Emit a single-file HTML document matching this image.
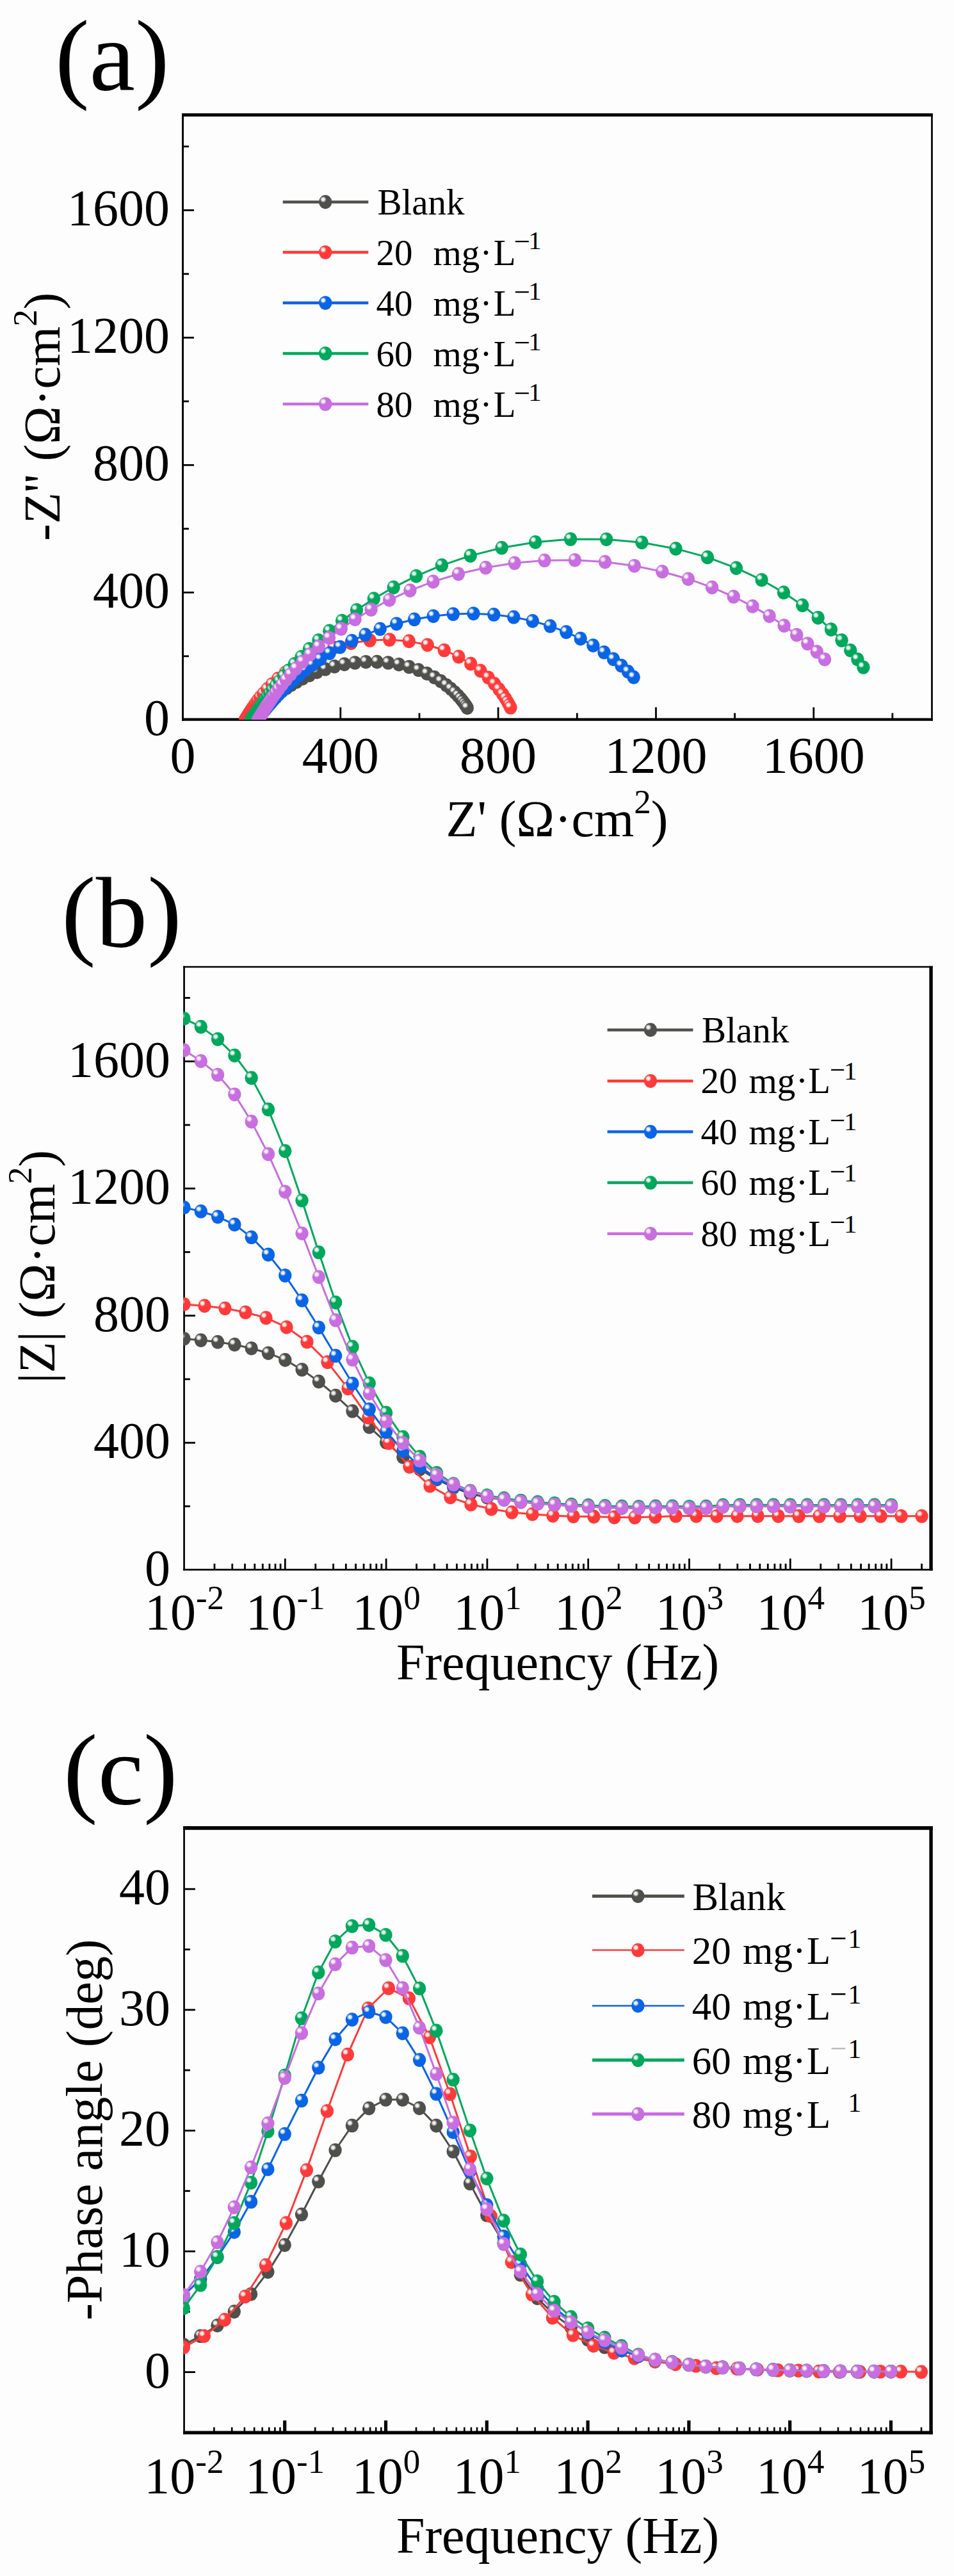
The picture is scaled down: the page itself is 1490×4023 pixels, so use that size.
<!DOCTYPE html>
<html><head><meta charset="utf-8"><style>
html,body{margin:0;padding:0;background:#fdfdfe;}
svg{display:block;}
text{font-family:"Liberation Serif", serif;fill:#000;}
</style></head><body>
<svg width="1490" height="4023" viewBox="0 0 1490 4023">
<defs><radialGradient id="hl"><stop offset="0" stop-color="#fff" stop-opacity="1"/><stop offset="0.45" stop-color="#fff" stop-opacity="0.85"/><stop offset="1" stop-color="#fff" stop-opacity="0"/></radialGradient></defs>
<rect width="1490" height="4023" fill="#fdfdfe"/>
<g stroke="#000" fill="none" stroke-linecap="butt">
<line x1="285.5" y1="177.0" x2="285.5" y2="1125.8" stroke-width="3"/>
<line x1="1455.5" y1="177.0" x2="1455.5" y2="1125.8" stroke-width="2.7"/>
<line x1="284.0" y1="179.5" x2="1456.85" y2="179.5" stroke-width="5"/>
<line x1="284.0" y1="1123.7" x2="1456.85" y2="1123.7" stroke-width="4.2"/>
</g>
<g stroke="#000">
<line x1="286" y1="925.3" x2="303" y2="925.3" stroke-width="2.8"/>
<line x1="286" y1="726.3" x2="303" y2="726.3" stroke-width="2.8"/>
<line x1="286" y1="527.3" x2="303" y2="527.3" stroke-width="2.8"/>
<line x1="286" y1="328.3" x2="303" y2="328.3" stroke-width="2.8"/>
<line x1="286" y1="1024.8" x2="295" y2="1024.8" stroke-width="2.8"/>
<line x1="286" y1="825.8" x2="295" y2="825.8" stroke-width="2.8"/>
<line x1="286" y1="626.8" x2="295" y2="626.8" stroke-width="2.8"/>
<line x1="286" y1="427.8" x2="295" y2="427.8" stroke-width="2.8"/>
<line x1="286" y1="228.8" x2="295" y2="228.8" stroke-width="2.8"/>
</g>
<g stroke="#000">
<line x1="531.8" y1="1122.6" x2="531.8" y2="1104.6" stroke-width="2.8"/>
<line x1="778.1" y1="1122.6" x2="778.1" y2="1104.6" stroke-width="2.8"/>
<line x1="1024.5" y1="1122.6" x2="1024.5" y2="1104.6" stroke-width="2.8"/>
<line x1="1270.8" y1="1122.6" x2="1270.8" y2="1104.6" stroke-width="2.8"/>
<line x1="408.7" y1="1122.6" x2="408.7" y2="1113.6" stroke-width="2.8"/>
<line x1="655.0" y1="1122.6" x2="655.0" y2="1113.6" stroke-width="2.8"/>
<line x1="901.3" y1="1122.6" x2="901.3" y2="1113.6" stroke-width="2.8"/>
<line x1="1147.6" y1="1122.6" x2="1147.6" y2="1113.6" stroke-width="2.8"/>
<line x1="1393.9" y1="1122.6" x2="1393.9" y2="1113.6" stroke-width="2.8"/>
</g>
<clipPath id="ca"><rect x="284" y="177" width="1170" height="947"/></clipPath><g clip-path="url(#ca)">
<polyline points="390.6,1124.2 390.6,1124.2 390.6,1124.2 390.6,1124.2 390.6,1124.2 390.6,1124.1 390.7,1124.1 390.7,1124.1 390.7,1124.1 390.7,1124.1 390.7,1124.0 390.8,1124.0 390.8,1124.0 390.9,1123.9 390.9,1123.9 390.9,1123.8 391.0,1123.8 391.1,1123.7 391.1,1123.6 391.2,1123.5 391.3,1123.4 391.4,1123.3 391.5,1123.2 391.6,1123.1 391.8,1122.9 391.9,1122.8 392.1,1122.6 392.3,1122.4 392.5,1122.2 392.7,1121.9 393.0,1121.6 393.3,1121.3 393.6,1121.0 394.0,1120.6 394.4,1120.1 394.9,1119.6 395.4,1119.1 396.0,1118.5 396.7,1117.8 397.4,1117.0 398.2,1116.1 399.2,1115.2 400.2,1114.1 401.4,1112.9 402.7,1111.5 404.2,1110.0 405.9,1108.4 407.8,1106.5 410.0,1104.5 412.4,1102.2 415.1,1099.7 418.2,1097.0 421.7,1094.0 425.6,1090.7 430.1,1087.1 435.1,1083.1 440.9,1078.9 447.4,1074.5 454.8,1069.7 463.2,1064.8 472.6,1059.7 483.2,1054.6 495.0,1049.7 508.1,1045.0 522.4,1040.8 537.9,1037.4 554.4,1035.0 571.5,1033.7 588.9,1033.6 606.3,1035.0 623.1,1037.7 639.0,1041.5 653.7,1046.3 666.8,1051.9 678.5,1057.8 688.5,1063.9 697.1,1070.0 704.3,1075.9 710.4,1081.4 715.4,1086.5 719.5,1091.2 722.9,1095.4 725.7,1099.1 728.0,1102.4 729.8,1105.4" fill="none" stroke="#4f4f4b" stroke-width="3.0" stroke-linejoin="round"/>
<ellipse cx="390.6" cy="1124.2" rx="10.2" ry="10.8" fill="#4f4f4b"/><circle cx="387.2" cy="1120.2" r="5" fill="url(#hl)"/><ellipse cx="390.6" cy="1124.2" rx="10.2" ry="10.8" fill="#4f4f4b"/><circle cx="387.2" cy="1120.2" r="5" fill="url(#hl)"/><ellipse cx="390.6" cy="1124.2" rx="10.2" ry="10.8" fill="#4f4f4b"/><circle cx="387.2" cy="1120.2" r="5" fill="url(#hl)"/><ellipse cx="390.6" cy="1124.2" rx="10.2" ry="10.8" fill="#4f4f4b"/><circle cx="387.2" cy="1120.2" r="5" fill="url(#hl)"/><ellipse cx="390.6" cy="1124.2" rx="10.2" ry="10.8" fill="#4f4f4b"/><circle cx="387.2" cy="1120.2" r="5" fill="url(#hl)"/><ellipse cx="390.6" cy="1124.1" rx="10.2" ry="10.8" fill="#4f4f4b"/><circle cx="387.2" cy="1120.1" r="5" fill="url(#hl)"/><ellipse cx="390.7" cy="1124.1" rx="10.2" ry="10.8" fill="#4f4f4b"/><circle cx="387.3" cy="1120.1" r="5" fill="url(#hl)"/><ellipse cx="390.7" cy="1124.1" rx="10.2" ry="10.8" fill="#4f4f4b"/><circle cx="387.3" cy="1120.1" r="5" fill="url(#hl)"/><ellipse cx="390.7" cy="1124.1" rx="10.2" ry="10.8" fill="#4f4f4b"/><circle cx="387.3" cy="1120.1" r="5" fill="url(#hl)"/><ellipse cx="390.7" cy="1124.1" rx="10.2" ry="10.8" fill="#4f4f4b"/><circle cx="387.3" cy="1120.1" r="5" fill="url(#hl)"/><ellipse cx="390.7" cy="1124.0" rx="10.2" ry="10.8" fill="#4f4f4b"/><circle cx="387.3" cy="1120.0" r="5" fill="url(#hl)"/><ellipse cx="390.8" cy="1124.0" rx="10.2" ry="10.8" fill="#4f4f4b"/><circle cx="387.4" cy="1120.0" r="5" fill="url(#hl)"/><ellipse cx="390.8" cy="1124.0" rx="10.2" ry="10.8" fill="#4f4f4b"/><circle cx="387.4" cy="1120.0" r="5" fill="url(#hl)"/><ellipse cx="390.9" cy="1123.9" rx="10.2" ry="10.8" fill="#4f4f4b"/><circle cx="387.5" cy="1119.9" r="5" fill="url(#hl)"/><ellipse cx="390.9" cy="1123.9" rx="10.2" ry="10.8" fill="#4f4f4b"/><circle cx="387.5" cy="1119.9" r="5" fill="url(#hl)"/><ellipse cx="390.9" cy="1123.8" rx="10.2" ry="10.8" fill="#4f4f4b"/><circle cx="387.5" cy="1119.8" r="5" fill="url(#hl)"/><ellipse cx="391.0" cy="1123.8" rx="10.2" ry="10.8" fill="#4f4f4b"/><circle cx="387.6" cy="1119.8" r="5" fill="url(#hl)"/><ellipse cx="391.1" cy="1123.7" rx="10.2" ry="10.8" fill="#4f4f4b"/><circle cx="387.7" cy="1119.7" r="5" fill="url(#hl)"/><ellipse cx="391.1" cy="1123.6" rx="10.2" ry="10.8" fill="#4f4f4b"/><circle cx="387.7" cy="1119.6" r="5" fill="url(#hl)"/><ellipse cx="391.2" cy="1123.5" rx="10.2" ry="10.8" fill="#4f4f4b"/><circle cx="387.8" cy="1119.5" r="5" fill="url(#hl)"/><ellipse cx="391.3" cy="1123.4" rx="10.2" ry="10.8" fill="#4f4f4b"/><circle cx="387.9" cy="1119.4" r="5" fill="url(#hl)"/><ellipse cx="391.4" cy="1123.3" rx="10.2" ry="10.8" fill="#4f4f4b"/><circle cx="388.0" cy="1119.3" r="5" fill="url(#hl)"/><ellipse cx="391.5" cy="1123.2" rx="10.2" ry="10.8" fill="#4f4f4b"/><circle cx="388.1" cy="1119.2" r="5" fill="url(#hl)"/><ellipse cx="391.6" cy="1123.1" rx="10.2" ry="10.8" fill="#4f4f4b"/><circle cx="388.2" cy="1119.1" r="5" fill="url(#hl)"/><ellipse cx="391.8" cy="1122.9" rx="10.2" ry="10.8" fill="#4f4f4b"/><circle cx="388.4" cy="1118.9" r="5" fill="url(#hl)"/><ellipse cx="391.9" cy="1122.8" rx="10.2" ry="10.8" fill="#4f4f4b"/><circle cx="388.5" cy="1118.8" r="5" fill="url(#hl)"/><ellipse cx="392.1" cy="1122.6" rx="10.2" ry="10.8" fill="#4f4f4b"/><circle cx="388.7" cy="1118.6" r="5" fill="url(#hl)"/><ellipse cx="392.3" cy="1122.4" rx="10.2" ry="10.8" fill="#4f4f4b"/><circle cx="388.9" cy="1118.4" r="5" fill="url(#hl)"/><ellipse cx="392.5" cy="1122.2" rx="10.2" ry="10.8" fill="#4f4f4b"/><circle cx="389.1" cy="1118.2" r="5" fill="url(#hl)"/><ellipse cx="392.7" cy="1121.9" rx="10.2" ry="10.8" fill="#4f4f4b"/><circle cx="389.3" cy="1117.9" r="5" fill="url(#hl)"/><ellipse cx="393.0" cy="1121.6" rx="10.2" ry="10.8" fill="#4f4f4b"/><circle cx="389.6" cy="1117.6" r="5" fill="url(#hl)"/><ellipse cx="393.3" cy="1121.3" rx="10.2" ry="10.8" fill="#4f4f4b"/><circle cx="389.9" cy="1117.3" r="5" fill="url(#hl)"/><ellipse cx="393.6" cy="1121.0" rx="10.2" ry="10.8" fill="#4f4f4b"/><circle cx="390.2" cy="1117.0" r="5" fill="url(#hl)"/><ellipse cx="394.0" cy="1120.6" rx="10.2" ry="10.8" fill="#4f4f4b"/><circle cx="390.6" cy="1116.6" r="5" fill="url(#hl)"/><ellipse cx="394.4" cy="1120.1" rx="10.2" ry="10.8" fill="#4f4f4b"/><circle cx="391.0" cy="1116.1" r="5" fill="url(#hl)"/><ellipse cx="394.9" cy="1119.6" rx="10.2" ry="10.8" fill="#4f4f4b"/><circle cx="391.5" cy="1115.6" r="5" fill="url(#hl)"/><ellipse cx="395.4" cy="1119.1" rx="10.2" ry="10.8" fill="#4f4f4b"/><circle cx="392.0" cy="1115.1" r="5" fill="url(#hl)"/><ellipse cx="396.0" cy="1118.5" rx="10.2" ry="10.8" fill="#4f4f4b"/><circle cx="392.6" cy="1114.5" r="5" fill="url(#hl)"/><ellipse cx="396.7" cy="1117.8" rx="10.2" ry="10.8" fill="#4f4f4b"/><circle cx="393.3" cy="1113.8" r="5" fill="url(#hl)"/><ellipse cx="397.4" cy="1117.0" rx="10.2" ry="10.8" fill="#4f4f4b"/><circle cx="394.0" cy="1113.0" r="5" fill="url(#hl)"/><ellipse cx="398.2" cy="1116.1" rx="10.2" ry="10.8" fill="#4f4f4b"/><circle cx="394.8" cy="1112.1" r="5" fill="url(#hl)"/><ellipse cx="399.2" cy="1115.2" rx="10.2" ry="10.8" fill="#4f4f4b"/><circle cx="395.8" cy="1111.2" r="5" fill="url(#hl)"/><ellipse cx="400.2" cy="1114.1" rx="10.2" ry="10.8" fill="#4f4f4b"/><circle cx="396.8" cy="1110.1" r="5" fill="url(#hl)"/><ellipse cx="401.4" cy="1112.9" rx="10.2" ry="10.8" fill="#4f4f4b"/><circle cx="398.0" cy="1108.9" r="5" fill="url(#hl)"/><ellipse cx="402.7" cy="1111.5" rx="10.2" ry="10.8" fill="#4f4f4b"/><circle cx="399.3" cy="1107.5" r="5" fill="url(#hl)"/><ellipse cx="404.2" cy="1110.0" rx="10.2" ry="10.8" fill="#4f4f4b"/><circle cx="400.8" cy="1106.0" r="5" fill="url(#hl)"/><ellipse cx="405.9" cy="1108.4" rx="10.2" ry="10.8" fill="#4f4f4b"/><circle cx="402.5" cy="1104.4" r="5" fill="url(#hl)"/><ellipse cx="407.8" cy="1106.5" rx="10.2" ry="10.8" fill="#4f4f4b"/><circle cx="404.4" cy="1102.5" r="5" fill="url(#hl)"/><ellipse cx="410.0" cy="1104.5" rx="10.2" ry="10.8" fill="#4f4f4b"/><circle cx="406.6" cy="1100.5" r="5" fill="url(#hl)"/><ellipse cx="412.4" cy="1102.2" rx="10.2" ry="10.8" fill="#4f4f4b"/><circle cx="409.0" cy="1098.2" r="5" fill="url(#hl)"/><ellipse cx="415.1" cy="1099.7" rx="10.2" ry="10.8" fill="#4f4f4b"/><circle cx="411.7" cy="1095.7" r="5" fill="url(#hl)"/><ellipse cx="418.2" cy="1097.0" rx="10.2" ry="10.8" fill="#4f4f4b"/><circle cx="414.8" cy="1093.0" r="5" fill="url(#hl)"/><ellipse cx="421.7" cy="1094.0" rx="10.2" ry="10.8" fill="#4f4f4b"/><circle cx="418.3" cy="1090.0" r="5" fill="url(#hl)"/><ellipse cx="425.6" cy="1090.7" rx="10.2" ry="10.8" fill="#4f4f4b"/><circle cx="422.2" cy="1086.7" r="5" fill="url(#hl)"/><ellipse cx="430.1" cy="1087.1" rx="10.2" ry="10.8" fill="#4f4f4b"/><circle cx="426.7" cy="1083.1" r="5" fill="url(#hl)"/><ellipse cx="435.1" cy="1083.1" rx="10.2" ry="10.8" fill="#4f4f4b"/><circle cx="431.7" cy="1079.1" r="5" fill="url(#hl)"/><ellipse cx="440.9" cy="1078.9" rx="10.2" ry="10.8" fill="#4f4f4b"/><circle cx="437.5" cy="1074.9" r="5" fill="url(#hl)"/><ellipse cx="447.4" cy="1074.5" rx="10.2" ry="10.8" fill="#4f4f4b"/><circle cx="444.0" cy="1070.5" r="5" fill="url(#hl)"/><ellipse cx="454.8" cy="1069.7" rx="10.2" ry="10.8" fill="#4f4f4b"/><circle cx="451.4" cy="1065.7" r="5" fill="url(#hl)"/><ellipse cx="463.2" cy="1064.8" rx="10.2" ry="10.8" fill="#4f4f4b"/><circle cx="459.8" cy="1060.8" r="5" fill="url(#hl)"/><ellipse cx="472.6" cy="1059.7" rx="10.2" ry="10.8" fill="#4f4f4b"/><circle cx="469.2" cy="1055.7" r="5" fill="url(#hl)"/><ellipse cx="483.2" cy="1054.6" rx="10.2" ry="10.8" fill="#4f4f4b"/><circle cx="479.8" cy="1050.6" r="5" fill="url(#hl)"/><ellipse cx="495.0" cy="1049.7" rx="10.2" ry="10.8" fill="#4f4f4b"/><circle cx="491.6" cy="1045.7" r="5" fill="url(#hl)"/><ellipse cx="508.1" cy="1045.0" rx="10.2" ry="10.8" fill="#4f4f4b"/><circle cx="504.7" cy="1041.0" r="5" fill="url(#hl)"/><ellipse cx="522.4" cy="1040.8" rx="10.2" ry="10.8" fill="#4f4f4b"/><circle cx="519.0" cy="1036.8" r="5" fill="url(#hl)"/><ellipse cx="537.9" cy="1037.4" rx="10.2" ry="10.8" fill="#4f4f4b"/><circle cx="534.5" cy="1033.4" r="5" fill="url(#hl)"/><ellipse cx="554.4" cy="1035.0" rx="10.2" ry="10.8" fill="#4f4f4b"/><circle cx="551.0" cy="1031.0" r="5" fill="url(#hl)"/><ellipse cx="571.5" cy="1033.7" rx="10.2" ry="10.8" fill="#4f4f4b"/><circle cx="568.1" cy="1029.7" r="5" fill="url(#hl)"/><ellipse cx="588.9" cy="1033.6" rx="10.2" ry="10.8" fill="#4f4f4b"/><circle cx="585.5" cy="1029.6" r="5" fill="url(#hl)"/><ellipse cx="606.3" cy="1035.0" rx="10.2" ry="10.8" fill="#4f4f4b"/><circle cx="602.9" cy="1031.0" r="5" fill="url(#hl)"/><ellipse cx="623.1" cy="1037.7" rx="10.2" ry="10.8" fill="#4f4f4b"/><circle cx="619.7" cy="1033.7" r="5" fill="url(#hl)"/><ellipse cx="639.0" cy="1041.5" rx="10.2" ry="10.8" fill="#4f4f4b"/><circle cx="635.6" cy="1037.5" r="5" fill="url(#hl)"/><ellipse cx="653.7" cy="1046.3" rx="10.2" ry="10.8" fill="#4f4f4b"/><circle cx="650.3" cy="1042.3" r="5" fill="url(#hl)"/><ellipse cx="666.8" cy="1051.9" rx="10.2" ry="10.8" fill="#4f4f4b"/><circle cx="663.4" cy="1047.9" r="5" fill="url(#hl)"/><ellipse cx="678.5" cy="1057.8" rx="10.2" ry="10.8" fill="#4f4f4b"/><circle cx="675.1" cy="1053.8" r="5" fill="url(#hl)"/><ellipse cx="688.5" cy="1063.9" rx="10.2" ry="10.8" fill="#4f4f4b"/><circle cx="685.1" cy="1059.9" r="5" fill="url(#hl)"/><ellipse cx="697.1" cy="1070.0" rx="10.2" ry="10.8" fill="#4f4f4b"/><circle cx="693.7" cy="1066.0" r="5" fill="url(#hl)"/><ellipse cx="704.3" cy="1075.9" rx="10.2" ry="10.8" fill="#4f4f4b"/><circle cx="700.9" cy="1071.9" r="5" fill="url(#hl)"/><ellipse cx="710.4" cy="1081.4" rx="10.2" ry="10.8" fill="#4f4f4b"/><circle cx="707.0" cy="1077.4" r="5" fill="url(#hl)"/><ellipse cx="715.4" cy="1086.5" rx="10.2" ry="10.8" fill="#4f4f4b"/><circle cx="712.0" cy="1082.5" r="5" fill="url(#hl)"/><ellipse cx="719.5" cy="1091.2" rx="10.2" ry="10.8" fill="#4f4f4b"/><circle cx="716.1" cy="1087.2" r="5" fill="url(#hl)"/><ellipse cx="722.9" cy="1095.4" rx="10.2" ry="10.8" fill="#4f4f4b"/><circle cx="719.5" cy="1091.4" r="5" fill="url(#hl)"/><ellipse cx="725.7" cy="1099.1" rx="10.2" ry="10.8" fill="#4f4f4b"/><circle cx="722.3" cy="1095.1" r="5" fill="url(#hl)"/><ellipse cx="728.0" cy="1102.4" rx="10.2" ry="10.8" fill="#4f4f4b"/><circle cx="724.6" cy="1098.4" r="5" fill="url(#hl)"/><ellipse cx="729.8" cy="1105.4" rx="10.2" ry="10.8" fill="#4f4f4b"/><circle cx="726.4" cy="1101.4" r="5" fill="url(#hl)"/>
<polyline points="383.3,1124.3 383.3,1124.3 383.3,1124.3 383.3,1124.3 383.3,1124.3 383.3,1124.3 383.3,1124.3 383.3,1124.3 383.3,1124.2 383.3,1124.2 383.3,1124.2 383.3,1124.2 383.3,1124.2 383.3,1124.2 383.3,1124.1 383.4,1124.1 383.4,1124.1 383.4,1124.0 383.4,1124.0 383.5,1123.9 383.5,1123.9 383.5,1123.8 383.6,1123.7 383.6,1123.6 383.7,1123.5 383.8,1123.3 383.9,1123.1 384.0,1122.9 384.2,1122.6 384.3,1122.3 384.6,1121.9 384.8,1121.5 385.1,1121.0 385.4,1120.3 385.9,1119.6 386.4,1118.7 386.9,1117.7 387.7,1116.5 388.5,1115.0 389.5,1113.3 390.8,1111.3 392.3,1108.9 394.1,1106.1 396.3,1102.8 399.0,1098.9 402.2,1094.4 406.2,1089.2 411.2,1083.2 417.3,1076.3 424.9,1068.5 434.2,1059.9 445.8,1050.5 459.9,1040.4 477.0,1030.2 497.5,1020.3 521.3,1011.4 548.3,1004.4 577.7,1000.0 608.3,999.0 638.8,1001.4 667.7,1007.2 693.8,1015.5 716.4,1025.6 735.2,1036.6 750.5,1047.6 762.7,1058.2 772.2,1067.9 779.5,1076.6 785.1,1084.2 789.5,1090.7 792.8,1096.3 795.4,1101.1 797.4,1105.0" fill="none" stroke="#ff3a3a" stroke-width="3.0" stroke-linejoin="round"/>
<ellipse cx="383.3" cy="1124.3" rx="10.2" ry="10.8" fill="#ff3a3a"/><circle cx="379.9" cy="1120.3" r="5" fill="url(#hl)"/><ellipse cx="383.3" cy="1124.3" rx="10.2" ry="10.8" fill="#ff3a3a"/><circle cx="379.9" cy="1120.3" r="5" fill="url(#hl)"/><ellipse cx="383.3" cy="1124.3" rx="10.2" ry="10.8" fill="#ff3a3a"/><circle cx="379.9" cy="1120.3" r="5" fill="url(#hl)"/><ellipse cx="383.3" cy="1124.3" rx="10.2" ry="10.8" fill="#ff3a3a"/><circle cx="379.9" cy="1120.3" r="5" fill="url(#hl)"/><ellipse cx="383.3" cy="1124.3" rx="10.2" ry="10.8" fill="#ff3a3a"/><circle cx="379.9" cy="1120.3" r="5" fill="url(#hl)"/><ellipse cx="383.3" cy="1124.3" rx="10.2" ry="10.8" fill="#ff3a3a"/><circle cx="379.9" cy="1120.3" r="5" fill="url(#hl)"/><ellipse cx="383.3" cy="1124.3" rx="10.2" ry="10.8" fill="#ff3a3a"/><circle cx="379.9" cy="1120.3" r="5" fill="url(#hl)"/><ellipse cx="383.3" cy="1124.3" rx="10.2" ry="10.8" fill="#ff3a3a"/><circle cx="379.9" cy="1120.3" r="5" fill="url(#hl)"/><ellipse cx="383.3" cy="1124.2" rx="10.2" ry="10.8" fill="#ff3a3a"/><circle cx="379.9" cy="1120.2" r="5" fill="url(#hl)"/><ellipse cx="383.3" cy="1124.2" rx="10.2" ry="10.8" fill="#ff3a3a"/><circle cx="379.9" cy="1120.2" r="5" fill="url(#hl)"/><ellipse cx="383.3" cy="1124.2" rx="10.2" ry="10.8" fill="#ff3a3a"/><circle cx="379.9" cy="1120.2" r="5" fill="url(#hl)"/><ellipse cx="383.3" cy="1124.2" rx="10.2" ry="10.8" fill="#ff3a3a"/><circle cx="379.9" cy="1120.2" r="5" fill="url(#hl)"/><ellipse cx="383.3" cy="1124.2" rx="10.2" ry="10.8" fill="#ff3a3a"/><circle cx="379.9" cy="1120.2" r="5" fill="url(#hl)"/><ellipse cx="383.3" cy="1124.2" rx="10.2" ry="10.8" fill="#ff3a3a"/><circle cx="379.9" cy="1120.2" r="5" fill="url(#hl)"/><ellipse cx="383.3" cy="1124.1" rx="10.2" ry="10.8" fill="#ff3a3a"/><circle cx="379.9" cy="1120.1" r="5" fill="url(#hl)"/><ellipse cx="383.4" cy="1124.1" rx="10.2" ry="10.8" fill="#ff3a3a"/><circle cx="380.0" cy="1120.1" r="5" fill="url(#hl)"/><ellipse cx="383.4" cy="1124.1" rx="10.2" ry="10.8" fill="#ff3a3a"/><circle cx="380.0" cy="1120.1" r="5" fill="url(#hl)"/><ellipse cx="383.4" cy="1124.0" rx="10.2" ry="10.8" fill="#ff3a3a"/><circle cx="380.0" cy="1120.0" r="5" fill="url(#hl)"/><ellipse cx="383.4" cy="1124.0" rx="10.2" ry="10.8" fill="#ff3a3a"/><circle cx="380.0" cy="1120.0" r="5" fill="url(#hl)"/><ellipse cx="383.5" cy="1123.9" rx="10.2" ry="10.8" fill="#ff3a3a"/><circle cx="380.1" cy="1119.9" r="5" fill="url(#hl)"/><ellipse cx="383.5" cy="1123.9" rx="10.2" ry="10.8" fill="#ff3a3a"/><circle cx="380.1" cy="1119.9" r="5" fill="url(#hl)"/><ellipse cx="383.5" cy="1123.8" rx="10.2" ry="10.8" fill="#ff3a3a"/><circle cx="380.1" cy="1119.8" r="5" fill="url(#hl)"/><ellipse cx="383.6" cy="1123.7" rx="10.2" ry="10.8" fill="#ff3a3a"/><circle cx="380.2" cy="1119.7" r="5" fill="url(#hl)"/><ellipse cx="383.6" cy="1123.6" rx="10.2" ry="10.8" fill="#ff3a3a"/><circle cx="380.2" cy="1119.6" r="5" fill="url(#hl)"/><ellipse cx="383.7" cy="1123.5" rx="10.2" ry="10.8" fill="#ff3a3a"/><circle cx="380.3" cy="1119.5" r="5" fill="url(#hl)"/><ellipse cx="383.8" cy="1123.3" rx="10.2" ry="10.8" fill="#ff3a3a"/><circle cx="380.4" cy="1119.3" r="5" fill="url(#hl)"/><ellipse cx="383.9" cy="1123.1" rx="10.2" ry="10.8" fill="#ff3a3a"/><circle cx="380.5" cy="1119.1" r="5" fill="url(#hl)"/><ellipse cx="384.0" cy="1122.9" rx="10.2" ry="10.8" fill="#ff3a3a"/><circle cx="380.6" cy="1118.9" r="5" fill="url(#hl)"/><ellipse cx="384.2" cy="1122.6" rx="10.2" ry="10.8" fill="#ff3a3a"/><circle cx="380.8" cy="1118.6" r="5" fill="url(#hl)"/><ellipse cx="384.3" cy="1122.3" rx="10.2" ry="10.8" fill="#ff3a3a"/><circle cx="380.9" cy="1118.3" r="5" fill="url(#hl)"/><ellipse cx="384.6" cy="1121.9" rx="10.2" ry="10.8" fill="#ff3a3a"/><circle cx="381.2" cy="1117.9" r="5" fill="url(#hl)"/><ellipse cx="384.8" cy="1121.5" rx="10.2" ry="10.8" fill="#ff3a3a"/><circle cx="381.4" cy="1117.5" r="5" fill="url(#hl)"/><ellipse cx="385.1" cy="1121.0" rx="10.2" ry="10.8" fill="#ff3a3a"/><circle cx="381.7" cy="1117.0" r="5" fill="url(#hl)"/><ellipse cx="385.4" cy="1120.3" rx="10.2" ry="10.8" fill="#ff3a3a"/><circle cx="382.0" cy="1116.3" r="5" fill="url(#hl)"/><ellipse cx="385.9" cy="1119.6" rx="10.2" ry="10.8" fill="#ff3a3a"/><circle cx="382.5" cy="1115.6" r="5" fill="url(#hl)"/><ellipse cx="386.4" cy="1118.7" rx="10.2" ry="10.8" fill="#ff3a3a"/><circle cx="383.0" cy="1114.7" r="5" fill="url(#hl)"/><ellipse cx="386.9" cy="1117.7" rx="10.2" ry="10.8" fill="#ff3a3a"/><circle cx="383.5" cy="1113.7" r="5" fill="url(#hl)"/><ellipse cx="387.7" cy="1116.5" rx="10.2" ry="10.8" fill="#ff3a3a"/><circle cx="384.3" cy="1112.5" r="5" fill="url(#hl)"/><ellipse cx="388.5" cy="1115.0" rx="10.2" ry="10.8" fill="#ff3a3a"/><circle cx="385.1" cy="1111.0" r="5" fill="url(#hl)"/><ellipse cx="389.5" cy="1113.3" rx="10.2" ry="10.8" fill="#ff3a3a"/><circle cx="386.1" cy="1109.3" r="5" fill="url(#hl)"/><ellipse cx="390.8" cy="1111.3" rx="10.2" ry="10.8" fill="#ff3a3a"/><circle cx="387.4" cy="1107.3" r="5" fill="url(#hl)"/><ellipse cx="392.3" cy="1108.9" rx="10.2" ry="10.8" fill="#ff3a3a"/><circle cx="388.9" cy="1104.9" r="5" fill="url(#hl)"/><ellipse cx="394.1" cy="1106.1" rx="10.2" ry="10.8" fill="#ff3a3a"/><circle cx="390.7" cy="1102.1" r="5" fill="url(#hl)"/><ellipse cx="396.3" cy="1102.8" rx="10.2" ry="10.8" fill="#ff3a3a"/><circle cx="392.9" cy="1098.8" r="5" fill="url(#hl)"/><ellipse cx="399.0" cy="1098.9" rx="10.2" ry="10.8" fill="#ff3a3a"/><circle cx="395.6" cy="1094.9" r="5" fill="url(#hl)"/><ellipse cx="402.2" cy="1094.4" rx="10.2" ry="10.8" fill="#ff3a3a"/><circle cx="398.8" cy="1090.4" r="5" fill="url(#hl)"/><ellipse cx="406.2" cy="1089.2" rx="10.2" ry="10.8" fill="#ff3a3a"/><circle cx="402.8" cy="1085.2" r="5" fill="url(#hl)"/><ellipse cx="411.2" cy="1083.2" rx="10.2" ry="10.8" fill="#ff3a3a"/><circle cx="407.8" cy="1079.2" r="5" fill="url(#hl)"/><ellipse cx="417.3" cy="1076.3" rx="10.2" ry="10.8" fill="#ff3a3a"/><circle cx="413.9" cy="1072.3" r="5" fill="url(#hl)"/><ellipse cx="424.9" cy="1068.5" rx="10.2" ry="10.8" fill="#ff3a3a"/><circle cx="421.5" cy="1064.5" r="5" fill="url(#hl)"/><ellipse cx="434.2" cy="1059.9" rx="10.2" ry="10.8" fill="#ff3a3a"/><circle cx="430.8" cy="1055.9" r="5" fill="url(#hl)"/><ellipse cx="445.8" cy="1050.5" rx="10.2" ry="10.8" fill="#ff3a3a"/><circle cx="442.4" cy="1046.5" r="5" fill="url(#hl)"/><ellipse cx="459.9" cy="1040.4" rx="10.2" ry="10.8" fill="#ff3a3a"/><circle cx="456.5" cy="1036.4" r="5" fill="url(#hl)"/><ellipse cx="477.0" cy="1030.2" rx="10.2" ry="10.8" fill="#ff3a3a"/><circle cx="473.6" cy="1026.2" r="5" fill="url(#hl)"/><ellipse cx="497.5" cy="1020.3" rx="10.2" ry="10.8" fill="#ff3a3a"/><circle cx="494.1" cy="1016.3" r="5" fill="url(#hl)"/><ellipse cx="521.3" cy="1011.4" rx="10.2" ry="10.8" fill="#ff3a3a"/><circle cx="517.9" cy="1007.4" r="5" fill="url(#hl)"/><ellipse cx="548.3" cy="1004.4" rx="10.2" ry="10.8" fill="#ff3a3a"/><circle cx="544.9" cy="1000.4" r="5" fill="url(#hl)"/><ellipse cx="577.7" cy="1000.0" rx="10.2" ry="10.8" fill="#ff3a3a"/><circle cx="574.3" cy="996.0" r="5" fill="url(#hl)"/><ellipse cx="608.3" cy="999.0" rx="10.2" ry="10.8" fill="#ff3a3a"/><circle cx="604.9" cy="995.0" r="5" fill="url(#hl)"/><ellipse cx="638.8" cy="1001.4" rx="10.2" ry="10.8" fill="#ff3a3a"/><circle cx="635.4" cy="997.4" r="5" fill="url(#hl)"/><ellipse cx="667.7" cy="1007.2" rx="10.2" ry="10.8" fill="#ff3a3a"/><circle cx="664.3" cy="1003.2" r="5" fill="url(#hl)"/><ellipse cx="693.8" cy="1015.5" rx="10.2" ry="10.8" fill="#ff3a3a"/><circle cx="690.4" cy="1011.5" r="5" fill="url(#hl)"/><ellipse cx="716.4" cy="1025.6" rx="10.2" ry="10.8" fill="#ff3a3a"/><circle cx="713.0" cy="1021.6" r="5" fill="url(#hl)"/><ellipse cx="735.2" cy="1036.6" rx="10.2" ry="10.8" fill="#ff3a3a"/><circle cx="731.8" cy="1032.6" r="5" fill="url(#hl)"/><ellipse cx="750.5" cy="1047.6" rx="10.2" ry="10.8" fill="#ff3a3a"/><circle cx="747.1" cy="1043.6" r="5" fill="url(#hl)"/><ellipse cx="762.7" cy="1058.2" rx="10.2" ry="10.8" fill="#ff3a3a"/><circle cx="759.3" cy="1054.2" r="5" fill="url(#hl)"/><ellipse cx="772.2" cy="1067.9" rx="10.2" ry="10.8" fill="#ff3a3a"/><circle cx="768.8" cy="1063.9" r="5" fill="url(#hl)"/><ellipse cx="779.5" cy="1076.6" rx="10.2" ry="10.8" fill="#ff3a3a"/><circle cx="776.1" cy="1072.6" r="5" fill="url(#hl)"/><ellipse cx="785.1" cy="1084.2" rx="10.2" ry="10.8" fill="#ff3a3a"/><circle cx="781.7" cy="1080.2" r="5" fill="url(#hl)"/><ellipse cx="789.5" cy="1090.7" rx="10.2" ry="10.8" fill="#ff3a3a"/><circle cx="786.1" cy="1086.7" r="5" fill="url(#hl)"/><ellipse cx="792.8" cy="1096.3" rx="10.2" ry="10.8" fill="#ff3a3a"/><circle cx="789.4" cy="1092.3" r="5" fill="url(#hl)"/><ellipse cx="795.4" cy="1101.1" rx="10.2" ry="10.8" fill="#ff3a3a"/><circle cx="792.0" cy="1097.1" r="5" fill="url(#hl)"/><ellipse cx="797.4" cy="1105.0" rx="10.2" ry="10.8" fill="#ff3a3a"/><circle cx="794.0" cy="1101.0" r="5" fill="url(#hl)"/>
<polyline points="401.2,1124.2 401.2,1124.2 401.2,1124.2 401.2,1124.2 401.2,1124.2 401.2,1124.2 401.3,1124.2 401.3,1124.2 401.3,1124.2 401.3,1124.1 401.3,1124.1 401.3,1124.1 401.3,1124.1 401.4,1124.0 401.4,1124.0 401.4,1124.0 401.5,1123.9 401.5,1123.9 401.5,1123.8 401.6,1123.7 401.7,1123.7 401.7,1123.6 401.8,1123.5 401.9,1123.4 402.0,1123.3 402.1,1123.1 402.2,1123.0 402.3,1122.8 402.5,1122.6 402.6,1122.4 402.8,1122.1 403.1,1121.9 403.3,1121.5 403.6,1121.2 403.9,1120.8 404.3,1120.3 404.7,1119.8 405.2,1119.2 405.7,1118.5 406.3,1117.8 407.0,1116.9 407.7,1116.0 408.6,1114.9 409.6,1113.6 410.7,1112.3 412.0,1110.7 413.4,1108.9 415.1,1107.0 417.0,1104.7 419.1,1102.2 421.6,1099.4 424.3,1096.3 427.5,1092.7 431.1,1088.8 435.3,1084.4 440.1,1079.5 445.5,1074.1 451.8,1068.1 459.0,1061.6 467.3,1054.4 476.8,1046.7 487.8,1038.3 500.3,1029.4 514.7,1020.1 531.0,1010.5 549.6,1000.8 570.5,991.3 593.7,982.3 619.3,974.2 647.1,967.3 676.8,962.2 707.8,959.0 739.5,958.2 771.3,959.8 802.3,963.8 831.8,969.9 859.3,977.8 884.3,987.1 906.7,997.4 926.4,1008.1 943.5,1018.8 958.1,1029.4 970.5,1039.5 980.9,1048.9 989.7,1057.6" fill="none" stroke="#0a64e6" stroke-width="3.0" stroke-linejoin="round"/>
<ellipse cx="401.2" cy="1124.2" rx="10.2" ry="10.8" fill="#0a64e6"/><circle cx="397.8" cy="1120.2" r="5" fill="url(#hl)"/><ellipse cx="401.2" cy="1124.2" rx="10.2" ry="10.8" fill="#0a64e6"/><circle cx="397.8" cy="1120.2" r="5" fill="url(#hl)"/><ellipse cx="401.2" cy="1124.2" rx="10.2" ry="10.8" fill="#0a64e6"/><circle cx="397.8" cy="1120.2" r="5" fill="url(#hl)"/><ellipse cx="401.2" cy="1124.2" rx="10.2" ry="10.8" fill="#0a64e6"/><circle cx="397.8" cy="1120.2" r="5" fill="url(#hl)"/><ellipse cx="401.2" cy="1124.2" rx="10.2" ry="10.8" fill="#0a64e6"/><circle cx="397.8" cy="1120.2" r="5" fill="url(#hl)"/><ellipse cx="401.2" cy="1124.2" rx="10.2" ry="10.8" fill="#0a64e6"/><circle cx="397.8" cy="1120.2" r="5" fill="url(#hl)"/><ellipse cx="401.3" cy="1124.2" rx="10.2" ry="10.8" fill="#0a64e6"/><circle cx="397.9" cy="1120.2" r="5" fill="url(#hl)"/><ellipse cx="401.3" cy="1124.2" rx="10.2" ry="10.8" fill="#0a64e6"/><circle cx="397.9" cy="1120.2" r="5" fill="url(#hl)"/><ellipse cx="401.3" cy="1124.2" rx="10.2" ry="10.8" fill="#0a64e6"/><circle cx="397.9" cy="1120.2" r="5" fill="url(#hl)"/><ellipse cx="401.3" cy="1124.1" rx="10.2" ry="10.8" fill="#0a64e6"/><circle cx="397.9" cy="1120.1" r="5" fill="url(#hl)"/><ellipse cx="401.3" cy="1124.1" rx="10.2" ry="10.8" fill="#0a64e6"/><circle cx="397.9" cy="1120.1" r="5" fill="url(#hl)"/><ellipse cx="401.3" cy="1124.1" rx="10.2" ry="10.8" fill="#0a64e6"/><circle cx="397.9" cy="1120.1" r="5" fill="url(#hl)"/><ellipse cx="401.3" cy="1124.1" rx="10.2" ry="10.8" fill="#0a64e6"/><circle cx="397.9" cy="1120.1" r="5" fill="url(#hl)"/><ellipse cx="401.4" cy="1124.0" rx="10.2" ry="10.8" fill="#0a64e6"/><circle cx="398.0" cy="1120.0" r="5" fill="url(#hl)"/><ellipse cx="401.4" cy="1124.0" rx="10.2" ry="10.8" fill="#0a64e6"/><circle cx="398.0" cy="1120.0" r="5" fill="url(#hl)"/><ellipse cx="401.4" cy="1124.0" rx="10.2" ry="10.8" fill="#0a64e6"/><circle cx="398.0" cy="1120.0" r="5" fill="url(#hl)"/><ellipse cx="401.5" cy="1123.9" rx="10.2" ry="10.8" fill="#0a64e6"/><circle cx="398.1" cy="1119.9" r="5" fill="url(#hl)"/><ellipse cx="401.5" cy="1123.9" rx="10.2" ry="10.8" fill="#0a64e6"/><circle cx="398.1" cy="1119.9" r="5" fill="url(#hl)"/><ellipse cx="401.5" cy="1123.8" rx="10.2" ry="10.8" fill="#0a64e6"/><circle cx="398.1" cy="1119.8" r="5" fill="url(#hl)"/><ellipse cx="401.6" cy="1123.7" rx="10.2" ry="10.8" fill="#0a64e6"/><circle cx="398.2" cy="1119.7" r="5" fill="url(#hl)"/><ellipse cx="401.7" cy="1123.7" rx="10.2" ry="10.8" fill="#0a64e6"/><circle cx="398.3" cy="1119.7" r="5" fill="url(#hl)"/><ellipse cx="401.7" cy="1123.6" rx="10.2" ry="10.8" fill="#0a64e6"/><circle cx="398.3" cy="1119.6" r="5" fill="url(#hl)"/><ellipse cx="401.8" cy="1123.5" rx="10.2" ry="10.8" fill="#0a64e6"/><circle cx="398.4" cy="1119.5" r="5" fill="url(#hl)"/><ellipse cx="401.9" cy="1123.4" rx="10.2" ry="10.8" fill="#0a64e6"/><circle cx="398.5" cy="1119.4" r="5" fill="url(#hl)"/><ellipse cx="402.0" cy="1123.3" rx="10.2" ry="10.8" fill="#0a64e6"/><circle cx="398.6" cy="1119.3" r="5" fill="url(#hl)"/><ellipse cx="402.1" cy="1123.1" rx="10.2" ry="10.8" fill="#0a64e6"/><circle cx="398.7" cy="1119.1" r="5" fill="url(#hl)"/><ellipse cx="402.2" cy="1123.0" rx="10.2" ry="10.8" fill="#0a64e6"/><circle cx="398.8" cy="1119.0" r="5" fill="url(#hl)"/><ellipse cx="402.3" cy="1122.8" rx="10.2" ry="10.8" fill="#0a64e6"/><circle cx="398.9" cy="1118.8" r="5" fill="url(#hl)"/><ellipse cx="402.5" cy="1122.6" rx="10.2" ry="10.8" fill="#0a64e6"/><circle cx="399.1" cy="1118.6" r="5" fill="url(#hl)"/><ellipse cx="402.6" cy="1122.4" rx="10.2" ry="10.8" fill="#0a64e6"/><circle cx="399.2" cy="1118.4" r="5" fill="url(#hl)"/><ellipse cx="402.8" cy="1122.1" rx="10.2" ry="10.8" fill="#0a64e6"/><circle cx="399.4" cy="1118.1" r="5" fill="url(#hl)"/><ellipse cx="403.1" cy="1121.9" rx="10.2" ry="10.8" fill="#0a64e6"/><circle cx="399.7" cy="1117.9" r="5" fill="url(#hl)"/><ellipse cx="403.3" cy="1121.5" rx="10.2" ry="10.8" fill="#0a64e6"/><circle cx="399.9" cy="1117.5" r="5" fill="url(#hl)"/><ellipse cx="403.6" cy="1121.2" rx="10.2" ry="10.8" fill="#0a64e6"/><circle cx="400.2" cy="1117.2" r="5" fill="url(#hl)"/><ellipse cx="403.9" cy="1120.8" rx="10.2" ry="10.8" fill="#0a64e6"/><circle cx="400.5" cy="1116.8" r="5" fill="url(#hl)"/><ellipse cx="404.3" cy="1120.3" rx="10.2" ry="10.8" fill="#0a64e6"/><circle cx="400.9" cy="1116.3" r="5" fill="url(#hl)"/><ellipse cx="404.7" cy="1119.8" rx="10.2" ry="10.8" fill="#0a64e6"/><circle cx="401.3" cy="1115.8" r="5" fill="url(#hl)"/><ellipse cx="405.2" cy="1119.2" rx="10.2" ry="10.8" fill="#0a64e6"/><circle cx="401.8" cy="1115.2" r="5" fill="url(#hl)"/><ellipse cx="405.7" cy="1118.5" rx="10.2" ry="10.8" fill="#0a64e6"/><circle cx="402.3" cy="1114.5" r="5" fill="url(#hl)"/><ellipse cx="406.3" cy="1117.8" rx="10.2" ry="10.8" fill="#0a64e6"/><circle cx="402.9" cy="1113.8" r="5" fill="url(#hl)"/><ellipse cx="407.0" cy="1116.9" rx="10.2" ry="10.8" fill="#0a64e6"/><circle cx="403.6" cy="1112.9" r="5" fill="url(#hl)"/><ellipse cx="407.7" cy="1116.0" rx="10.2" ry="10.8" fill="#0a64e6"/><circle cx="404.3" cy="1112.0" r="5" fill="url(#hl)"/><ellipse cx="408.6" cy="1114.9" rx="10.2" ry="10.8" fill="#0a64e6"/><circle cx="405.2" cy="1110.9" r="5" fill="url(#hl)"/><ellipse cx="409.6" cy="1113.6" rx="10.2" ry="10.8" fill="#0a64e6"/><circle cx="406.2" cy="1109.6" r="5" fill="url(#hl)"/><ellipse cx="410.7" cy="1112.3" rx="10.2" ry="10.8" fill="#0a64e6"/><circle cx="407.3" cy="1108.3" r="5" fill="url(#hl)"/><ellipse cx="412.0" cy="1110.7" rx="10.2" ry="10.8" fill="#0a64e6"/><circle cx="408.6" cy="1106.7" r="5" fill="url(#hl)"/><ellipse cx="413.4" cy="1108.9" rx="10.2" ry="10.8" fill="#0a64e6"/><circle cx="410.0" cy="1104.9" r="5" fill="url(#hl)"/><ellipse cx="415.1" cy="1107.0" rx="10.2" ry="10.8" fill="#0a64e6"/><circle cx="411.7" cy="1103.0" r="5" fill="url(#hl)"/><ellipse cx="417.0" cy="1104.7" rx="10.2" ry="10.8" fill="#0a64e6"/><circle cx="413.6" cy="1100.7" r="5" fill="url(#hl)"/><ellipse cx="419.1" cy="1102.2" rx="10.2" ry="10.8" fill="#0a64e6"/><circle cx="415.7" cy="1098.2" r="5" fill="url(#hl)"/><ellipse cx="421.6" cy="1099.4" rx="10.2" ry="10.8" fill="#0a64e6"/><circle cx="418.2" cy="1095.4" r="5" fill="url(#hl)"/><ellipse cx="424.3" cy="1096.3" rx="10.2" ry="10.8" fill="#0a64e6"/><circle cx="420.9" cy="1092.3" r="5" fill="url(#hl)"/><ellipse cx="427.5" cy="1092.7" rx="10.2" ry="10.8" fill="#0a64e6"/><circle cx="424.1" cy="1088.7" r="5" fill="url(#hl)"/><ellipse cx="431.1" cy="1088.8" rx="10.2" ry="10.8" fill="#0a64e6"/><circle cx="427.7" cy="1084.8" r="5" fill="url(#hl)"/><ellipse cx="435.3" cy="1084.4" rx="10.2" ry="10.8" fill="#0a64e6"/><circle cx="431.9" cy="1080.4" r="5" fill="url(#hl)"/><ellipse cx="440.1" cy="1079.5" rx="10.2" ry="10.8" fill="#0a64e6"/><circle cx="436.7" cy="1075.5" r="5" fill="url(#hl)"/><ellipse cx="445.5" cy="1074.1" rx="10.2" ry="10.8" fill="#0a64e6"/><circle cx="442.1" cy="1070.1" r="5" fill="url(#hl)"/><ellipse cx="451.8" cy="1068.1" rx="10.2" ry="10.8" fill="#0a64e6"/><circle cx="448.4" cy="1064.1" r="5" fill="url(#hl)"/><ellipse cx="459.0" cy="1061.6" rx="10.2" ry="10.8" fill="#0a64e6"/><circle cx="455.6" cy="1057.6" r="5" fill="url(#hl)"/><ellipse cx="467.3" cy="1054.4" rx="10.2" ry="10.8" fill="#0a64e6"/><circle cx="463.9" cy="1050.4" r="5" fill="url(#hl)"/><ellipse cx="476.8" cy="1046.7" rx="10.2" ry="10.8" fill="#0a64e6"/><circle cx="473.4" cy="1042.7" r="5" fill="url(#hl)"/><ellipse cx="487.8" cy="1038.3" rx="10.2" ry="10.8" fill="#0a64e6"/><circle cx="484.4" cy="1034.3" r="5" fill="url(#hl)"/><ellipse cx="500.3" cy="1029.4" rx="10.2" ry="10.8" fill="#0a64e6"/><circle cx="496.9" cy="1025.4" r="5" fill="url(#hl)"/><ellipse cx="514.7" cy="1020.1" rx="10.2" ry="10.8" fill="#0a64e6"/><circle cx="511.3" cy="1016.1" r="5" fill="url(#hl)"/><ellipse cx="531.0" cy="1010.5" rx="10.2" ry="10.8" fill="#0a64e6"/><circle cx="527.6" cy="1006.5" r="5" fill="url(#hl)"/><ellipse cx="549.6" cy="1000.8" rx="10.2" ry="10.8" fill="#0a64e6"/><circle cx="546.2" cy="996.8" r="5" fill="url(#hl)"/><ellipse cx="570.5" cy="991.3" rx="10.2" ry="10.8" fill="#0a64e6"/><circle cx="567.1" cy="987.3" r="5" fill="url(#hl)"/><ellipse cx="593.7" cy="982.3" rx="10.2" ry="10.8" fill="#0a64e6"/><circle cx="590.3" cy="978.3" r="5" fill="url(#hl)"/><ellipse cx="619.3" cy="974.2" rx="10.2" ry="10.8" fill="#0a64e6"/><circle cx="615.9" cy="970.2" r="5" fill="url(#hl)"/><ellipse cx="647.1" cy="967.3" rx="10.2" ry="10.8" fill="#0a64e6"/><circle cx="643.7" cy="963.3" r="5" fill="url(#hl)"/><ellipse cx="676.8" cy="962.2" rx="10.2" ry="10.8" fill="#0a64e6"/><circle cx="673.4" cy="958.2" r="5" fill="url(#hl)"/><ellipse cx="707.8" cy="959.0" rx="10.2" ry="10.8" fill="#0a64e6"/><circle cx="704.4" cy="955.0" r="5" fill="url(#hl)"/><ellipse cx="739.5" cy="958.2" rx="10.2" ry="10.8" fill="#0a64e6"/><circle cx="736.1" cy="954.2" r="5" fill="url(#hl)"/><ellipse cx="771.3" cy="959.8" rx="10.2" ry="10.8" fill="#0a64e6"/><circle cx="767.9" cy="955.8" r="5" fill="url(#hl)"/><ellipse cx="802.3" cy="963.8" rx="10.2" ry="10.8" fill="#0a64e6"/><circle cx="798.9" cy="959.8" r="5" fill="url(#hl)"/><ellipse cx="831.8" cy="969.9" rx="10.2" ry="10.8" fill="#0a64e6"/><circle cx="828.4" cy="965.9" r="5" fill="url(#hl)"/><ellipse cx="859.3" cy="977.8" rx="10.2" ry="10.8" fill="#0a64e6"/><circle cx="855.9" cy="973.8" r="5" fill="url(#hl)"/><ellipse cx="884.3" cy="987.1" rx="10.2" ry="10.8" fill="#0a64e6"/><circle cx="880.9" cy="983.1" r="5" fill="url(#hl)"/><ellipse cx="906.7" cy="997.4" rx="10.2" ry="10.8" fill="#0a64e6"/><circle cx="903.3" cy="993.4" r="5" fill="url(#hl)"/><ellipse cx="926.4" cy="1008.1" rx="10.2" ry="10.8" fill="#0a64e6"/><circle cx="923.0" cy="1004.1" r="5" fill="url(#hl)"/><ellipse cx="943.5" cy="1018.8" rx="10.2" ry="10.8" fill="#0a64e6"/><circle cx="940.1" cy="1014.8" r="5" fill="url(#hl)"/><ellipse cx="958.1" cy="1029.4" rx="10.2" ry="10.8" fill="#0a64e6"/><circle cx="954.7" cy="1025.4" r="5" fill="url(#hl)"/><ellipse cx="970.5" cy="1039.5" rx="10.2" ry="10.8" fill="#0a64e6"/><circle cx="967.1" cy="1035.5" r="5" fill="url(#hl)"/><ellipse cx="980.9" cy="1048.9" rx="10.2" ry="10.8" fill="#0a64e6"/><circle cx="977.5" cy="1044.9" r="5" fill="url(#hl)"/><ellipse cx="989.7" cy="1057.6" rx="10.2" ry="10.8" fill="#0a64e6"/><circle cx="986.3" cy="1053.6" r="5" fill="url(#hl)"/>
<polyline points="392.1,1124.2 392.1,1124.2 392.1,1124.2 392.1,1124.2 392.1,1124.2 392.1,1124.2 392.1,1124.2 392.1,1124.2 392.1,1124.1 392.2,1124.1 392.2,1124.1 392.2,1124.1 392.2,1124.0 392.2,1124.0 392.3,1123.9 392.3,1123.9 392.4,1123.8 392.4,1123.8 392.5,1123.7 392.5,1123.6 392.6,1123.5 392.7,1123.4 392.7,1123.2 392.8,1123.1 393.0,1122.9 393.1,1122.7 393.2,1122.5 393.4,1122.3 393.6,1122.0 393.8,1121.6 394.1,1121.3 394.3,1120.8 394.7,1120.4 395.0,1119.8 395.5,1119.2 396.0,1118.5 396.5,1117.6 397.1,1116.7 397.9,1115.6 398.7,1114.4 399.6,1113.0 400.7,1111.5 402.0,1109.7 403.4,1107.6 405.0,1105.3 406.9,1102.7 409.0,1099.7 411.5,1096.3 414.3,1092.4 417.5,1088.0 421.3,1083.1 425.6,1077.5 430.6,1071.1 436.4,1064.0 443.1,1056.0 450.9,1047.0 460.0,1037.0 470.6,1025.8 483.0,1013.5 497.5,1000.0 514.4,985.3 534.1,969.5 557.1,952.7 583.8,935.1 614.7,917.3 650.0,899.7 690.0,882.9 734.7,867.9 783.6,855.5 836.2,846.7 891.1,842.0 947.1,842.2 1002.4,847.2 1055.5,856.9 1105.0,870.4 1149.9,887.1 1189.6,905.7 1224.0,925.4 1253.2,945.3 1277.7,964.7 1298.0,983.1 1314.6,1000.1 1328.3,1015.7 1339.4,1029.7 1348.4,1042.2" fill="none" stroke="#00a85c" stroke-width="3.0" stroke-linejoin="round"/>
<ellipse cx="392.1" cy="1124.2" rx="10.2" ry="10.8" fill="#00a85c"/><circle cx="388.7" cy="1120.2" r="5" fill="url(#hl)"/><ellipse cx="392.1" cy="1124.2" rx="10.2" ry="10.8" fill="#00a85c"/><circle cx="388.7" cy="1120.2" r="5" fill="url(#hl)"/><ellipse cx="392.1" cy="1124.2" rx="10.2" ry="10.8" fill="#00a85c"/><circle cx="388.7" cy="1120.2" r="5" fill="url(#hl)"/><ellipse cx="392.1" cy="1124.2" rx="10.2" ry="10.8" fill="#00a85c"/><circle cx="388.7" cy="1120.2" r="5" fill="url(#hl)"/><ellipse cx="392.1" cy="1124.2" rx="10.2" ry="10.8" fill="#00a85c"/><circle cx="388.7" cy="1120.2" r="5" fill="url(#hl)"/><ellipse cx="392.1" cy="1124.2" rx="10.2" ry="10.8" fill="#00a85c"/><circle cx="388.7" cy="1120.2" r="5" fill="url(#hl)"/><ellipse cx="392.1" cy="1124.2" rx="10.2" ry="10.8" fill="#00a85c"/><circle cx="388.7" cy="1120.2" r="5" fill="url(#hl)"/><ellipse cx="392.1" cy="1124.2" rx="10.2" ry="10.8" fill="#00a85c"/><circle cx="388.7" cy="1120.2" r="5" fill="url(#hl)"/><ellipse cx="392.1" cy="1124.1" rx="10.2" ry="10.8" fill="#00a85c"/><circle cx="388.7" cy="1120.1" r="5" fill="url(#hl)"/><ellipse cx="392.2" cy="1124.1" rx="10.2" ry="10.8" fill="#00a85c"/><circle cx="388.8" cy="1120.1" r="5" fill="url(#hl)"/><ellipse cx="392.2" cy="1124.1" rx="10.2" ry="10.8" fill="#00a85c"/><circle cx="388.8" cy="1120.1" r="5" fill="url(#hl)"/><ellipse cx="392.2" cy="1124.1" rx="10.2" ry="10.8" fill="#00a85c"/><circle cx="388.8" cy="1120.1" r="5" fill="url(#hl)"/><ellipse cx="392.2" cy="1124.0" rx="10.2" ry="10.8" fill="#00a85c"/><circle cx="388.8" cy="1120.0" r="5" fill="url(#hl)"/><ellipse cx="392.2" cy="1124.0" rx="10.2" ry="10.8" fill="#00a85c"/><circle cx="388.8" cy="1120.0" r="5" fill="url(#hl)"/><ellipse cx="392.3" cy="1123.9" rx="10.2" ry="10.8" fill="#00a85c"/><circle cx="388.9" cy="1119.9" r="5" fill="url(#hl)"/><ellipse cx="392.3" cy="1123.9" rx="10.2" ry="10.8" fill="#00a85c"/><circle cx="388.9" cy="1119.9" r="5" fill="url(#hl)"/><ellipse cx="392.4" cy="1123.8" rx="10.2" ry="10.8" fill="#00a85c"/><circle cx="389.0" cy="1119.8" r="5" fill="url(#hl)"/><ellipse cx="392.4" cy="1123.8" rx="10.2" ry="10.8" fill="#00a85c"/><circle cx="389.0" cy="1119.8" r="5" fill="url(#hl)"/><ellipse cx="392.5" cy="1123.7" rx="10.2" ry="10.8" fill="#00a85c"/><circle cx="389.1" cy="1119.7" r="5" fill="url(#hl)"/><ellipse cx="392.5" cy="1123.6" rx="10.2" ry="10.8" fill="#00a85c"/><circle cx="389.1" cy="1119.6" r="5" fill="url(#hl)"/><ellipse cx="392.6" cy="1123.5" rx="10.2" ry="10.8" fill="#00a85c"/><circle cx="389.2" cy="1119.5" r="5" fill="url(#hl)"/><ellipse cx="392.7" cy="1123.4" rx="10.2" ry="10.8" fill="#00a85c"/><circle cx="389.3" cy="1119.4" r="5" fill="url(#hl)"/><ellipse cx="392.7" cy="1123.2" rx="10.2" ry="10.8" fill="#00a85c"/><circle cx="389.3" cy="1119.2" r="5" fill="url(#hl)"/><ellipse cx="392.8" cy="1123.1" rx="10.2" ry="10.8" fill="#00a85c"/><circle cx="389.4" cy="1119.1" r="5" fill="url(#hl)"/><ellipse cx="393.0" cy="1122.9" rx="10.2" ry="10.8" fill="#00a85c"/><circle cx="389.6" cy="1118.9" r="5" fill="url(#hl)"/><ellipse cx="393.1" cy="1122.7" rx="10.2" ry="10.8" fill="#00a85c"/><circle cx="389.7" cy="1118.7" r="5" fill="url(#hl)"/><ellipse cx="393.2" cy="1122.5" rx="10.2" ry="10.8" fill="#00a85c"/><circle cx="389.8" cy="1118.5" r="5" fill="url(#hl)"/><ellipse cx="393.4" cy="1122.3" rx="10.2" ry="10.8" fill="#00a85c"/><circle cx="390.0" cy="1118.3" r="5" fill="url(#hl)"/><ellipse cx="393.6" cy="1122.0" rx="10.2" ry="10.8" fill="#00a85c"/><circle cx="390.2" cy="1118.0" r="5" fill="url(#hl)"/><ellipse cx="393.8" cy="1121.6" rx="10.2" ry="10.8" fill="#00a85c"/><circle cx="390.4" cy="1117.6" r="5" fill="url(#hl)"/><ellipse cx="394.1" cy="1121.3" rx="10.2" ry="10.8" fill="#00a85c"/><circle cx="390.7" cy="1117.3" r="5" fill="url(#hl)"/><ellipse cx="394.3" cy="1120.8" rx="10.2" ry="10.8" fill="#00a85c"/><circle cx="390.9" cy="1116.8" r="5" fill="url(#hl)"/><ellipse cx="394.7" cy="1120.4" rx="10.2" ry="10.8" fill="#00a85c"/><circle cx="391.3" cy="1116.4" r="5" fill="url(#hl)"/><ellipse cx="395.0" cy="1119.8" rx="10.2" ry="10.8" fill="#00a85c"/><circle cx="391.6" cy="1115.8" r="5" fill="url(#hl)"/><ellipse cx="395.5" cy="1119.2" rx="10.2" ry="10.8" fill="#00a85c"/><circle cx="392.1" cy="1115.2" r="5" fill="url(#hl)"/><ellipse cx="396.0" cy="1118.5" rx="10.2" ry="10.8" fill="#00a85c"/><circle cx="392.6" cy="1114.5" r="5" fill="url(#hl)"/><ellipse cx="396.5" cy="1117.6" rx="10.2" ry="10.8" fill="#00a85c"/><circle cx="393.1" cy="1113.6" r="5" fill="url(#hl)"/><ellipse cx="397.1" cy="1116.7" rx="10.2" ry="10.8" fill="#00a85c"/><circle cx="393.7" cy="1112.7" r="5" fill="url(#hl)"/><ellipse cx="397.9" cy="1115.6" rx="10.2" ry="10.8" fill="#00a85c"/><circle cx="394.5" cy="1111.6" r="5" fill="url(#hl)"/><ellipse cx="398.7" cy="1114.4" rx="10.2" ry="10.8" fill="#00a85c"/><circle cx="395.3" cy="1110.4" r="5" fill="url(#hl)"/><ellipse cx="399.6" cy="1113.0" rx="10.2" ry="10.8" fill="#00a85c"/><circle cx="396.2" cy="1109.0" r="5" fill="url(#hl)"/><ellipse cx="400.7" cy="1111.5" rx="10.2" ry="10.8" fill="#00a85c"/><circle cx="397.3" cy="1107.5" r="5" fill="url(#hl)"/><ellipse cx="402.0" cy="1109.7" rx="10.2" ry="10.8" fill="#00a85c"/><circle cx="398.6" cy="1105.7" r="5" fill="url(#hl)"/><ellipse cx="403.4" cy="1107.6" rx="10.2" ry="10.8" fill="#00a85c"/><circle cx="400.0" cy="1103.6" r="5" fill="url(#hl)"/><ellipse cx="405.0" cy="1105.3" rx="10.2" ry="10.8" fill="#00a85c"/><circle cx="401.6" cy="1101.3" r="5" fill="url(#hl)"/><ellipse cx="406.9" cy="1102.7" rx="10.2" ry="10.8" fill="#00a85c"/><circle cx="403.5" cy="1098.7" r="5" fill="url(#hl)"/><ellipse cx="409.0" cy="1099.7" rx="10.2" ry="10.8" fill="#00a85c"/><circle cx="405.6" cy="1095.7" r="5" fill="url(#hl)"/><ellipse cx="411.5" cy="1096.3" rx="10.2" ry="10.8" fill="#00a85c"/><circle cx="408.1" cy="1092.3" r="5" fill="url(#hl)"/><ellipse cx="414.3" cy="1092.4" rx="10.2" ry="10.8" fill="#00a85c"/><circle cx="410.9" cy="1088.4" r="5" fill="url(#hl)"/><ellipse cx="417.5" cy="1088.0" rx="10.2" ry="10.8" fill="#00a85c"/><circle cx="414.1" cy="1084.0" r="5" fill="url(#hl)"/><ellipse cx="421.3" cy="1083.1" rx="10.2" ry="10.8" fill="#00a85c"/><circle cx="417.9" cy="1079.1" r="5" fill="url(#hl)"/><ellipse cx="425.6" cy="1077.5" rx="10.2" ry="10.8" fill="#00a85c"/><circle cx="422.2" cy="1073.5" r="5" fill="url(#hl)"/><ellipse cx="430.6" cy="1071.1" rx="10.2" ry="10.8" fill="#00a85c"/><circle cx="427.2" cy="1067.1" r="5" fill="url(#hl)"/><ellipse cx="436.4" cy="1064.0" rx="10.2" ry="10.8" fill="#00a85c"/><circle cx="433.0" cy="1060.0" r="5" fill="url(#hl)"/><ellipse cx="443.1" cy="1056.0" rx="10.2" ry="10.8" fill="#00a85c"/><circle cx="439.7" cy="1052.0" r="5" fill="url(#hl)"/><ellipse cx="450.9" cy="1047.0" rx="10.2" ry="10.8" fill="#00a85c"/><circle cx="447.5" cy="1043.0" r="5" fill="url(#hl)"/><ellipse cx="460.0" cy="1037.0" rx="10.2" ry="10.8" fill="#00a85c"/><circle cx="456.6" cy="1033.0" r="5" fill="url(#hl)"/><ellipse cx="470.6" cy="1025.8" rx="10.2" ry="10.8" fill="#00a85c"/><circle cx="467.2" cy="1021.8" r="5" fill="url(#hl)"/><ellipse cx="483.0" cy="1013.5" rx="10.2" ry="10.8" fill="#00a85c"/><circle cx="479.6" cy="1009.5" r="5" fill="url(#hl)"/><ellipse cx="497.5" cy="1000.0" rx="10.2" ry="10.8" fill="#00a85c"/><circle cx="494.1" cy="996.0" r="5" fill="url(#hl)"/><ellipse cx="514.4" cy="985.3" rx="10.2" ry="10.8" fill="#00a85c"/><circle cx="511.0" cy="981.3" r="5" fill="url(#hl)"/><ellipse cx="534.1" cy="969.5" rx="10.2" ry="10.8" fill="#00a85c"/><circle cx="530.7" cy="965.5" r="5" fill="url(#hl)"/><ellipse cx="557.1" cy="952.7" rx="10.2" ry="10.8" fill="#00a85c"/><circle cx="553.7" cy="948.7" r="5" fill="url(#hl)"/><ellipse cx="583.8" cy="935.1" rx="10.2" ry="10.8" fill="#00a85c"/><circle cx="580.4" cy="931.1" r="5" fill="url(#hl)"/><ellipse cx="614.7" cy="917.3" rx="10.2" ry="10.8" fill="#00a85c"/><circle cx="611.3" cy="913.3" r="5" fill="url(#hl)"/><ellipse cx="650.0" cy="899.7" rx="10.2" ry="10.8" fill="#00a85c"/><circle cx="646.6" cy="895.7" r="5" fill="url(#hl)"/><ellipse cx="690.0" cy="882.9" rx="10.2" ry="10.8" fill="#00a85c"/><circle cx="686.6" cy="878.9" r="5" fill="url(#hl)"/><ellipse cx="734.7" cy="867.9" rx="10.2" ry="10.8" fill="#00a85c"/><circle cx="731.3" cy="863.9" r="5" fill="url(#hl)"/><ellipse cx="783.6" cy="855.5" rx="10.2" ry="10.8" fill="#00a85c"/><circle cx="780.2" cy="851.5" r="5" fill="url(#hl)"/><ellipse cx="836.2" cy="846.7" rx="10.2" ry="10.8" fill="#00a85c"/><circle cx="832.8" cy="842.7" r="5" fill="url(#hl)"/><ellipse cx="891.1" cy="842.0" rx="10.2" ry="10.8" fill="#00a85c"/><circle cx="887.7" cy="838.0" r="5" fill="url(#hl)"/><ellipse cx="947.1" cy="842.2" rx="10.2" ry="10.8" fill="#00a85c"/><circle cx="943.7" cy="838.2" r="5" fill="url(#hl)"/><ellipse cx="1002.4" cy="847.2" rx="10.2" ry="10.8" fill="#00a85c"/><circle cx="999.0" cy="843.2" r="5" fill="url(#hl)"/><ellipse cx="1055.5" cy="856.9" rx="10.2" ry="10.8" fill="#00a85c"/><circle cx="1052.1" cy="852.9" r="5" fill="url(#hl)"/><ellipse cx="1105.0" cy="870.4" rx="10.2" ry="10.8" fill="#00a85c"/><circle cx="1101.6" cy="866.4" r="5" fill="url(#hl)"/><ellipse cx="1149.9" cy="887.1" rx="10.2" ry="10.8" fill="#00a85c"/><circle cx="1146.5" cy="883.1" r="5" fill="url(#hl)"/><ellipse cx="1189.6" cy="905.7" rx="10.2" ry="10.8" fill="#00a85c"/><circle cx="1186.2" cy="901.7" r="5" fill="url(#hl)"/><ellipse cx="1224.0" cy="925.4" rx="10.2" ry="10.8" fill="#00a85c"/><circle cx="1220.6" cy="921.4" r="5" fill="url(#hl)"/><ellipse cx="1253.2" cy="945.3" rx="10.2" ry="10.8" fill="#00a85c"/><circle cx="1249.8" cy="941.3" r="5" fill="url(#hl)"/><ellipse cx="1277.7" cy="964.7" rx="10.2" ry="10.8" fill="#00a85c"/><circle cx="1274.3" cy="960.7" r="5" fill="url(#hl)"/><ellipse cx="1298.0" cy="983.1" rx="10.2" ry="10.8" fill="#00a85c"/><circle cx="1294.6" cy="979.1" r="5" fill="url(#hl)"/><ellipse cx="1314.6" cy="1000.1" rx="10.2" ry="10.8" fill="#00a85c"/><circle cx="1311.2" cy="996.1" r="5" fill="url(#hl)"/><ellipse cx="1328.3" cy="1015.7" rx="10.2" ry="10.8" fill="#00a85c"/><circle cx="1324.9" cy="1011.7" r="5" fill="url(#hl)"/><ellipse cx="1339.4" cy="1029.7" rx="10.2" ry="10.8" fill="#00a85c"/><circle cx="1336.0" cy="1025.7" r="5" fill="url(#hl)"/><ellipse cx="1348.4" cy="1042.2" rx="10.2" ry="10.8" fill="#00a85c"/><circle cx="1345.0" cy="1038.2" r="5" fill="url(#hl)"/>
<polyline points="403.5,1124.3 403.5,1124.3 403.5,1124.3 403.5,1124.2 403.5,1124.2 403.5,1124.2 403.5,1124.2 403.5,1124.2 403.5,1124.2 403.5,1124.2 403.5,1124.2 403.6,1124.1 403.6,1124.1 403.6,1124.1 403.6,1124.0 403.6,1124.0 403.7,1124.0 403.7,1123.9 403.7,1123.9 403.8,1123.8 403.8,1123.7 403.8,1123.6 403.9,1123.5 404.0,1123.4 404.0,1123.3 404.1,1123.1 404.2,1123.0 404.3,1122.7 404.5,1122.5 404.6,1122.2 404.8,1121.9 405.0,1121.6 405.2,1121.2 405.5,1120.7 405.8,1120.2 406.2,1119.6 406.6,1118.9 407.0,1118.0 407.6,1117.1 408.2,1116.0 408.9,1114.8 409.8,1113.4 410.8,1111.8 411.9,1109.9 413.2,1107.8 414.7,1105.4 416.5,1102.6 418.6,1099.5 421.0,1095.9 423.8,1091.8 427.0,1087.1 430.8,1081.9 435.3,1075.9 440.6,1069.2 446.7,1061.6 453.9,1053.2 462.4,1043.8 472.4,1033.4 484.2,1022.0 497.9,1009.6 514.0,996.2 532.8,982.0 554.6,967.2 579.6,952.0 608.2,936.8 640.5,922.1 676.5,908.4 716.0,896.3 758.6,886.5 803.7,879.3 850.5,875.3 897.9,874.7 945.0,877.6 990.8,883.7 1034.3,892.7 1074.9,904.2 1112.1,917.4 1145.7,931.8 1175.5,946.9 1201.7,962.1 1224.6,977.1 1244.3,991.5 1261.3,1005.2 1275.8,1017.9 1288.1,1029.7" fill="none" stroke="#c86ee0" stroke-width="3.0" stroke-linejoin="round"/>
<ellipse cx="403.5" cy="1124.3" rx="10.2" ry="10.8" fill="#c86ee0"/><circle cx="400.1" cy="1120.3" r="5" fill="url(#hl)"/><ellipse cx="403.5" cy="1124.3" rx="10.2" ry="10.8" fill="#c86ee0"/><circle cx="400.1" cy="1120.3" r="5" fill="url(#hl)"/><ellipse cx="403.5" cy="1124.3" rx="10.2" ry="10.8" fill="#c86ee0"/><circle cx="400.1" cy="1120.3" r="5" fill="url(#hl)"/><ellipse cx="403.5" cy="1124.2" rx="10.2" ry="10.8" fill="#c86ee0"/><circle cx="400.1" cy="1120.2" r="5" fill="url(#hl)"/><ellipse cx="403.5" cy="1124.2" rx="10.2" ry="10.8" fill="#c86ee0"/><circle cx="400.1" cy="1120.2" r="5" fill="url(#hl)"/><ellipse cx="403.5" cy="1124.2" rx="10.2" ry="10.8" fill="#c86ee0"/><circle cx="400.1" cy="1120.2" r="5" fill="url(#hl)"/><ellipse cx="403.5" cy="1124.2" rx="10.2" ry="10.8" fill="#c86ee0"/><circle cx="400.1" cy="1120.2" r="5" fill="url(#hl)"/><ellipse cx="403.5" cy="1124.2" rx="10.2" ry="10.8" fill="#c86ee0"/><circle cx="400.1" cy="1120.2" r="5" fill="url(#hl)"/><ellipse cx="403.5" cy="1124.2" rx="10.2" ry="10.8" fill="#c86ee0"/><circle cx="400.1" cy="1120.2" r="5" fill="url(#hl)"/><ellipse cx="403.5" cy="1124.2" rx="10.2" ry="10.8" fill="#c86ee0"/><circle cx="400.1" cy="1120.2" r="5" fill="url(#hl)"/><ellipse cx="403.5" cy="1124.2" rx="10.2" ry="10.8" fill="#c86ee0"/><circle cx="400.1" cy="1120.2" r="5" fill="url(#hl)"/><ellipse cx="403.6" cy="1124.1" rx="10.2" ry="10.8" fill="#c86ee0"/><circle cx="400.2" cy="1120.1" r="5" fill="url(#hl)"/><ellipse cx="403.6" cy="1124.1" rx="10.2" ry="10.8" fill="#c86ee0"/><circle cx="400.2" cy="1120.1" r="5" fill="url(#hl)"/><ellipse cx="403.6" cy="1124.1" rx="10.2" ry="10.8" fill="#c86ee0"/><circle cx="400.2" cy="1120.1" r="5" fill="url(#hl)"/><ellipse cx="403.6" cy="1124.0" rx="10.2" ry="10.8" fill="#c86ee0"/><circle cx="400.2" cy="1120.0" r="5" fill="url(#hl)"/><ellipse cx="403.6" cy="1124.0" rx="10.2" ry="10.8" fill="#c86ee0"/><circle cx="400.2" cy="1120.0" r="5" fill="url(#hl)"/><ellipse cx="403.7" cy="1124.0" rx="10.2" ry="10.8" fill="#c86ee0"/><circle cx="400.3" cy="1120.0" r="5" fill="url(#hl)"/><ellipse cx="403.7" cy="1123.9" rx="10.2" ry="10.8" fill="#c86ee0"/><circle cx="400.3" cy="1119.9" r="5" fill="url(#hl)"/><ellipse cx="403.7" cy="1123.9" rx="10.2" ry="10.8" fill="#c86ee0"/><circle cx="400.3" cy="1119.9" r="5" fill="url(#hl)"/><ellipse cx="403.8" cy="1123.8" rx="10.2" ry="10.8" fill="#c86ee0"/><circle cx="400.4" cy="1119.8" r="5" fill="url(#hl)"/><ellipse cx="403.8" cy="1123.7" rx="10.2" ry="10.8" fill="#c86ee0"/><circle cx="400.4" cy="1119.7" r="5" fill="url(#hl)"/><ellipse cx="403.8" cy="1123.6" rx="10.2" ry="10.8" fill="#c86ee0"/><circle cx="400.4" cy="1119.6" r="5" fill="url(#hl)"/><ellipse cx="403.9" cy="1123.5" rx="10.2" ry="10.8" fill="#c86ee0"/><circle cx="400.5" cy="1119.5" r="5" fill="url(#hl)"/><ellipse cx="404.0" cy="1123.4" rx="10.2" ry="10.8" fill="#c86ee0"/><circle cx="400.6" cy="1119.4" r="5" fill="url(#hl)"/><ellipse cx="404.0" cy="1123.3" rx="10.2" ry="10.8" fill="#c86ee0"/><circle cx="400.6" cy="1119.3" r="5" fill="url(#hl)"/><ellipse cx="404.1" cy="1123.1" rx="10.2" ry="10.8" fill="#c86ee0"/><circle cx="400.7" cy="1119.1" r="5" fill="url(#hl)"/><ellipse cx="404.2" cy="1123.0" rx="10.2" ry="10.8" fill="#c86ee0"/><circle cx="400.8" cy="1119.0" r="5" fill="url(#hl)"/><ellipse cx="404.3" cy="1122.7" rx="10.2" ry="10.8" fill="#c86ee0"/><circle cx="400.9" cy="1118.7" r="5" fill="url(#hl)"/><ellipse cx="404.5" cy="1122.5" rx="10.2" ry="10.8" fill="#c86ee0"/><circle cx="401.1" cy="1118.5" r="5" fill="url(#hl)"/><ellipse cx="404.6" cy="1122.2" rx="10.2" ry="10.8" fill="#c86ee0"/><circle cx="401.2" cy="1118.2" r="5" fill="url(#hl)"/><ellipse cx="404.8" cy="1121.9" rx="10.2" ry="10.8" fill="#c86ee0"/><circle cx="401.4" cy="1117.9" r="5" fill="url(#hl)"/><ellipse cx="405.0" cy="1121.6" rx="10.2" ry="10.8" fill="#c86ee0"/><circle cx="401.6" cy="1117.6" r="5" fill="url(#hl)"/><ellipse cx="405.2" cy="1121.2" rx="10.2" ry="10.8" fill="#c86ee0"/><circle cx="401.8" cy="1117.2" r="5" fill="url(#hl)"/><ellipse cx="405.5" cy="1120.7" rx="10.2" ry="10.8" fill="#c86ee0"/><circle cx="402.1" cy="1116.7" r="5" fill="url(#hl)"/><ellipse cx="405.8" cy="1120.2" rx="10.2" ry="10.8" fill="#c86ee0"/><circle cx="402.4" cy="1116.2" r="5" fill="url(#hl)"/><ellipse cx="406.2" cy="1119.6" rx="10.2" ry="10.8" fill="#c86ee0"/><circle cx="402.8" cy="1115.6" r="5" fill="url(#hl)"/><ellipse cx="406.6" cy="1118.9" rx="10.2" ry="10.8" fill="#c86ee0"/><circle cx="403.2" cy="1114.9" r="5" fill="url(#hl)"/><ellipse cx="407.0" cy="1118.0" rx="10.2" ry="10.8" fill="#c86ee0"/><circle cx="403.6" cy="1114.0" r="5" fill="url(#hl)"/><ellipse cx="407.6" cy="1117.1" rx="10.2" ry="10.8" fill="#c86ee0"/><circle cx="404.2" cy="1113.1" r="5" fill="url(#hl)"/><ellipse cx="408.2" cy="1116.0" rx="10.2" ry="10.8" fill="#c86ee0"/><circle cx="404.8" cy="1112.0" r="5" fill="url(#hl)"/><ellipse cx="408.9" cy="1114.8" rx="10.2" ry="10.8" fill="#c86ee0"/><circle cx="405.5" cy="1110.8" r="5" fill="url(#hl)"/><ellipse cx="409.8" cy="1113.4" rx="10.2" ry="10.8" fill="#c86ee0"/><circle cx="406.4" cy="1109.4" r="5" fill="url(#hl)"/><ellipse cx="410.8" cy="1111.8" rx="10.2" ry="10.8" fill="#c86ee0"/><circle cx="407.4" cy="1107.8" r="5" fill="url(#hl)"/><ellipse cx="411.9" cy="1109.9" rx="10.2" ry="10.8" fill="#c86ee0"/><circle cx="408.5" cy="1105.9" r="5" fill="url(#hl)"/><ellipse cx="413.2" cy="1107.8" rx="10.2" ry="10.8" fill="#c86ee0"/><circle cx="409.8" cy="1103.8" r="5" fill="url(#hl)"/><ellipse cx="414.7" cy="1105.4" rx="10.2" ry="10.8" fill="#c86ee0"/><circle cx="411.3" cy="1101.4" r="5" fill="url(#hl)"/><ellipse cx="416.5" cy="1102.6" rx="10.2" ry="10.8" fill="#c86ee0"/><circle cx="413.1" cy="1098.6" r="5" fill="url(#hl)"/><ellipse cx="418.6" cy="1099.5" rx="10.2" ry="10.8" fill="#c86ee0"/><circle cx="415.2" cy="1095.5" r="5" fill="url(#hl)"/><ellipse cx="421.0" cy="1095.9" rx="10.2" ry="10.8" fill="#c86ee0"/><circle cx="417.6" cy="1091.9" r="5" fill="url(#hl)"/><ellipse cx="423.8" cy="1091.8" rx="10.2" ry="10.8" fill="#c86ee0"/><circle cx="420.4" cy="1087.8" r="5" fill="url(#hl)"/><ellipse cx="427.0" cy="1087.1" rx="10.2" ry="10.8" fill="#c86ee0"/><circle cx="423.6" cy="1083.1" r="5" fill="url(#hl)"/><ellipse cx="430.8" cy="1081.9" rx="10.2" ry="10.8" fill="#c86ee0"/><circle cx="427.4" cy="1077.9" r="5" fill="url(#hl)"/><ellipse cx="435.3" cy="1075.9" rx="10.2" ry="10.8" fill="#c86ee0"/><circle cx="431.9" cy="1071.9" r="5" fill="url(#hl)"/><ellipse cx="440.6" cy="1069.2" rx="10.2" ry="10.8" fill="#c86ee0"/><circle cx="437.2" cy="1065.2" r="5" fill="url(#hl)"/><ellipse cx="446.7" cy="1061.6" rx="10.2" ry="10.8" fill="#c86ee0"/><circle cx="443.3" cy="1057.6" r="5" fill="url(#hl)"/><ellipse cx="453.9" cy="1053.2" rx="10.2" ry="10.8" fill="#c86ee0"/><circle cx="450.5" cy="1049.2" r="5" fill="url(#hl)"/><ellipse cx="462.4" cy="1043.8" rx="10.2" ry="10.8" fill="#c86ee0"/><circle cx="459.0" cy="1039.8" r="5" fill="url(#hl)"/><ellipse cx="472.4" cy="1033.4" rx="10.2" ry="10.8" fill="#c86ee0"/><circle cx="469.0" cy="1029.4" r="5" fill="url(#hl)"/><ellipse cx="484.2" cy="1022.0" rx="10.2" ry="10.8" fill="#c86ee0"/><circle cx="480.8" cy="1018.0" r="5" fill="url(#hl)"/><ellipse cx="497.9" cy="1009.6" rx="10.2" ry="10.8" fill="#c86ee0"/><circle cx="494.5" cy="1005.6" r="5" fill="url(#hl)"/><ellipse cx="514.0" cy="996.2" rx="10.2" ry="10.8" fill="#c86ee0"/><circle cx="510.6" cy="992.2" r="5" fill="url(#hl)"/><ellipse cx="532.8" cy="982.0" rx="10.2" ry="10.8" fill="#c86ee0"/><circle cx="529.4" cy="978.0" r="5" fill="url(#hl)"/><ellipse cx="554.6" cy="967.2" rx="10.2" ry="10.8" fill="#c86ee0"/><circle cx="551.2" cy="963.2" r="5" fill="url(#hl)"/><ellipse cx="579.6" cy="952.0" rx="10.2" ry="10.8" fill="#c86ee0"/><circle cx="576.2" cy="948.0" r="5" fill="url(#hl)"/><ellipse cx="608.2" cy="936.8" rx="10.2" ry="10.8" fill="#c86ee0"/><circle cx="604.8" cy="932.8" r="5" fill="url(#hl)"/><ellipse cx="640.5" cy="922.1" rx="10.2" ry="10.8" fill="#c86ee0"/><circle cx="637.1" cy="918.1" r="5" fill="url(#hl)"/><ellipse cx="676.5" cy="908.4" rx="10.2" ry="10.8" fill="#c86ee0"/><circle cx="673.1" cy="904.4" r="5" fill="url(#hl)"/><ellipse cx="716.0" cy="896.3" rx="10.2" ry="10.8" fill="#c86ee0"/><circle cx="712.6" cy="892.3" r="5" fill="url(#hl)"/><ellipse cx="758.6" cy="886.5" rx="10.2" ry="10.8" fill="#c86ee0"/><circle cx="755.2" cy="882.5" r="5" fill="url(#hl)"/><ellipse cx="803.7" cy="879.3" rx="10.2" ry="10.8" fill="#c86ee0"/><circle cx="800.3" cy="875.3" r="5" fill="url(#hl)"/><ellipse cx="850.5" cy="875.3" rx="10.2" ry="10.8" fill="#c86ee0"/><circle cx="847.1" cy="871.3" r="5" fill="url(#hl)"/><ellipse cx="897.9" cy="874.7" rx="10.2" ry="10.8" fill="#c86ee0"/><circle cx="894.5" cy="870.7" r="5" fill="url(#hl)"/><ellipse cx="945.0" cy="877.6" rx="10.2" ry="10.8" fill="#c86ee0"/><circle cx="941.6" cy="873.6" r="5" fill="url(#hl)"/><ellipse cx="990.8" cy="883.7" rx="10.2" ry="10.8" fill="#c86ee0"/><circle cx="987.4" cy="879.7" r="5" fill="url(#hl)"/><ellipse cx="1034.3" cy="892.7" rx="10.2" ry="10.8" fill="#c86ee0"/><circle cx="1030.9" cy="888.7" r="5" fill="url(#hl)"/><ellipse cx="1074.9" cy="904.2" rx="10.2" ry="10.8" fill="#c86ee0"/><circle cx="1071.5" cy="900.2" r="5" fill="url(#hl)"/><ellipse cx="1112.1" cy="917.4" rx="10.2" ry="10.8" fill="#c86ee0"/><circle cx="1108.7" cy="913.4" r="5" fill="url(#hl)"/><ellipse cx="1145.7" cy="931.8" rx="10.2" ry="10.8" fill="#c86ee0"/><circle cx="1142.3" cy="927.8" r="5" fill="url(#hl)"/><ellipse cx="1175.5" cy="946.9" rx="10.2" ry="10.8" fill="#c86ee0"/><circle cx="1172.1" cy="942.9" r="5" fill="url(#hl)"/><ellipse cx="1201.7" cy="962.1" rx="10.2" ry="10.8" fill="#c86ee0"/><circle cx="1198.3" cy="958.1" r="5" fill="url(#hl)"/><ellipse cx="1224.6" cy="977.1" rx="10.2" ry="10.8" fill="#c86ee0"/><circle cx="1221.2" cy="973.1" r="5" fill="url(#hl)"/><ellipse cx="1244.3" cy="991.5" rx="10.2" ry="10.8" fill="#c86ee0"/><circle cx="1240.9" cy="987.5" r="5" fill="url(#hl)"/><ellipse cx="1261.3" cy="1005.2" rx="10.2" ry="10.8" fill="#c86ee0"/><circle cx="1257.9" cy="1001.2" r="5" fill="url(#hl)"/><ellipse cx="1275.8" cy="1017.9" rx="10.2" ry="10.8" fill="#c86ee0"/><circle cx="1272.4" cy="1013.9" r="5" fill="url(#hl)"/><ellipse cx="1288.1" cy="1029.7" rx="10.2" ry="10.8" fill="#c86ee0"/><circle cx="1284.7" cy="1025.7" r="5" fill="url(#hl)"/>
</g>
<text x="265.0" y="1148.3" font-size="80" text-anchor="end" >0</text>
<text x="285.5" y="1206.5" font-size="80" text-anchor="middle" >0</text>
<text x="265.0" y="949.3" font-size="80" text-anchor="end" >400</text>
<text x="531.8" y="1206.5" font-size="80" text-anchor="middle" >400</text>
<text x="265.0" y="750.3" font-size="80" text-anchor="end" >800</text>
<text x="778.1" y="1206.5" font-size="80" text-anchor="middle" >800</text>
<text x="265.0" y="551.3" font-size="80" text-anchor="end" >1200</text>
<text x="1024.5" y="1206.5" font-size="80" text-anchor="middle" >1200</text>
<text x="265.0" y="352.3" font-size="80" text-anchor="end" >1600</text>
<text x="1270.8" y="1206.5" font-size="80" text-anchor="middle" >1600</text>
<text transform="translate(86,139.5) scale(1.025,1)" font-size="157">(a)</text>
<text x="870" y="1305.5" font-size="80" text-anchor="middle">Z' (Ω·cm<tspan dy="-36" font-size="53">2</tspan><tspan dy="36">)</tspan></text>
<text transform="translate(92.7,650.7) rotate(-90)" font-size="80" text-anchor="middle">-Z'' (Ω·cm<tspan dy="-36" font-size="53">2</tspan><tspan dy="36">)</tspan></text>
<line x1="441.7" y1="315.4" x2="575.3" y2="315.4" stroke="#4f4f4b" stroke-width="4.5"/>
<ellipse cx="508.2" cy="315.4" rx="10.2" ry="10.8" fill="#4f4f4b"/><circle cx="504.8" cy="311.4" r="5" fill="url(#hl)"/>
<text x="589.4" y="335.0" font-size="57">Blank</text>
<line x1="441.7" y1="394.0" x2="575.3" y2="394.0" stroke="#ff3a3a" stroke-width="4.5"/>
<ellipse cx="508.2" cy="394.0" rx="10.2" ry="10.8" fill="#ff3a3a"/><circle cx="504.8" cy="390.0" r="5" fill="url(#hl)"/>
<text y="413.6" font-size="57"><tspan x="587.4">20</tspan><tspan x="676.4">mg</tspan><tspan x="749.4">·</tspan><tspan x="770.8">L</tspan></text>
<text x="802.8" y="391.8" font-size="45" fill-opacity="1">−</text>
<text x="825.3" y="389.4" font-size="41">1</text>
<line x1="441.7" y1="473.0" x2="575.3" y2="473.0" stroke="#0a64e6" stroke-width="4.5"/>
<ellipse cx="508.2" cy="473.0" rx="10.2" ry="10.8" fill="#0a64e6"/><circle cx="504.8" cy="469.0" r="5" fill="url(#hl)"/>
<text y="492.6" font-size="57"><tspan x="587.4">40</tspan><tspan x="676.4">mg</tspan><tspan x="749.4">·</tspan><tspan x="770.8">L</tspan></text>
<text x="802.8" y="470.8" font-size="45" fill-opacity="1">−</text>
<text x="825.3" y="468.4" font-size="41">1</text>
<line x1="441.7" y1="552.0" x2="575.3" y2="552.0" stroke="#00a85c" stroke-width="4.5"/>
<ellipse cx="508.2" cy="552.0" rx="10.2" ry="10.8" fill="#00a85c"/><circle cx="504.8" cy="548.0" r="5" fill="url(#hl)"/>
<text y="571.6" font-size="57"><tspan x="587.4">60</tspan><tspan x="676.4">mg</tspan><tspan x="749.4">·</tspan><tspan x="770.8">L</tspan></text>
<text x="802.8" y="549.8" font-size="45" fill-opacity="1">−</text>
<text x="825.3" y="547.4" font-size="41">1</text>
<line x1="441.7" y1="631.0" x2="575.3" y2="631.0" stroke="#c86ee0" stroke-width="4.5"/>
<ellipse cx="508.2" cy="631.0" rx="10.2" ry="10.8" fill="#c86ee0"/><circle cx="504.8" cy="627.0" r="5" fill="url(#hl)"/>
<text y="650.6" font-size="57"><tspan x="587.4">80</tspan><tspan x="676.4">mg</tspan><tspan x="749.4">·</tspan><tspan x="770.8">L</tspan></text>
<text x="802.8" y="628.8" font-size="45" fill-opacity="1">−</text>
<text x="825.3" y="626.4" font-size="41">1</text>
<g stroke="#000" fill="none" stroke-linecap="butt">
<line x1="287.55" y1="1508.85" x2="287.55" y2="2452.8" stroke-width="2.7"/>
<line x1="1454.1" y1="1508.85" x2="1454.1" y2="2452.8" stroke-width="5.4"/>
<line x1="286.2" y1="1510" x2="1456.8" y2="1510" stroke-width="2.3"/>
<line x1="286.2" y1="2451.4" x2="1456.8" y2="2451.4" stroke-width="2.8"/>
</g>
<g stroke="#000">
<line x1="445.3" y1="2451" x2="445.3" y2="2434" stroke-width="2.8"/>
<line x1="603.1" y1="2451" x2="603.1" y2="2434" stroke-width="2.8"/>
<line x1="760.9" y1="2451" x2="760.9" y2="2434" stroke-width="2.8"/>
<line x1="918.7" y1="2451" x2="918.7" y2="2434" stroke-width="2.8"/>
<line x1="1076.5" y1="2451" x2="1076.5" y2="2434" stroke-width="2.8"/>
<line x1="1234.3" y1="2451" x2="1234.3" y2="2434" stroke-width="2.8"/>
<line x1="1392.1" y1="2451" x2="1392.1" y2="2434" stroke-width="2.8"/>
<line x1="335.0" y1="2451" x2="335.0" y2="2442" stroke-width="2.8"/>
<line x1="362.8" y1="2451" x2="362.8" y2="2442" stroke-width="2.8"/>
<line x1="382.5" y1="2451" x2="382.5" y2="2442" stroke-width="2.8"/>
<line x1="397.8" y1="2451" x2="397.8" y2="2442" stroke-width="2.8"/>
<line x1="410.3" y1="2451" x2="410.3" y2="2442" stroke-width="2.8"/>
<line x1="420.9" y1="2451" x2="420.9" y2="2442" stroke-width="2.8"/>
<line x1="430.0" y1="2451" x2="430.0" y2="2442" stroke-width="2.8"/>
<line x1="438.1" y1="2451" x2="438.1" y2="2442" stroke-width="2.8"/>
<line x1="492.8" y1="2451" x2="492.8" y2="2442" stroke-width="2.8"/>
<line x1="520.6" y1="2451" x2="520.6" y2="2442" stroke-width="2.8"/>
<line x1="540.3" y1="2451" x2="540.3" y2="2442" stroke-width="2.8"/>
<line x1="555.6" y1="2451" x2="555.6" y2="2442" stroke-width="2.8"/>
<line x1="568.1" y1="2451" x2="568.1" y2="2442" stroke-width="2.8"/>
<line x1="578.7" y1="2451" x2="578.7" y2="2442" stroke-width="2.8"/>
<line x1="587.8" y1="2451" x2="587.8" y2="2442" stroke-width="2.8"/>
<line x1="595.9" y1="2451" x2="595.9" y2="2442" stroke-width="2.8"/>
<line x1="650.6" y1="2451" x2="650.6" y2="2442" stroke-width="2.8"/>
<line x1="678.4" y1="2451" x2="678.4" y2="2442" stroke-width="2.8"/>
<line x1="698.1" y1="2451" x2="698.1" y2="2442" stroke-width="2.8"/>
<line x1="713.4" y1="2451" x2="713.4" y2="2442" stroke-width="2.8"/>
<line x1="725.9" y1="2451" x2="725.9" y2="2442" stroke-width="2.8"/>
<line x1="736.5" y1="2451" x2="736.5" y2="2442" stroke-width="2.8"/>
<line x1="745.6" y1="2451" x2="745.6" y2="2442" stroke-width="2.8"/>
<line x1="753.7" y1="2451" x2="753.7" y2="2442" stroke-width="2.8"/>
<line x1="808.4" y1="2451" x2="808.4" y2="2442" stroke-width="2.8"/>
<line x1="836.2" y1="2451" x2="836.2" y2="2442" stroke-width="2.8"/>
<line x1="855.9" y1="2451" x2="855.9" y2="2442" stroke-width="2.8"/>
<line x1="871.2" y1="2451" x2="871.2" y2="2442" stroke-width="2.8"/>
<line x1="883.7" y1="2451" x2="883.7" y2="2442" stroke-width="2.8"/>
<line x1="894.3" y1="2451" x2="894.3" y2="2442" stroke-width="2.8"/>
<line x1="903.4" y1="2451" x2="903.4" y2="2442" stroke-width="2.8"/>
<line x1="911.5" y1="2451" x2="911.5" y2="2442" stroke-width="2.8"/>
<line x1="966.2" y1="2451" x2="966.2" y2="2442" stroke-width="2.8"/>
<line x1="994.0" y1="2451" x2="994.0" y2="2442" stroke-width="2.8"/>
<line x1="1013.7" y1="2451" x2="1013.7" y2="2442" stroke-width="2.8"/>
<line x1="1029.0" y1="2451" x2="1029.0" y2="2442" stroke-width="2.8"/>
<line x1="1041.5" y1="2451" x2="1041.5" y2="2442" stroke-width="2.8"/>
<line x1="1052.1" y1="2451" x2="1052.1" y2="2442" stroke-width="2.8"/>
<line x1="1061.2" y1="2451" x2="1061.2" y2="2442" stroke-width="2.8"/>
<line x1="1069.3" y1="2451" x2="1069.3" y2="2442" stroke-width="2.8"/>
<line x1="1124.0" y1="2451" x2="1124.0" y2="2442" stroke-width="2.8"/>
<line x1="1151.8" y1="2451" x2="1151.8" y2="2442" stroke-width="2.8"/>
<line x1="1171.5" y1="2451" x2="1171.5" y2="2442" stroke-width="2.8"/>
<line x1="1186.8" y1="2451" x2="1186.8" y2="2442" stroke-width="2.8"/>
<line x1="1199.3" y1="2451" x2="1199.3" y2="2442" stroke-width="2.8"/>
<line x1="1209.9" y1="2451" x2="1209.9" y2="2442" stroke-width="2.8"/>
<line x1="1219.0" y1="2451" x2="1219.0" y2="2442" stroke-width="2.8"/>
<line x1="1227.1" y1="2451" x2="1227.1" y2="2442" stroke-width="2.8"/>
<line x1="1281.8" y1="2451" x2="1281.8" y2="2442" stroke-width="2.8"/>
<line x1="1309.6" y1="2451" x2="1309.6" y2="2442" stroke-width="2.8"/>
<line x1="1329.3" y1="2451" x2="1329.3" y2="2442" stroke-width="2.8"/>
<line x1="1344.6" y1="2451" x2="1344.6" y2="2442" stroke-width="2.8"/>
<line x1="1357.1" y1="2451" x2="1357.1" y2="2442" stroke-width="2.8"/>
<line x1="1367.7" y1="2451" x2="1367.7" y2="2442" stroke-width="2.8"/>
<line x1="1376.8" y1="2451" x2="1376.8" y2="2442" stroke-width="2.8"/>
<line x1="1384.9" y1="2451" x2="1384.9" y2="2442" stroke-width="2.8"/>
<line x1="1439.6" y1="2451" x2="1439.6" y2="2442" stroke-width="2.8"/>
</g>
<g stroke="#000">
<line x1="287.9" y1="2253.2" x2="304.9" y2="2253.2" stroke-width="2.8"/>
<line x1="287.9" y1="2054.7" x2="304.9" y2="2054.7" stroke-width="2.8"/>
<line x1="287.9" y1="1856.1" x2="304.9" y2="1856.1" stroke-width="2.8"/>
<line x1="287.9" y1="1657.6" x2="304.9" y2="1657.6" stroke-width="2.8"/>
<line x1="287.9" y1="2352.4" x2="296.9" y2="2352.4" stroke-width="2.8"/>
<line x1="287.9" y1="2153.9" x2="296.9" y2="2153.9" stroke-width="2.8"/>
<line x1="287.9" y1="1955.4" x2="296.9" y2="1955.4" stroke-width="2.8"/>
<line x1="287.9" y1="1756.9" x2="296.9" y2="1756.9" stroke-width="2.8"/>
<line x1="287.9" y1="1558.4" x2="296.9" y2="1558.4" stroke-width="2.8"/>
</g>
<clipPath id="cb"><rect x="286.4" y="1509" width="1165.0" height="942.4000000000001"/></clipPath><g clip-path="url(#cb)">
<polyline points="1392.1,2352.7 1365.8,2352.7 1339.5,2352.7 1313.2,2352.7 1286.9,2352.6 1260.6,2352.6 1234.3,2352.6 1208.0,2352.6 1181.7,2352.5 1155.4,2352.4 1129.1,2352.8 1102.8,2354.8 1076.5,2355.2 1050.2,2354.5 1023.9,2354.7 997.6,2355.3 971.3,2354.9 945.0,2354.2 918.7,2353.1 892.4,2351.8 866.1,2350.1 839.8,2348.1 813.5,2345.7 787.2,2342.1 760.9,2338.5 734.6,2333.1 708.3,2323.0 682.0,2310.3 655.7,2294.5 629.4,2275.5 603.1,2252.6 576.8,2228.6 550.5,2203.8 524.2,2179.6 497.9,2157.6 471.6,2139.0 445.3,2123.9 419.0,2113.2 392.7,2105.7 366.4,2099.9 340.1,2095.8 313.8,2093.1 287.5,2090.7" fill="none" stroke="#4f4f4b" stroke-width="3.0" stroke-linejoin="round"/>
<ellipse cx="1392.1" cy="2352.7" rx="10.2" ry="10.8" fill="#4f4f4b"/><circle cx="1388.7" cy="2348.7" r="5" fill="url(#hl)"/><ellipse cx="1365.8" cy="2352.7" rx="10.2" ry="10.8" fill="#4f4f4b"/><circle cx="1362.4" cy="2348.7" r="5" fill="url(#hl)"/><ellipse cx="1339.5" cy="2352.7" rx="10.2" ry="10.8" fill="#4f4f4b"/><circle cx="1336.1" cy="2348.7" r="5" fill="url(#hl)"/><ellipse cx="1313.2" cy="2352.7" rx="10.2" ry="10.8" fill="#4f4f4b"/><circle cx="1309.8" cy="2348.7" r="5" fill="url(#hl)"/><ellipse cx="1286.9" cy="2352.6" rx="10.2" ry="10.8" fill="#4f4f4b"/><circle cx="1283.5" cy="2348.6" r="5" fill="url(#hl)"/><ellipse cx="1260.6" cy="2352.6" rx="10.2" ry="10.8" fill="#4f4f4b"/><circle cx="1257.2" cy="2348.6" r="5" fill="url(#hl)"/><ellipse cx="1234.3" cy="2352.6" rx="10.2" ry="10.8" fill="#4f4f4b"/><circle cx="1230.9" cy="2348.6" r="5" fill="url(#hl)"/><ellipse cx="1208.0" cy="2352.6" rx="10.2" ry="10.8" fill="#4f4f4b"/><circle cx="1204.6" cy="2348.6" r="5" fill="url(#hl)"/><ellipse cx="1181.7" cy="2352.5" rx="10.2" ry="10.8" fill="#4f4f4b"/><circle cx="1178.3" cy="2348.5" r="5" fill="url(#hl)"/><ellipse cx="1155.4" cy="2352.4" rx="10.2" ry="10.8" fill="#4f4f4b"/><circle cx="1152.0" cy="2348.4" r="5" fill="url(#hl)"/><ellipse cx="1129.1" cy="2352.8" rx="10.2" ry="10.8" fill="#4f4f4b"/><circle cx="1125.7" cy="2348.8" r="5" fill="url(#hl)"/><ellipse cx="1102.8" cy="2354.8" rx="10.2" ry="10.8" fill="#4f4f4b"/><circle cx="1099.4" cy="2350.8" r="5" fill="url(#hl)"/><ellipse cx="1076.5" cy="2355.2" rx="10.2" ry="10.8" fill="#4f4f4b"/><circle cx="1073.1" cy="2351.2" r="5" fill="url(#hl)"/><ellipse cx="1050.2" cy="2354.5" rx="10.2" ry="10.8" fill="#4f4f4b"/><circle cx="1046.8" cy="2350.5" r="5" fill="url(#hl)"/><ellipse cx="1023.9" cy="2354.7" rx="10.2" ry="10.8" fill="#4f4f4b"/><circle cx="1020.5" cy="2350.7" r="5" fill="url(#hl)"/><ellipse cx="997.6" cy="2355.3" rx="10.2" ry="10.8" fill="#4f4f4b"/><circle cx="994.2" cy="2351.3" r="5" fill="url(#hl)"/><ellipse cx="971.3" cy="2354.9" rx="10.2" ry="10.8" fill="#4f4f4b"/><circle cx="967.9" cy="2350.9" r="5" fill="url(#hl)"/><ellipse cx="945.0" cy="2354.2" rx="10.2" ry="10.8" fill="#4f4f4b"/><circle cx="941.6" cy="2350.2" r="5" fill="url(#hl)"/><ellipse cx="918.7" cy="2353.1" rx="10.2" ry="10.8" fill="#4f4f4b"/><circle cx="915.3" cy="2349.1" r="5" fill="url(#hl)"/><ellipse cx="892.4" cy="2351.8" rx="10.2" ry="10.8" fill="#4f4f4b"/><circle cx="889.0" cy="2347.8" r="5" fill="url(#hl)"/><ellipse cx="866.1" cy="2350.1" rx="10.2" ry="10.8" fill="#4f4f4b"/><circle cx="862.7" cy="2346.1" r="5" fill="url(#hl)"/><ellipse cx="839.8" cy="2348.1" rx="10.2" ry="10.8" fill="#4f4f4b"/><circle cx="836.4" cy="2344.1" r="5" fill="url(#hl)"/><ellipse cx="813.5" cy="2345.7" rx="10.2" ry="10.8" fill="#4f4f4b"/><circle cx="810.1" cy="2341.7" r="5" fill="url(#hl)"/><ellipse cx="787.2" cy="2342.1" rx="10.2" ry="10.8" fill="#4f4f4b"/><circle cx="783.8" cy="2338.1" r="5" fill="url(#hl)"/><ellipse cx="760.9" cy="2338.5" rx="10.2" ry="10.8" fill="#4f4f4b"/><circle cx="757.5" cy="2334.5" r="5" fill="url(#hl)"/><ellipse cx="734.6" cy="2333.1" rx="10.2" ry="10.8" fill="#4f4f4b"/><circle cx="731.2" cy="2329.1" r="5" fill="url(#hl)"/><ellipse cx="708.3" cy="2323.0" rx="10.2" ry="10.8" fill="#4f4f4b"/><circle cx="704.9" cy="2319.0" r="5" fill="url(#hl)"/><ellipse cx="682.0" cy="2310.3" rx="10.2" ry="10.8" fill="#4f4f4b"/><circle cx="678.6" cy="2306.3" r="5" fill="url(#hl)"/><ellipse cx="655.7" cy="2294.5" rx="10.2" ry="10.8" fill="#4f4f4b"/><circle cx="652.3" cy="2290.5" r="5" fill="url(#hl)"/><ellipse cx="629.4" cy="2275.5" rx="10.2" ry="10.8" fill="#4f4f4b"/><circle cx="626.0" cy="2271.5" r="5" fill="url(#hl)"/><ellipse cx="603.1" cy="2252.6" rx="10.2" ry="10.8" fill="#4f4f4b"/><circle cx="599.7" cy="2248.6" r="5" fill="url(#hl)"/><ellipse cx="576.8" cy="2228.6" rx="10.2" ry="10.8" fill="#4f4f4b"/><circle cx="573.4" cy="2224.6" r="5" fill="url(#hl)"/><ellipse cx="550.5" cy="2203.8" rx="10.2" ry="10.8" fill="#4f4f4b"/><circle cx="547.1" cy="2199.8" r="5" fill="url(#hl)"/><ellipse cx="524.2" cy="2179.6" rx="10.2" ry="10.8" fill="#4f4f4b"/><circle cx="520.8" cy="2175.6" r="5" fill="url(#hl)"/><ellipse cx="497.9" cy="2157.6" rx="10.2" ry="10.8" fill="#4f4f4b"/><circle cx="494.5" cy="2153.6" r="5" fill="url(#hl)"/><ellipse cx="471.6" cy="2139.0" rx="10.2" ry="10.8" fill="#4f4f4b"/><circle cx="468.2" cy="2135.0" r="5" fill="url(#hl)"/><ellipse cx="445.3" cy="2123.9" rx="10.2" ry="10.8" fill="#4f4f4b"/><circle cx="441.9" cy="2119.9" r="5" fill="url(#hl)"/><ellipse cx="419.0" cy="2113.2" rx="10.2" ry="10.8" fill="#4f4f4b"/><circle cx="415.6" cy="2109.2" r="5" fill="url(#hl)"/><ellipse cx="392.7" cy="2105.7" rx="10.2" ry="10.8" fill="#4f4f4b"/><circle cx="389.3" cy="2101.7" r="5" fill="url(#hl)"/><ellipse cx="366.4" cy="2099.9" rx="10.2" ry="10.8" fill="#4f4f4b"/><circle cx="363.0" cy="2095.9" r="5" fill="url(#hl)"/><ellipse cx="340.1" cy="2095.8" rx="10.2" ry="10.8" fill="#4f4f4b"/><circle cx="336.7" cy="2091.8" r="5" fill="url(#hl)"/><ellipse cx="313.8" cy="2093.1" rx="10.2" ry="10.8" fill="#4f4f4b"/><circle cx="310.4" cy="2089.1" r="5" fill="url(#hl)"/><ellipse cx="287.5" cy="2090.7" rx="10.2" ry="10.8" fill="#4f4f4b"/><circle cx="284.1" cy="2086.7" r="5" fill="url(#hl)"/>
<polyline points="1439.6,2367.8 1407.6,2367.8 1375.6,2367.8 1343.6,2367.8 1311.6,2367.8 1279.6,2367.8 1247.6,2367.8 1215.6,2367.7 1183.6,2367.7 1151.5,2367.7 1119.5,2367.7 1087.5,2367.6 1055.5,2367.5 1023.5,2368.9 991.5,2369.8 959.5,2369.6 927.5,2368.6 895.5,2368.2 863.5,2367.1 831.5,2364.7 799.5,2361.9 767.5,2356.6 735.5,2349.5 703.5,2338.4 671.5,2320.6 639.5,2290.6 607.5,2253.6 575.5,2213.8 543.5,2168.4 511.5,2127.3 479.5,2095.5 447.5,2072.7 415.5,2058.1 383.5,2049.5 351.5,2043.3 319.5,2039.4 287.5,2036.9" fill="none" stroke="#ff3a3a" stroke-width="3.0" stroke-linejoin="round"/>
<ellipse cx="1439.6" cy="2367.8" rx="10.2" ry="10.8" fill="#ff3a3a"/><circle cx="1436.2" cy="2363.8" r="5" fill="url(#hl)"/><ellipse cx="1407.6" cy="2367.8" rx="10.2" ry="10.8" fill="#ff3a3a"/><circle cx="1404.2" cy="2363.8" r="5" fill="url(#hl)"/><ellipse cx="1375.6" cy="2367.8" rx="10.2" ry="10.8" fill="#ff3a3a"/><circle cx="1372.2" cy="2363.8" r="5" fill="url(#hl)"/><ellipse cx="1343.6" cy="2367.8" rx="10.2" ry="10.8" fill="#ff3a3a"/><circle cx="1340.2" cy="2363.8" r="5" fill="url(#hl)"/><ellipse cx="1311.6" cy="2367.8" rx="10.2" ry="10.8" fill="#ff3a3a"/><circle cx="1308.2" cy="2363.8" r="5" fill="url(#hl)"/><ellipse cx="1279.6" cy="2367.8" rx="10.2" ry="10.8" fill="#ff3a3a"/><circle cx="1276.2" cy="2363.8" r="5" fill="url(#hl)"/><ellipse cx="1247.6" cy="2367.8" rx="10.2" ry="10.8" fill="#ff3a3a"/><circle cx="1244.2" cy="2363.8" r="5" fill="url(#hl)"/><ellipse cx="1215.6" cy="2367.7" rx="10.2" ry="10.8" fill="#ff3a3a"/><circle cx="1212.2" cy="2363.7" r="5" fill="url(#hl)"/><ellipse cx="1183.6" cy="2367.7" rx="10.2" ry="10.8" fill="#ff3a3a"/><circle cx="1180.2" cy="2363.7" r="5" fill="url(#hl)"/><ellipse cx="1151.5" cy="2367.7" rx="10.2" ry="10.8" fill="#ff3a3a"/><circle cx="1148.1" cy="2363.7" r="5" fill="url(#hl)"/><ellipse cx="1119.5" cy="2367.7" rx="10.2" ry="10.8" fill="#ff3a3a"/><circle cx="1116.1" cy="2363.7" r="5" fill="url(#hl)"/><ellipse cx="1087.5" cy="2367.6" rx="10.2" ry="10.8" fill="#ff3a3a"/><circle cx="1084.1" cy="2363.6" r="5" fill="url(#hl)"/><ellipse cx="1055.5" cy="2367.5" rx="10.2" ry="10.8" fill="#ff3a3a"/><circle cx="1052.1" cy="2363.5" r="5" fill="url(#hl)"/><ellipse cx="1023.5" cy="2368.9" rx="10.2" ry="10.8" fill="#ff3a3a"/><circle cx="1020.1" cy="2364.9" r="5" fill="url(#hl)"/><ellipse cx="991.5" cy="2369.8" rx="10.2" ry="10.8" fill="#ff3a3a"/><circle cx="988.1" cy="2365.8" r="5" fill="url(#hl)"/><ellipse cx="959.5" cy="2369.6" rx="10.2" ry="10.8" fill="#ff3a3a"/><circle cx="956.1" cy="2365.6" r="5" fill="url(#hl)"/><ellipse cx="927.5" cy="2368.6" rx="10.2" ry="10.8" fill="#ff3a3a"/><circle cx="924.1" cy="2364.6" r="5" fill="url(#hl)"/><ellipse cx="895.5" cy="2368.2" rx="10.2" ry="10.8" fill="#ff3a3a"/><circle cx="892.1" cy="2364.2" r="5" fill="url(#hl)"/><ellipse cx="863.5" cy="2367.1" rx="10.2" ry="10.8" fill="#ff3a3a"/><circle cx="860.1" cy="2363.1" r="5" fill="url(#hl)"/><ellipse cx="831.5" cy="2364.7" rx="10.2" ry="10.8" fill="#ff3a3a"/><circle cx="828.1" cy="2360.7" r="5" fill="url(#hl)"/><ellipse cx="799.5" cy="2361.9" rx="10.2" ry="10.8" fill="#ff3a3a"/><circle cx="796.1" cy="2357.9" r="5" fill="url(#hl)"/><ellipse cx="767.5" cy="2356.6" rx="10.2" ry="10.8" fill="#ff3a3a"/><circle cx="764.1" cy="2352.6" r="5" fill="url(#hl)"/><ellipse cx="735.5" cy="2349.5" rx="10.2" ry="10.8" fill="#ff3a3a"/><circle cx="732.1" cy="2345.5" r="5" fill="url(#hl)"/><ellipse cx="703.5" cy="2338.4" rx="10.2" ry="10.8" fill="#ff3a3a"/><circle cx="700.1" cy="2334.4" r="5" fill="url(#hl)"/><ellipse cx="671.5" cy="2320.6" rx="10.2" ry="10.8" fill="#ff3a3a"/><circle cx="668.1" cy="2316.6" r="5" fill="url(#hl)"/><ellipse cx="639.5" cy="2290.6" rx="10.2" ry="10.8" fill="#ff3a3a"/><circle cx="636.1" cy="2286.6" r="5" fill="url(#hl)"/><ellipse cx="607.5" cy="2253.6" rx="10.2" ry="10.8" fill="#ff3a3a"/><circle cx="604.1" cy="2249.6" r="5" fill="url(#hl)"/><ellipse cx="575.5" cy="2213.8" rx="10.2" ry="10.8" fill="#ff3a3a"/><circle cx="572.1" cy="2209.8" r="5" fill="url(#hl)"/><ellipse cx="543.5" cy="2168.4" rx="10.2" ry="10.8" fill="#ff3a3a"/><circle cx="540.1" cy="2164.4" r="5" fill="url(#hl)"/><ellipse cx="511.5" cy="2127.3" rx="10.2" ry="10.8" fill="#ff3a3a"/><circle cx="508.1" cy="2123.3" r="5" fill="url(#hl)"/><ellipse cx="479.5" cy="2095.5" rx="10.2" ry="10.8" fill="#ff3a3a"/><circle cx="476.1" cy="2091.5" r="5" fill="url(#hl)"/><ellipse cx="447.5" cy="2072.7" rx="10.2" ry="10.8" fill="#ff3a3a"/><circle cx="444.1" cy="2068.7" r="5" fill="url(#hl)"/><ellipse cx="415.5" cy="2058.1" rx="10.2" ry="10.8" fill="#ff3a3a"/><circle cx="412.1" cy="2054.1" r="5" fill="url(#hl)"/><ellipse cx="383.5" cy="2049.5" rx="10.2" ry="10.8" fill="#ff3a3a"/><circle cx="380.1" cy="2045.5" r="5" fill="url(#hl)"/><ellipse cx="351.5" cy="2043.3" rx="10.2" ry="10.8" fill="#ff3a3a"/><circle cx="348.1" cy="2039.3" r="5" fill="url(#hl)"/><ellipse cx="319.5" cy="2039.4" rx="10.2" ry="10.8" fill="#ff3a3a"/><circle cx="316.1" cy="2035.4" r="5" fill="url(#hl)"/><ellipse cx="287.5" cy="2036.9" rx="10.2" ry="10.8" fill="#ff3a3a"/><circle cx="284.1" cy="2032.9" r="5" fill="url(#hl)"/>
<polyline points="1392.1,2351.2 1365.8,2351.2 1339.5,2351.2 1313.2,2351.2 1286.9,2351.2 1260.6,2351.1 1234.3,2351.1 1208.0,2351.1 1181.7,2351.0 1155.4,2351.0 1129.1,2351.3 1102.8,2353.3 1076.5,2353.7 1050.2,2353.0 1023.9,2353.2 997.6,2353.8 971.3,2353.4 945.0,2352.7 918.7,2351.6 892.4,2350.3 866.1,2348.6 839.8,2346.6 813.5,2344.2 787.2,2340.6 760.9,2336.1 734.6,2329.6 708.3,2321.0 682.0,2308.6 655.7,2290.7 629.4,2265.6 603.1,2236.1 576.8,2201.0 550.5,2160.7 524.2,2117.3 497.9,2073.2 471.6,2030.8 445.3,1992.0 419.0,1959.4 392.7,1932.3 366.4,1912.4 340.1,1900.3 313.8,1891.9 287.5,1885.7" fill="none" stroke="#0a64e6" stroke-width="3.0" stroke-linejoin="round"/>
<ellipse cx="1392.1" cy="2351.2" rx="10.2" ry="10.8" fill="#0a64e6"/><circle cx="1388.7" cy="2347.2" r="5" fill="url(#hl)"/><ellipse cx="1365.8" cy="2351.2" rx="10.2" ry="10.8" fill="#0a64e6"/><circle cx="1362.4" cy="2347.2" r="5" fill="url(#hl)"/><ellipse cx="1339.5" cy="2351.2" rx="10.2" ry="10.8" fill="#0a64e6"/><circle cx="1336.1" cy="2347.2" r="5" fill="url(#hl)"/><ellipse cx="1313.2" cy="2351.2" rx="10.2" ry="10.8" fill="#0a64e6"/><circle cx="1309.8" cy="2347.2" r="5" fill="url(#hl)"/><ellipse cx="1286.9" cy="2351.2" rx="10.2" ry="10.8" fill="#0a64e6"/><circle cx="1283.5" cy="2347.2" r="5" fill="url(#hl)"/><ellipse cx="1260.6" cy="2351.1" rx="10.2" ry="10.8" fill="#0a64e6"/><circle cx="1257.2" cy="2347.1" r="5" fill="url(#hl)"/><ellipse cx="1234.3" cy="2351.1" rx="10.2" ry="10.8" fill="#0a64e6"/><circle cx="1230.9" cy="2347.1" r="5" fill="url(#hl)"/><ellipse cx="1208.0" cy="2351.1" rx="10.2" ry="10.8" fill="#0a64e6"/><circle cx="1204.6" cy="2347.1" r="5" fill="url(#hl)"/><ellipse cx="1181.7" cy="2351.0" rx="10.2" ry="10.8" fill="#0a64e6"/><circle cx="1178.3" cy="2347.0" r="5" fill="url(#hl)"/><ellipse cx="1155.4" cy="2351.0" rx="10.2" ry="10.8" fill="#0a64e6"/><circle cx="1152.0" cy="2347.0" r="5" fill="url(#hl)"/><ellipse cx="1129.1" cy="2351.3" rx="10.2" ry="10.8" fill="#0a64e6"/><circle cx="1125.7" cy="2347.3" r="5" fill="url(#hl)"/><ellipse cx="1102.8" cy="2353.3" rx="10.2" ry="10.8" fill="#0a64e6"/><circle cx="1099.4" cy="2349.3" r="5" fill="url(#hl)"/><ellipse cx="1076.5" cy="2353.7" rx="10.2" ry="10.8" fill="#0a64e6"/><circle cx="1073.1" cy="2349.7" r="5" fill="url(#hl)"/><ellipse cx="1050.2" cy="2353.0" rx="10.2" ry="10.8" fill="#0a64e6"/><circle cx="1046.8" cy="2349.0" r="5" fill="url(#hl)"/><ellipse cx="1023.9" cy="2353.2" rx="10.2" ry="10.8" fill="#0a64e6"/><circle cx="1020.5" cy="2349.2" r="5" fill="url(#hl)"/><ellipse cx="997.6" cy="2353.8" rx="10.2" ry="10.8" fill="#0a64e6"/><circle cx="994.2" cy="2349.8" r="5" fill="url(#hl)"/><ellipse cx="971.3" cy="2353.4" rx="10.2" ry="10.8" fill="#0a64e6"/><circle cx="967.9" cy="2349.4" r="5" fill="url(#hl)"/><ellipse cx="945.0" cy="2352.7" rx="10.2" ry="10.8" fill="#0a64e6"/><circle cx="941.6" cy="2348.7" r="5" fill="url(#hl)"/><ellipse cx="918.7" cy="2351.6" rx="10.2" ry="10.8" fill="#0a64e6"/><circle cx="915.3" cy="2347.6" r="5" fill="url(#hl)"/><ellipse cx="892.4" cy="2350.3" rx="10.2" ry="10.8" fill="#0a64e6"/><circle cx="889.0" cy="2346.3" r="5" fill="url(#hl)"/><ellipse cx="866.1" cy="2348.6" rx="10.2" ry="10.8" fill="#0a64e6"/><circle cx="862.7" cy="2344.6" r="5" fill="url(#hl)"/><ellipse cx="839.8" cy="2346.6" rx="10.2" ry="10.8" fill="#0a64e6"/><circle cx="836.4" cy="2342.6" r="5" fill="url(#hl)"/><ellipse cx="813.5" cy="2344.2" rx="10.2" ry="10.8" fill="#0a64e6"/><circle cx="810.1" cy="2340.2" r="5" fill="url(#hl)"/><ellipse cx="787.2" cy="2340.6" rx="10.2" ry="10.8" fill="#0a64e6"/><circle cx="783.8" cy="2336.6" r="5" fill="url(#hl)"/><ellipse cx="760.9" cy="2336.1" rx="10.2" ry="10.8" fill="#0a64e6"/><circle cx="757.5" cy="2332.1" r="5" fill="url(#hl)"/><ellipse cx="734.6" cy="2329.6" rx="10.2" ry="10.8" fill="#0a64e6"/><circle cx="731.2" cy="2325.6" r="5" fill="url(#hl)"/><ellipse cx="708.3" cy="2321.0" rx="10.2" ry="10.8" fill="#0a64e6"/><circle cx="704.9" cy="2317.0" r="5" fill="url(#hl)"/><ellipse cx="682.0" cy="2308.6" rx="10.2" ry="10.8" fill="#0a64e6"/><circle cx="678.6" cy="2304.6" r="5" fill="url(#hl)"/><ellipse cx="655.7" cy="2290.7" rx="10.2" ry="10.8" fill="#0a64e6"/><circle cx="652.3" cy="2286.7" r="5" fill="url(#hl)"/><ellipse cx="629.4" cy="2265.6" rx="10.2" ry="10.8" fill="#0a64e6"/><circle cx="626.0" cy="2261.6" r="5" fill="url(#hl)"/><ellipse cx="603.1" cy="2236.1" rx="10.2" ry="10.8" fill="#0a64e6"/><circle cx="599.7" cy="2232.1" r="5" fill="url(#hl)"/><ellipse cx="576.8" cy="2201.0" rx="10.2" ry="10.8" fill="#0a64e6"/><circle cx="573.4" cy="2197.0" r="5" fill="url(#hl)"/><ellipse cx="550.5" cy="2160.7" rx="10.2" ry="10.8" fill="#0a64e6"/><circle cx="547.1" cy="2156.7" r="5" fill="url(#hl)"/><ellipse cx="524.2" cy="2117.3" rx="10.2" ry="10.8" fill="#0a64e6"/><circle cx="520.8" cy="2113.3" r="5" fill="url(#hl)"/><ellipse cx="497.9" cy="2073.2" rx="10.2" ry="10.8" fill="#0a64e6"/><circle cx="494.5" cy="2069.2" r="5" fill="url(#hl)"/><ellipse cx="471.6" cy="2030.8" rx="10.2" ry="10.8" fill="#0a64e6"/><circle cx="468.2" cy="2026.8" r="5" fill="url(#hl)"/><ellipse cx="445.3" cy="1992.0" rx="10.2" ry="10.8" fill="#0a64e6"/><circle cx="441.9" cy="1988.0" r="5" fill="url(#hl)"/><ellipse cx="419.0" cy="1959.4" rx="10.2" ry="10.8" fill="#0a64e6"/><circle cx="415.6" cy="1955.4" r="5" fill="url(#hl)"/><ellipse cx="392.7" cy="1932.3" rx="10.2" ry="10.8" fill="#0a64e6"/><circle cx="389.3" cy="1928.3" r="5" fill="url(#hl)"/><ellipse cx="366.4" cy="1912.4" rx="10.2" ry="10.8" fill="#0a64e6"/><circle cx="363.0" cy="1908.4" r="5" fill="url(#hl)"/><ellipse cx="340.1" cy="1900.3" rx="10.2" ry="10.8" fill="#0a64e6"/><circle cx="336.7" cy="1896.3" r="5" fill="url(#hl)"/><ellipse cx="313.8" cy="1891.9" rx="10.2" ry="10.8" fill="#0a64e6"/><circle cx="310.4" cy="1887.9" r="5" fill="url(#hl)"/><ellipse cx="287.5" cy="1885.7" rx="10.2" ry="10.8" fill="#0a64e6"/><circle cx="284.1" cy="1881.7" r="5" fill="url(#hl)"/>
<polyline points="1392.1,2350.5 1365.8,2350.4 1339.5,2350.4 1313.2,2350.4 1286.9,2350.4 1260.6,2350.4 1234.3,2350.4 1208.0,2350.3 1181.7,2350.3 1155.4,2350.2 1129.1,2350.6 1102.8,2352.6 1076.5,2353.0 1050.2,2352.3 1023.9,2352.4 997.6,2353.1 971.3,2352.6 945.0,2351.9 918.7,2350.9 892.4,2349.6 866.1,2347.9 839.8,2345.9 813.5,2343.5 787.2,2339.9 760.9,2335.4 734.6,2328.4 708.3,2317.4 682.0,2300.2 655.7,2275.1 629.4,2244.3 603.1,2206.4 576.8,2160.3 550.5,2103.4 524.2,2034.1 497.9,1955.8 471.6,1874.8 445.3,1797.6 419.0,1732.6 392.7,1683.4 366.4,1648.4 340.1,1622.9 313.8,1603.6 287.5,1590.7" fill="none" stroke="#00a85c" stroke-width="3.0" stroke-linejoin="round"/>
<ellipse cx="1392.1" cy="2350.5" rx="10.2" ry="10.8" fill="#00a85c"/><circle cx="1388.7" cy="2346.5" r="5" fill="url(#hl)"/><ellipse cx="1365.8" cy="2350.4" rx="10.2" ry="10.8" fill="#00a85c"/><circle cx="1362.4" cy="2346.4" r="5" fill="url(#hl)"/><ellipse cx="1339.5" cy="2350.4" rx="10.2" ry="10.8" fill="#00a85c"/><circle cx="1336.1" cy="2346.4" r="5" fill="url(#hl)"/><ellipse cx="1313.2" cy="2350.4" rx="10.2" ry="10.8" fill="#00a85c"/><circle cx="1309.8" cy="2346.4" r="5" fill="url(#hl)"/><ellipse cx="1286.9" cy="2350.4" rx="10.2" ry="10.8" fill="#00a85c"/><circle cx="1283.5" cy="2346.4" r="5" fill="url(#hl)"/><ellipse cx="1260.6" cy="2350.4" rx="10.2" ry="10.8" fill="#00a85c"/><circle cx="1257.2" cy="2346.4" r="5" fill="url(#hl)"/><ellipse cx="1234.3" cy="2350.4" rx="10.2" ry="10.8" fill="#00a85c"/><circle cx="1230.9" cy="2346.4" r="5" fill="url(#hl)"/><ellipse cx="1208.0" cy="2350.3" rx="10.2" ry="10.8" fill="#00a85c"/><circle cx="1204.6" cy="2346.3" r="5" fill="url(#hl)"/><ellipse cx="1181.7" cy="2350.3" rx="10.2" ry="10.8" fill="#00a85c"/><circle cx="1178.3" cy="2346.3" r="5" fill="url(#hl)"/><ellipse cx="1155.4" cy="2350.2" rx="10.2" ry="10.8" fill="#00a85c"/><circle cx="1152.0" cy="2346.2" r="5" fill="url(#hl)"/><ellipse cx="1129.1" cy="2350.6" rx="10.2" ry="10.8" fill="#00a85c"/><circle cx="1125.7" cy="2346.6" r="5" fill="url(#hl)"/><ellipse cx="1102.8" cy="2352.6" rx="10.2" ry="10.8" fill="#00a85c"/><circle cx="1099.4" cy="2348.6" r="5" fill="url(#hl)"/><ellipse cx="1076.5" cy="2353.0" rx="10.2" ry="10.8" fill="#00a85c"/><circle cx="1073.1" cy="2349.0" r="5" fill="url(#hl)"/><ellipse cx="1050.2" cy="2352.3" rx="10.2" ry="10.8" fill="#00a85c"/><circle cx="1046.8" cy="2348.3" r="5" fill="url(#hl)"/><ellipse cx="1023.9" cy="2352.4" rx="10.2" ry="10.8" fill="#00a85c"/><circle cx="1020.5" cy="2348.4" r="5" fill="url(#hl)"/><ellipse cx="997.6" cy="2353.1" rx="10.2" ry="10.8" fill="#00a85c"/><circle cx="994.2" cy="2349.1" r="5" fill="url(#hl)"/><ellipse cx="971.3" cy="2352.6" rx="10.2" ry="10.8" fill="#00a85c"/><circle cx="967.9" cy="2348.6" r="5" fill="url(#hl)"/><ellipse cx="945.0" cy="2351.9" rx="10.2" ry="10.8" fill="#00a85c"/><circle cx="941.6" cy="2347.9" r="5" fill="url(#hl)"/><ellipse cx="918.7" cy="2350.9" rx="10.2" ry="10.8" fill="#00a85c"/><circle cx="915.3" cy="2346.9" r="5" fill="url(#hl)"/><ellipse cx="892.4" cy="2349.6" rx="10.2" ry="10.8" fill="#00a85c"/><circle cx="889.0" cy="2345.6" r="5" fill="url(#hl)"/><ellipse cx="866.1" cy="2347.9" rx="10.2" ry="10.8" fill="#00a85c"/><circle cx="862.7" cy="2343.9" r="5" fill="url(#hl)"/><ellipse cx="839.8" cy="2345.9" rx="10.2" ry="10.8" fill="#00a85c"/><circle cx="836.4" cy="2341.9" r="5" fill="url(#hl)"/><ellipse cx="813.5" cy="2343.5" rx="10.2" ry="10.8" fill="#00a85c"/><circle cx="810.1" cy="2339.5" r="5" fill="url(#hl)"/><ellipse cx="787.2" cy="2339.9" rx="10.2" ry="10.8" fill="#00a85c"/><circle cx="783.8" cy="2335.9" r="5" fill="url(#hl)"/><ellipse cx="760.9" cy="2335.4" rx="10.2" ry="10.8" fill="#00a85c"/><circle cx="757.5" cy="2331.4" r="5" fill="url(#hl)"/><ellipse cx="734.6" cy="2328.4" rx="10.2" ry="10.8" fill="#00a85c"/><circle cx="731.2" cy="2324.4" r="5" fill="url(#hl)"/><ellipse cx="708.3" cy="2317.4" rx="10.2" ry="10.8" fill="#00a85c"/><circle cx="704.9" cy="2313.4" r="5" fill="url(#hl)"/><ellipse cx="682.0" cy="2300.2" rx="10.2" ry="10.8" fill="#00a85c"/><circle cx="678.6" cy="2296.2" r="5" fill="url(#hl)"/><ellipse cx="655.7" cy="2275.1" rx="10.2" ry="10.8" fill="#00a85c"/><circle cx="652.3" cy="2271.1" r="5" fill="url(#hl)"/><ellipse cx="629.4" cy="2244.3" rx="10.2" ry="10.8" fill="#00a85c"/><circle cx="626.0" cy="2240.3" r="5" fill="url(#hl)"/><ellipse cx="603.1" cy="2206.4" rx="10.2" ry="10.8" fill="#00a85c"/><circle cx="599.7" cy="2202.4" r="5" fill="url(#hl)"/><ellipse cx="576.8" cy="2160.3" rx="10.2" ry="10.8" fill="#00a85c"/><circle cx="573.4" cy="2156.3" r="5" fill="url(#hl)"/><ellipse cx="550.5" cy="2103.4" rx="10.2" ry="10.8" fill="#00a85c"/><circle cx="547.1" cy="2099.4" r="5" fill="url(#hl)"/><ellipse cx="524.2" cy="2034.1" rx="10.2" ry="10.8" fill="#00a85c"/><circle cx="520.8" cy="2030.1" r="5" fill="url(#hl)"/><ellipse cx="497.9" cy="1955.8" rx="10.2" ry="10.8" fill="#00a85c"/><circle cx="494.5" cy="1951.8" r="5" fill="url(#hl)"/><ellipse cx="471.6" cy="1874.8" rx="10.2" ry="10.8" fill="#00a85c"/><circle cx="468.2" cy="1870.8" r="5" fill="url(#hl)"/><ellipse cx="445.3" cy="1797.6" rx="10.2" ry="10.8" fill="#00a85c"/><circle cx="441.9" cy="1793.6" r="5" fill="url(#hl)"/><ellipse cx="419.0" cy="1732.6" rx="10.2" ry="10.8" fill="#00a85c"/><circle cx="415.6" cy="1728.6" r="5" fill="url(#hl)"/><ellipse cx="392.7" cy="1683.4" rx="10.2" ry="10.8" fill="#00a85c"/><circle cx="389.3" cy="1679.4" r="5" fill="url(#hl)"/><ellipse cx="366.4" cy="1648.4" rx="10.2" ry="10.8" fill="#00a85c"/><circle cx="363.0" cy="1644.4" r="5" fill="url(#hl)"/><ellipse cx="340.1" cy="1622.9" rx="10.2" ry="10.8" fill="#00a85c"/><circle cx="336.7" cy="1618.9" r="5" fill="url(#hl)"/><ellipse cx="313.8" cy="1603.6" rx="10.2" ry="10.8" fill="#00a85c"/><circle cx="310.4" cy="1599.6" r="5" fill="url(#hl)"/><ellipse cx="287.5" cy="1590.7" rx="10.2" ry="10.8" fill="#00a85c"/><circle cx="284.1" cy="1586.7" r="5" fill="url(#hl)"/>
<polyline points="1392.1,2352.4 1365.8,2352.4 1339.5,2352.4 1313.2,2352.4 1286.9,2352.4 1260.6,2352.4 1234.3,2352.3 1208.0,2352.3 1181.7,2352.3 1155.4,2352.2 1129.1,2352.5 1102.8,2354.6 1076.5,2355.0 1050.2,2354.3 1023.9,2354.4 997.6,2355.0 971.3,2354.6 945.0,2353.9 918.7,2352.9 892.4,2351.6 866.1,2349.9 839.8,2347.9 813.5,2345.4 787.2,2341.9 760.9,2336.8 734.6,2329.1 708.3,2318.3 682.0,2303.7 655.7,2280.9 629.4,2253.7 603.1,2219.5 576.8,2176.2 550.5,2123.3 524.2,2061.8 497.9,1994.3 471.6,1926.2 445.3,1861.2 419.0,1802.4 392.7,1751.6 366.4,1709.2 340.1,1678.5 313.8,1657.1 287.5,1640.1" fill="none" stroke="#c86ee0" stroke-width="3.0" stroke-linejoin="round"/>
<ellipse cx="1392.1" cy="2352.4" rx="10.2" ry="10.8" fill="#c86ee0"/><circle cx="1388.7" cy="2348.4" r="5" fill="url(#hl)"/><ellipse cx="1365.8" cy="2352.4" rx="10.2" ry="10.8" fill="#c86ee0"/><circle cx="1362.4" cy="2348.4" r="5" fill="url(#hl)"/><ellipse cx="1339.5" cy="2352.4" rx="10.2" ry="10.8" fill="#c86ee0"/><circle cx="1336.1" cy="2348.4" r="5" fill="url(#hl)"/><ellipse cx="1313.2" cy="2352.4" rx="10.2" ry="10.8" fill="#c86ee0"/><circle cx="1309.8" cy="2348.4" r="5" fill="url(#hl)"/><ellipse cx="1286.9" cy="2352.4" rx="10.2" ry="10.8" fill="#c86ee0"/><circle cx="1283.5" cy="2348.4" r="5" fill="url(#hl)"/><ellipse cx="1260.6" cy="2352.4" rx="10.2" ry="10.8" fill="#c86ee0"/><circle cx="1257.2" cy="2348.4" r="5" fill="url(#hl)"/><ellipse cx="1234.3" cy="2352.3" rx="10.2" ry="10.8" fill="#c86ee0"/><circle cx="1230.9" cy="2348.3" r="5" fill="url(#hl)"/><ellipse cx="1208.0" cy="2352.3" rx="10.2" ry="10.8" fill="#c86ee0"/><circle cx="1204.6" cy="2348.3" r="5" fill="url(#hl)"/><ellipse cx="1181.7" cy="2352.3" rx="10.2" ry="10.8" fill="#c86ee0"/><circle cx="1178.3" cy="2348.3" r="5" fill="url(#hl)"/><ellipse cx="1155.4" cy="2352.2" rx="10.2" ry="10.8" fill="#c86ee0"/><circle cx="1152.0" cy="2348.2" r="5" fill="url(#hl)"/><ellipse cx="1129.1" cy="2352.5" rx="10.2" ry="10.8" fill="#c86ee0"/><circle cx="1125.7" cy="2348.5" r="5" fill="url(#hl)"/><ellipse cx="1102.8" cy="2354.6" rx="10.2" ry="10.8" fill="#c86ee0"/><circle cx="1099.4" cy="2350.6" r="5" fill="url(#hl)"/><ellipse cx="1076.5" cy="2355.0" rx="10.2" ry="10.8" fill="#c86ee0"/><circle cx="1073.1" cy="2351.0" r="5" fill="url(#hl)"/><ellipse cx="1050.2" cy="2354.3" rx="10.2" ry="10.8" fill="#c86ee0"/><circle cx="1046.8" cy="2350.3" r="5" fill="url(#hl)"/><ellipse cx="1023.9" cy="2354.4" rx="10.2" ry="10.8" fill="#c86ee0"/><circle cx="1020.5" cy="2350.4" r="5" fill="url(#hl)"/><ellipse cx="997.6" cy="2355.0" rx="10.2" ry="10.8" fill="#c86ee0"/><circle cx="994.2" cy="2351.0" r="5" fill="url(#hl)"/><ellipse cx="971.3" cy="2354.6" rx="10.2" ry="10.8" fill="#c86ee0"/><circle cx="967.9" cy="2350.6" r="5" fill="url(#hl)"/><ellipse cx="945.0" cy="2353.9" rx="10.2" ry="10.8" fill="#c86ee0"/><circle cx="941.6" cy="2349.9" r="5" fill="url(#hl)"/><ellipse cx="918.7" cy="2352.9" rx="10.2" ry="10.8" fill="#c86ee0"/><circle cx="915.3" cy="2348.9" r="5" fill="url(#hl)"/><ellipse cx="892.4" cy="2351.6" rx="10.2" ry="10.8" fill="#c86ee0"/><circle cx="889.0" cy="2347.6" r="5" fill="url(#hl)"/><ellipse cx="866.1" cy="2349.9" rx="10.2" ry="10.8" fill="#c86ee0"/><circle cx="862.7" cy="2345.9" r="5" fill="url(#hl)"/><ellipse cx="839.8" cy="2347.9" rx="10.2" ry="10.8" fill="#c86ee0"/><circle cx="836.4" cy="2343.9" r="5" fill="url(#hl)"/><ellipse cx="813.5" cy="2345.4" rx="10.2" ry="10.8" fill="#c86ee0"/><circle cx="810.1" cy="2341.4" r="5" fill="url(#hl)"/><ellipse cx="787.2" cy="2341.9" rx="10.2" ry="10.8" fill="#c86ee0"/><circle cx="783.8" cy="2337.9" r="5" fill="url(#hl)"/><ellipse cx="760.9" cy="2336.8" rx="10.2" ry="10.8" fill="#c86ee0"/><circle cx="757.5" cy="2332.8" r="5" fill="url(#hl)"/><ellipse cx="734.6" cy="2329.1" rx="10.2" ry="10.8" fill="#c86ee0"/><circle cx="731.2" cy="2325.1" r="5" fill="url(#hl)"/><ellipse cx="708.3" cy="2318.3" rx="10.2" ry="10.8" fill="#c86ee0"/><circle cx="704.9" cy="2314.3" r="5" fill="url(#hl)"/><ellipse cx="682.0" cy="2303.7" rx="10.2" ry="10.8" fill="#c86ee0"/><circle cx="678.6" cy="2299.7" r="5" fill="url(#hl)"/><ellipse cx="655.7" cy="2280.9" rx="10.2" ry="10.8" fill="#c86ee0"/><circle cx="652.3" cy="2276.9" r="5" fill="url(#hl)"/><ellipse cx="629.4" cy="2253.7" rx="10.2" ry="10.8" fill="#c86ee0"/><circle cx="626.0" cy="2249.7" r="5" fill="url(#hl)"/><ellipse cx="603.1" cy="2219.5" rx="10.2" ry="10.8" fill="#c86ee0"/><circle cx="599.7" cy="2215.5" r="5" fill="url(#hl)"/><ellipse cx="576.8" cy="2176.2" rx="10.2" ry="10.8" fill="#c86ee0"/><circle cx="573.4" cy="2172.2" r="5" fill="url(#hl)"/><ellipse cx="550.5" cy="2123.3" rx="10.2" ry="10.8" fill="#c86ee0"/><circle cx="547.1" cy="2119.3" r="5" fill="url(#hl)"/><ellipse cx="524.2" cy="2061.8" rx="10.2" ry="10.8" fill="#c86ee0"/><circle cx="520.8" cy="2057.8" r="5" fill="url(#hl)"/><ellipse cx="497.9" cy="1994.3" rx="10.2" ry="10.8" fill="#c86ee0"/><circle cx="494.5" cy="1990.3" r="5" fill="url(#hl)"/><ellipse cx="471.6" cy="1926.2" rx="10.2" ry="10.8" fill="#c86ee0"/><circle cx="468.2" cy="1922.2" r="5" fill="url(#hl)"/><ellipse cx="445.3" cy="1861.2" rx="10.2" ry="10.8" fill="#c86ee0"/><circle cx="441.9" cy="1857.2" r="5" fill="url(#hl)"/><ellipse cx="419.0" cy="1802.4" rx="10.2" ry="10.8" fill="#c86ee0"/><circle cx="415.6" cy="1798.4" r="5" fill="url(#hl)"/><ellipse cx="392.7" cy="1751.6" rx="10.2" ry="10.8" fill="#c86ee0"/><circle cx="389.3" cy="1747.6" r="5" fill="url(#hl)"/><ellipse cx="366.4" cy="1709.2" rx="10.2" ry="10.8" fill="#c86ee0"/><circle cx="363.0" cy="1705.2" r="5" fill="url(#hl)"/><ellipse cx="340.1" cy="1678.5" rx="10.2" ry="10.8" fill="#c86ee0"/><circle cx="336.7" cy="1674.5" r="5" fill="url(#hl)"/><ellipse cx="313.8" cy="1657.1" rx="10.2" ry="10.8" fill="#c86ee0"/><circle cx="310.4" cy="1653.1" r="5" fill="url(#hl)"/><ellipse cx="287.5" cy="1640.1" rx="10.2" ry="10.8" fill="#c86ee0"/><circle cx="284.1" cy="1636.1" r="5" fill="url(#hl)"/>
</g>
<text x="266.0" y="2475.7" font-size="80" text-anchor="end" >0</text>
<text x="266.0" y="2277.2" font-size="80" text-anchor="end" >400</text>
<text x="266.0" y="2078.7" font-size="80" text-anchor="end" >800</text>
<text x="266.0" y="1880.1" font-size="80" text-anchor="end" >1200</text>
<text x="266.0" y="1681.6" font-size="80" text-anchor="end" >1600</text>
<text x="288.0" y="2545" font-size="80" text-anchor="middle">10<tspan dy="-32" font-size="53">-2</tspan></text>
<text x="445.8" y="2545" font-size="80" text-anchor="middle">10<tspan dy="-32" font-size="53">-1</tspan></text>
<text x="603.6" y="2545" font-size="80" text-anchor="middle">10<tspan dy="-32" font-size="53">0</tspan></text>
<text x="761.4" y="2545" font-size="80" text-anchor="middle">10<tspan dy="-32" font-size="53">1</tspan></text>
<text x="919.2" y="2545" font-size="80" text-anchor="middle">10<tspan dy="-32" font-size="53">2</tspan></text>
<text x="1077.0" y="2545" font-size="80" text-anchor="middle">10<tspan dy="-32" font-size="53">3</tspan></text>
<text x="1234.8" y="2545" font-size="80" text-anchor="middle">10<tspan dy="-32" font-size="53">4</tspan></text>
<text x="1392.6" y="2545" font-size="80" text-anchor="middle">10<tspan dy="-32" font-size="53">5</tspan></text>
<text x="871" y="2622.5" font-size="80" text-anchor="middle">Frequency (Hz)</text>
<text transform="translate(96.1,1477.6) scale(1.025,1)" font-size="157">(b)</text>
<text transform="translate(85,1978) rotate(-90)" font-size="80" text-anchor="middle">|Z| (Ω·cm<tspan dy="-36" font-size="53">2</tspan><tspan dy="36">)</tspan></text>
<line x1="948.6" y1="1608.4" x2="1082.4" y2="1608.4" stroke="#4f4f4b" stroke-width="4.5"/>
<ellipse cx="1016.0" cy="1608.4" rx="10.2" ry="10.8" fill="#4f4f4b"/><circle cx="1012.6" cy="1604.4" r="5" fill="url(#hl)"/>
<text x="1096" y="1627.6" font-size="57">Blank</text>
<line x1="948.6" y1="1688.2" x2="1082.4" y2="1688.2" stroke="#ff3a3a" stroke-width="4.5"/>
<ellipse cx="1016.0" cy="1688.2" rx="10.2" ry="10.8" fill="#ff3a3a"/><circle cx="1012.6" cy="1684.2" r="5" fill="url(#hl)"/>
<text y="1707.4" font-size="57"><tspan x="1094.6">20</tspan><tspan x="1169.5">mg</tspan><tspan x="1242.9">·</tspan><tspan x="1262.3">L</tspan></text>
<text x="1295.9" y="1684.9" font-size="43" fill-opacity="1">−</text>
<text x="1318.1" y="1686.0" font-size="41">1</text>
<line x1="948.6" y1="1767.6" x2="1082.4" y2="1767.6" stroke="#0a64e6" stroke-width="4.5"/>
<ellipse cx="1016.0" cy="1767.6" rx="10.2" ry="10.8" fill="#0a64e6"/><circle cx="1012.6" cy="1763.6" r="5" fill="url(#hl)"/>
<text y="1786.8" font-size="57"><tspan x="1094.6">40</tspan><tspan x="1169.5">mg</tspan><tspan x="1242.9">·</tspan><tspan x="1262.3">L</tspan></text>
<text x="1295.9" y="1764.3" font-size="43" fill-opacity="1">−</text>
<text x="1318.1" y="1765.4" font-size="41">1</text>
<line x1="948.6" y1="1847.0" x2="1082.4" y2="1847.0" stroke="#00a85c" stroke-width="4.5"/>
<ellipse cx="1016.0" cy="1847.0" rx="10.2" ry="10.8" fill="#00a85c"/><circle cx="1012.6" cy="1843.0" r="5" fill="url(#hl)"/>
<text y="1866.2" font-size="57"><tspan x="1094.6">60</tspan><tspan x="1169.5">mg</tspan><tspan x="1242.9">·</tspan><tspan x="1262.3">L</tspan></text>
<text x="1295.9" y="1843.7" font-size="43" fill-opacity="1">−</text>
<text x="1318.1" y="1844.8" font-size="41">1</text>
<line x1="948.6" y1="1926.7" x2="1082.4" y2="1926.7" stroke="#c86ee0" stroke-width="4.5"/>
<ellipse cx="1016.0" cy="1926.7" rx="10.2" ry="10.8" fill="#c86ee0"/><circle cx="1012.6" cy="1922.7" r="5" fill="url(#hl)"/>
<text y="1945.9" font-size="57"><tspan x="1094.6">80</tspan><tspan x="1169.5">mg</tspan><tspan x="1242.9">·</tspan><tspan x="1262.3">L</tspan></text>
<text x="1295.9" y="1923.4" font-size="43" fill-opacity="1">−</text>
<text x="1318.1" y="1924.5" font-size="41">1</text>
<g stroke="#000" fill="none" stroke-linecap="butt">
<line x1="287.55" y1="2852.05" x2="287.55" y2="3801.75" stroke-width="2.7"/>
<line x1="1454.1" y1="2852.05" x2="1454.1" y2="3801.75" stroke-width="5.4"/>
<line x1="286.2" y1="2854.9" x2="1456.8" y2="2854.9" stroke-width="5.7"/>
<line x1="286.2" y1="3799.1" x2="1456.8" y2="3799.1" stroke-width="5.3"/>
</g>
<g stroke="#000">
<line x1="444.7" y1="3797.5" x2="444.7" y2="3780.1" stroke-width="5.2"/>
<line x1="602.5" y1="3797.5" x2="602.5" y2="3780.1" stroke-width="5.2"/>
<line x1="760.3" y1="3797.5" x2="760.3" y2="3780.1" stroke-width="5.2"/>
<line x1="918.1" y1="3797.5" x2="918.1" y2="3780.1" stroke-width="5.2"/>
<line x1="1075.9" y1="3797.5" x2="1075.9" y2="3780.1" stroke-width="5.2"/>
<line x1="1233.7" y1="3797.5" x2="1233.7" y2="3780.1" stroke-width="5.2"/>
<line x1="1391.5" y1="3797.5" x2="1391.5" y2="3780.1" stroke-width="5.2"/>
<line x1="334.4" y1="3797.5" x2="334.4" y2="3790.7" stroke-width="2.6"/>
<line x1="362.2" y1="3797.5" x2="362.2" y2="3790.7" stroke-width="2.6"/>
<line x1="381.9" y1="3797.5" x2="381.9" y2="3790.7" stroke-width="2.6"/>
<line x1="397.2" y1="3797.5" x2="397.2" y2="3790.7" stroke-width="2.6"/>
<line x1="409.7" y1="3797.5" x2="409.7" y2="3790.7" stroke-width="2.6"/>
<line x1="420.3" y1="3797.5" x2="420.3" y2="3790.7" stroke-width="2.6"/>
<line x1="429.4" y1="3797.5" x2="429.4" y2="3790.7" stroke-width="2.6"/>
<line x1="437.5" y1="3797.5" x2="437.5" y2="3790.7" stroke-width="2.6"/>
<line x1="492.2" y1="3797.5" x2="492.2" y2="3790.7" stroke-width="2.6"/>
<line x1="520.0" y1="3797.5" x2="520.0" y2="3790.7" stroke-width="2.6"/>
<line x1="539.7" y1="3797.5" x2="539.7" y2="3790.7" stroke-width="2.6"/>
<line x1="555.0" y1="3797.5" x2="555.0" y2="3790.7" stroke-width="2.6"/>
<line x1="567.5" y1="3797.5" x2="567.5" y2="3790.7" stroke-width="2.6"/>
<line x1="578.1" y1="3797.5" x2="578.1" y2="3790.7" stroke-width="2.6"/>
<line x1="587.2" y1="3797.5" x2="587.2" y2="3790.7" stroke-width="2.6"/>
<line x1="595.3" y1="3797.5" x2="595.3" y2="3790.7" stroke-width="2.6"/>
<line x1="650.0" y1="3797.5" x2="650.0" y2="3790.7" stroke-width="2.6"/>
<line x1="677.8" y1="3797.5" x2="677.8" y2="3790.7" stroke-width="2.6"/>
<line x1="697.5" y1="3797.5" x2="697.5" y2="3790.7" stroke-width="2.6"/>
<line x1="712.8" y1="3797.5" x2="712.8" y2="3790.7" stroke-width="2.6"/>
<line x1="725.3" y1="3797.5" x2="725.3" y2="3790.7" stroke-width="2.6"/>
<line x1="735.9" y1="3797.5" x2="735.9" y2="3790.7" stroke-width="2.6"/>
<line x1="745.0" y1="3797.5" x2="745.0" y2="3790.7" stroke-width="2.6"/>
<line x1="753.1" y1="3797.5" x2="753.1" y2="3790.7" stroke-width="2.6"/>
<line x1="807.8" y1="3797.5" x2="807.8" y2="3790.7" stroke-width="2.6"/>
<line x1="835.6" y1="3797.5" x2="835.6" y2="3790.7" stroke-width="2.6"/>
<line x1="855.3" y1="3797.5" x2="855.3" y2="3790.7" stroke-width="2.6"/>
<line x1="870.6" y1="3797.5" x2="870.6" y2="3790.7" stroke-width="2.6"/>
<line x1="883.1" y1="3797.5" x2="883.1" y2="3790.7" stroke-width="2.6"/>
<line x1="893.7" y1="3797.5" x2="893.7" y2="3790.7" stroke-width="2.6"/>
<line x1="902.8" y1="3797.5" x2="902.8" y2="3790.7" stroke-width="2.6"/>
<line x1="910.9" y1="3797.5" x2="910.9" y2="3790.7" stroke-width="2.6"/>
<line x1="965.6" y1="3797.5" x2="965.6" y2="3790.7" stroke-width="2.6"/>
<line x1="993.4" y1="3797.5" x2="993.4" y2="3790.7" stroke-width="2.6"/>
<line x1="1013.1" y1="3797.5" x2="1013.1" y2="3790.7" stroke-width="2.6"/>
<line x1="1028.4" y1="3797.5" x2="1028.4" y2="3790.7" stroke-width="2.6"/>
<line x1="1040.9" y1="3797.5" x2="1040.9" y2="3790.7" stroke-width="2.6"/>
<line x1="1051.5" y1="3797.5" x2="1051.5" y2="3790.7" stroke-width="2.6"/>
<line x1="1060.6" y1="3797.5" x2="1060.6" y2="3790.7" stroke-width="2.6"/>
<line x1="1068.7" y1="3797.5" x2="1068.7" y2="3790.7" stroke-width="2.6"/>
<line x1="1123.4" y1="3797.5" x2="1123.4" y2="3790.7" stroke-width="2.6"/>
<line x1="1151.2" y1="3797.5" x2="1151.2" y2="3790.7" stroke-width="2.6"/>
<line x1="1170.9" y1="3797.5" x2="1170.9" y2="3790.7" stroke-width="2.6"/>
<line x1="1186.2" y1="3797.5" x2="1186.2" y2="3790.7" stroke-width="2.6"/>
<line x1="1198.7" y1="3797.5" x2="1198.7" y2="3790.7" stroke-width="2.6"/>
<line x1="1209.3" y1="3797.5" x2="1209.3" y2="3790.7" stroke-width="2.6"/>
<line x1="1218.4" y1="3797.5" x2="1218.4" y2="3790.7" stroke-width="2.6"/>
<line x1="1226.5" y1="3797.5" x2="1226.5" y2="3790.7" stroke-width="2.6"/>
<line x1="1281.2" y1="3797.5" x2="1281.2" y2="3790.7" stroke-width="2.6"/>
<line x1="1309.0" y1="3797.5" x2="1309.0" y2="3790.7" stroke-width="2.6"/>
<line x1="1328.7" y1="3797.5" x2="1328.7" y2="3790.7" stroke-width="2.6"/>
<line x1="1344.0" y1="3797.5" x2="1344.0" y2="3790.7" stroke-width="2.6"/>
<line x1="1356.5" y1="3797.5" x2="1356.5" y2="3790.7" stroke-width="2.6"/>
<line x1="1367.1" y1="3797.5" x2="1367.1" y2="3790.7" stroke-width="2.6"/>
<line x1="1376.2" y1="3797.5" x2="1376.2" y2="3790.7" stroke-width="2.6"/>
<line x1="1384.3" y1="3797.5" x2="1384.3" y2="3790.7" stroke-width="2.6"/>
<line x1="1439.0" y1="3797.5" x2="1439.0" y2="3790.7" stroke-width="2.6"/>
</g>
<g stroke="#000">
<line x1="287.9" y1="3704.6" x2="304.9" y2="3704.6" stroke-width="2.8"/>
<line x1="287.9" y1="3516.0" x2="304.9" y2="3516.0" stroke-width="2.8"/>
<line x1="287.9" y1="3327.4" x2="304.9" y2="3327.4" stroke-width="2.8"/>
<line x1="287.9" y1="3138.8" x2="304.9" y2="3138.8" stroke-width="2.8"/>
<line x1="287.9" y1="2950.2" x2="304.9" y2="2950.2" stroke-width="2.8"/>
<line x1="287.9" y1="3610.3" x2="296.9" y2="3610.3" stroke-width="2.8"/>
<line x1="287.9" y1="3421.7" x2="296.9" y2="3421.7" stroke-width="2.8"/>
<line x1="287.9" y1="3233.1" x2="296.9" y2="3233.1" stroke-width="2.8"/>
<line x1="287.9" y1="3044.5" x2="296.9" y2="3044.5" stroke-width="2.8"/>
</g>
<clipPath id="cc"><rect x="286.4" y="2852" width="1165.0" height="947"/></clipPath><g clip-path="url(#cc)">
<polyline points="1391.5,3703.7 1365.2,3703.6 1338.9,3703.5 1312.6,3703.3 1286.3,3702.9 1260.0,3702.4 1233.7,3701.8 1207.4,3700.9 1181.1,3700.2 1154.8,3698.9 1128.5,3697.0 1102.2,3695.7 1075.9,3693.0 1049.6,3688.9 1023.3,3685.3 997.0,3679.5 970.7,3670.7 944.4,3665.5 918.1,3653.8 891.8,3634.5 865.5,3614.6 839.2,3589.2 812.9,3552.5 786.6,3502.7 760.3,3459.5 734.0,3410.0 707.7,3360.0 681.4,3319.6 655.1,3292.4 628.8,3279.0 602.5,3279.0 576.2,3292.6 549.9,3319.5 523.6,3358.0 497.3,3406.8 471.0,3458.3 444.7,3506.1 418.4,3548.1 392.1,3582.7 365.8,3610.1 339.5,3631.7 313.2,3648.3 286.9,3661.8" fill="none" stroke="#4f4f4b" stroke-width="3.0" stroke-linejoin="round"/>
<ellipse cx="1391.5" cy="3703.7" rx="10.2" ry="10.8" fill="#4f4f4b"/><circle cx="1388.1" cy="3699.7" r="5" fill="url(#hl)"/><ellipse cx="1365.2" cy="3703.6" rx="10.2" ry="10.8" fill="#4f4f4b"/><circle cx="1361.8" cy="3699.6" r="5" fill="url(#hl)"/><ellipse cx="1338.9" cy="3703.5" rx="10.2" ry="10.8" fill="#4f4f4b"/><circle cx="1335.5" cy="3699.5" r="5" fill="url(#hl)"/><ellipse cx="1312.6" cy="3703.3" rx="10.2" ry="10.8" fill="#4f4f4b"/><circle cx="1309.2" cy="3699.3" r="5" fill="url(#hl)"/><ellipse cx="1286.3" cy="3702.9" rx="10.2" ry="10.8" fill="#4f4f4b"/><circle cx="1282.9" cy="3698.9" r="5" fill="url(#hl)"/><ellipse cx="1260.0" cy="3702.4" rx="10.2" ry="10.8" fill="#4f4f4b"/><circle cx="1256.6" cy="3698.4" r="5" fill="url(#hl)"/><ellipse cx="1233.7" cy="3701.8" rx="10.2" ry="10.8" fill="#4f4f4b"/><circle cx="1230.3" cy="3697.8" r="5" fill="url(#hl)"/><ellipse cx="1207.4" cy="3700.9" rx="10.2" ry="10.8" fill="#4f4f4b"/><circle cx="1204.0" cy="3696.9" r="5" fill="url(#hl)"/><ellipse cx="1181.1" cy="3700.2" rx="10.2" ry="10.8" fill="#4f4f4b"/><circle cx="1177.7" cy="3696.2" r="5" fill="url(#hl)"/><ellipse cx="1154.8" cy="3698.9" rx="10.2" ry="10.8" fill="#4f4f4b"/><circle cx="1151.4" cy="3694.9" r="5" fill="url(#hl)"/><ellipse cx="1128.5" cy="3697.0" rx="10.2" ry="10.8" fill="#4f4f4b"/><circle cx="1125.1" cy="3693.0" r="5" fill="url(#hl)"/><ellipse cx="1102.2" cy="3695.7" rx="10.2" ry="10.8" fill="#4f4f4b"/><circle cx="1098.8" cy="3691.7" r="5" fill="url(#hl)"/><ellipse cx="1075.9" cy="3693.0" rx="10.2" ry="10.8" fill="#4f4f4b"/><circle cx="1072.5" cy="3689.0" r="5" fill="url(#hl)"/><ellipse cx="1049.6" cy="3688.9" rx="10.2" ry="10.8" fill="#4f4f4b"/><circle cx="1046.2" cy="3684.9" r="5" fill="url(#hl)"/><ellipse cx="1023.3" cy="3685.3" rx="10.2" ry="10.8" fill="#4f4f4b"/><circle cx="1019.9" cy="3681.3" r="5" fill="url(#hl)"/><ellipse cx="997.0" cy="3679.5" rx="10.2" ry="10.8" fill="#4f4f4b"/><circle cx="993.6" cy="3675.5" r="5" fill="url(#hl)"/><ellipse cx="970.7" cy="3670.7" rx="10.2" ry="10.8" fill="#4f4f4b"/><circle cx="967.3" cy="3666.7" r="5" fill="url(#hl)"/><ellipse cx="944.4" cy="3665.5" rx="10.2" ry="10.8" fill="#4f4f4b"/><circle cx="941.0" cy="3661.5" r="5" fill="url(#hl)"/><ellipse cx="918.1" cy="3653.8" rx="10.2" ry="10.8" fill="#4f4f4b"/><circle cx="914.7" cy="3649.8" r="5" fill="url(#hl)"/><ellipse cx="891.8" cy="3634.5" rx="10.2" ry="10.8" fill="#4f4f4b"/><circle cx="888.4" cy="3630.5" r="5" fill="url(#hl)"/><ellipse cx="865.5" cy="3614.6" rx="10.2" ry="10.8" fill="#4f4f4b"/><circle cx="862.1" cy="3610.6" r="5" fill="url(#hl)"/><ellipse cx="839.2" cy="3589.2" rx="10.2" ry="10.8" fill="#4f4f4b"/><circle cx="835.8" cy="3585.2" r="5" fill="url(#hl)"/><ellipse cx="812.9" cy="3552.5" rx="10.2" ry="10.8" fill="#4f4f4b"/><circle cx="809.5" cy="3548.5" r="5" fill="url(#hl)"/><ellipse cx="786.6" cy="3502.7" rx="10.2" ry="10.8" fill="#4f4f4b"/><circle cx="783.2" cy="3498.7" r="5" fill="url(#hl)"/><ellipse cx="760.3" cy="3459.5" rx="10.2" ry="10.8" fill="#4f4f4b"/><circle cx="756.9" cy="3455.5" r="5" fill="url(#hl)"/><ellipse cx="734.0" cy="3410.0" rx="10.2" ry="10.8" fill="#4f4f4b"/><circle cx="730.6" cy="3406.0" r="5" fill="url(#hl)"/><ellipse cx="707.7" cy="3360.0" rx="10.2" ry="10.8" fill="#4f4f4b"/><circle cx="704.3" cy="3356.0" r="5" fill="url(#hl)"/><ellipse cx="681.4" cy="3319.6" rx="10.2" ry="10.8" fill="#4f4f4b"/><circle cx="678.0" cy="3315.6" r="5" fill="url(#hl)"/><ellipse cx="655.1" cy="3292.4" rx="10.2" ry="10.8" fill="#4f4f4b"/><circle cx="651.7" cy="3288.4" r="5" fill="url(#hl)"/><ellipse cx="628.8" cy="3279.0" rx="10.2" ry="10.8" fill="#4f4f4b"/><circle cx="625.4" cy="3275.0" r="5" fill="url(#hl)"/><ellipse cx="602.5" cy="3279.0" rx="10.2" ry="10.8" fill="#4f4f4b"/><circle cx="599.1" cy="3275.0" r="5" fill="url(#hl)"/><ellipse cx="576.2" cy="3292.6" rx="10.2" ry="10.8" fill="#4f4f4b"/><circle cx="572.8" cy="3288.6" r="5" fill="url(#hl)"/><ellipse cx="549.9" cy="3319.5" rx="10.2" ry="10.8" fill="#4f4f4b"/><circle cx="546.5" cy="3315.5" r="5" fill="url(#hl)"/><ellipse cx="523.6" cy="3358.0" rx="10.2" ry="10.8" fill="#4f4f4b"/><circle cx="520.2" cy="3354.0" r="5" fill="url(#hl)"/><ellipse cx="497.3" cy="3406.8" rx="10.2" ry="10.8" fill="#4f4f4b"/><circle cx="493.9" cy="3402.8" r="5" fill="url(#hl)"/><ellipse cx="471.0" cy="3458.3" rx="10.2" ry="10.8" fill="#4f4f4b"/><circle cx="467.6" cy="3454.3" r="5" fill="url(#hl)"/><ellipse cx="444.7" cy="3506.1" rx="10.2" ry="10.8" fill="#4f4f4b"/><circle cx="441.3" cy="3502.1" r="5" fill="url(#hl)"/><ellipse cx="418.4" cy="3548.1" rx="10.2" ry="10.8" fill="#4f4f4b"/><circle cx="415.0" cy="3544.1" r="5" fill="url(#hl)"/><ellipse cx="392.1" cy="3582.7" rx="10.2" ry="10.8" fill="#4f4f4b"/><circle cx="388.7" cy="3578.7" r="5" fill="url(#hl)"/><ellipse cx="365.8" cy="3610.1" rx="10.2" ry="10.8" fill="#4f4f4b"/><circle cx="362.4" cy="3606.1" r="5" fill="url(#hl)"/><ellipse cx="339.5" cy="3631.7" rx="10.2" ry="10.8" fill="#4f4f4b"/><circle cx="336.1" cy="3627.7" r="5" fill="url(#hl)"/><ellipse cx="313.2" cy="3648.3" rx="10.2" ry="10.8" fill="#4f4f4b"/><circle cx="309.8" cy="3644.3" r="5" fill="url(#hl)"/><ellipse cx="286.9" cy="3661.8" rx="10.2" ry="10.8" fill="#4f4f4b"/><circle cx="283.5" cy="3657.8" r="5" fill="url(#hl)"/>
<polyline points="1439.0,3704.3 1407.0,3703.8 1375.0,3703.8 1343.0,3704.2 1311.0,3704.2 1279.0,3703.5 1247.0,3702.2 1215.0,3701.8 1183.0,3700.7 1150.9,3699.2 1118.9,3698.4 1086.9,3694.8 1054.9,3692.2 1022.9,3688.1 990.9,3682.8 958.9,3674.4 926.9,3663.4 894.9,3646.8 862.9,3619.6 830.9,3583.3 798.9,3532.6 766.9,3461.1 734.9,3367.9 702.9,3270.3 670.9,3181.7 638.9,3120.9 606.9,3105.0 574.9,3136.5 542.9,3208.6 510.9,3296.8 478.9,3389.1 446.9,3471.9 414.9,3537.6 382.9,3586.5 350.9,3622.9 318.9,3648.2 286.9,3665.9" fill="none" stroke="#ff3a3a" stroke-width="3.0" stroke-linejoin="round"/>
<ellipse cx="1439.0" cy="3704.3" rx="10.2" ry="10.8" fill="#ff3a3a"/><circle cx="1435.6" cy="3700.3" r="5" fill="url(#hl)"/><ellipse cx="1407.0" cy="3703.8" rx="10.2" ry="10.8" fill="#ff3a3a"/><circle cx="1403.6" cy="3699.8" r="5" fill="url(#hl)"/><ellipse cx="1375.0" cy="3703.8" rx="10.2" ry="10.8" fill="#ff3a3a"/><circle cx="1371.6" cy="3699.8" r="5" fill="url(#hl)"/><ellipse cx="1343.0" cy="3704.2" rx="10.2" ry="10.8" fill="#ff3a3a"/><circle cx="1339.6" cy="3700.2" r="5" fill="url(#hl)"/><ellipse cx="1311.0" cy="3704.2" rx="10.2" ry="10.8" fill="#ff3a3a"/><circle cx="1307.6" cy="3700.2" r="5" fill="url(#hl)"/><ellipse cx="1279.0" cy="3703.5" rx="10.2" ry="10.8" fill="#ff3a3a"/><circle cx="1275.6" cy="3699.5" r="5" fill="url(#hl)"/><ellipse cx="1247.0" cy="3702.2" rx="10.2" ry="10.8" fill="#ff3a3a"/><circle cx="1243.6" cy="3698.2" r="5" fill="url(#hl)"/><ellipse cx="1215.0" cy="3701.8" rx="10.2" ry="10.8" fill="#ff3a3a"/><circle cx="1211.6" cy="3697.8" r="5" fill="url(#hl)"/><ellipse cx="1183.0" cy="3700.7" rx="10.2" ry="10.8" fill="#ff3a3a"/><circle cx="1179.6" cy="3696.7" r="5" fill="url(#hl)"/><ellipse cx="1150.9" cy="3699.2" rx="10.2" ry="10.8" fill="#ff3a3a"/><circle cx="1147.5" cy="3695.2" r="5" fill="url(#hl)"/><ellipse cx="1118.9" cy="3698.4" rx="10.2" ry="10.8" fill="#ff3a3a"/><circle cx="1115.5" cy="3694.4" r="5" fill="url(#hl)"/><ellipse cx="1086.9" cy="3694.8" rx="10.2" ry="10.8" fill="#ff3a3a"/><circle cx="1083.5" cy="3690.8" r="5" fill="url(#hl)"/><ellipse cx="1054.9" cy="3692.2" rx="10.2" ry="10.8" fill="#ff3a3a"/><circle cx="1051.5" cy="3688.2" r="5" fill="url(#hl)"/><ellipse cx="1022.9" cy="3688.1" rx="10.2" ry="10.8" fill="#ff3a3a"/><circle cx="1019.5" cy="3684.1" r="5" fill="url(#hl)"/><ellipse cx="990.9" cy="3682.8" rx="10.2" ry="10.8" fill="#ff3a3a"/><circle cx="987.5" cy="3678.8" r="5" fill="url(#hl)"/><ellipse cx="958.9" cy="3674.4" rx="10.2" ry="10.8" fill="#ff3a3a"/><circle cx="955.5" cy="3670.4" r="5" fill="url(#hl)"/><ellipse cx="926.9" cy="3663.4" rx="10.2" ry="10.8" fill="#ff3a3a"/><circle cx="923.5" cy="3659.4" r="5" fill="url(#hl)"/><ellipse cx="894.9" cy="3646.8" rx="10.2" ry="10.8" fill="#ff3a3a"/><circle cx="891.5" cy="3642.8" r="5" fill="url(#hl)"/><ellipse cx="862.9" cy="3619.6" rx="10.2" ry="10.8" fill="#ff3a3a"/><circle cx="859.5" cy="3615.6" r="5" fill="url(#hl)"/><ellipse cx="830.9" cy="3583.3" rx="10.2" ry="10.8" fill="#ff3a3a"/><circle cx="827.5" cy="3579.3" r="5" fill="url(#hl)"/><ellipse cx="798.9" cy="3532.6" rx="10.2" ry="10.8" fill="#ff3a3a"/><circle cx="795.5" cy="3528.6" r="5" fill="url(#hl)"/><ellipse cx="766.9" cy="3461.1" rx="10.2" ry="10.8" fill="#ff3a3a"/><circle cx="763.5" cy="3457.1" r="5" fill="url(#hl)"/><ellipse cx="734.9" cy="3367.9" rx="10.2" ry="10.8" fill="#ff3a3a"/><circle cx="731.5" cy="3363.9" r="5" fill="url(#hl)"/><ellipse cx="702.9" cy="3270.3" rx="10.2" ry="10.8" fill="#ff3a3a"/><circle cx="699.5" cy="3266.3" r="5" fill="url(#hl)"/><ellipse cx="670.9" cy="3181.7" rx="10.2" ry="10.8" fill="#ff3a3a"/><circle cx="667.5" cy="3177.7" r="5" fill="url(#hl)"/><ellipse cx="638.9" cy="3120.9" rx="10.2" ry="10.8" fill="#ff3a3a"/><circle cx="635.5" cy="3116.9" r="5" fill="url(#hl)"/><ellipse cx="606.9" cy="3105.0" rx="10.2" ry="10.8" fill="#ff3a3a"/><circle cx="603.5" cy="3101.0" r="5" fill="url(#hl)"/><ellipse cx="574.9" cy="3136.5" rx="10.2" ry="10.8" fill="#ff3a3a"/><circle cx="571.5" cy="3132.5" r="5" fill="url(#hl)"/><ellipse cx="542.9" cy="3208.6" rx="10.2" ry="10.8" fill="#ff3a3a"/><circle cx="539.5" cy="3204.6" r="5" fill="url(#hl)"/><ellipse cx="510.9" cy="3296.8" rx="10.2" ry="10.8" fill="#ff3a3a"/><circle cx="507.5" cy="3292.8" r="5" fill="url(#hl)"/><ellipse cx="478.9" cy="3389.1" rx="10.2" ry="10.8" fill="#ff3a3a"/><circle cx="475.5" cy="3385.1" r="5" fill="url(#hl)"/><ellipse cx="446.9" cy="3471.9" rx="10.2" ry="10.8" fill="#ff3a3a"/><circle cx="443.5" cy="3467.9" r="5" fill="url(#hl)"/><ellipse cx="414.9" cy="3537.6" rx="10.2" ry="10.8" fill="#ff3a3a"/><circle cx="411.5" cy="3533.6" r="5" fill="url(#hl)"/><ellipse cx="382.9" cy="3586.5" rx="10.2" ry="10.8" fill="#ff3a3a"/><circle cx="379.5" cy="3582.5" r="5" fill="url(#hl)"/><ellipse cx="350.9" cy="3622.9" rx="10.2" ry="10.8" fill="#ff3a3a"/><circle cx="347.5" cy="3618.9" r="5" fill="url(#hl)"/><ellipse cx="318.9" cy="3648.2" rx="10.2" ry="10.8" fill="#ff3a3a"/><circle cx="315.5" cy="3644.2" r="5" fill="url(#hl)"/><ellipse cx="286.9" cy="3665.9" rx="10.2" ry="10.8" fill="#ff3a3a"/><circle cx="283.5" cy="3661.9" r="5" fill="url(#hl)"/>
<polyline points="1391.5,3703.7 1365.2,3703.6 1338.9,3703.7 1312.6,3703.5 1286.3,3703.1 1260.0,3702.5 1233.7,3701.8 1207.4,3701.1 1181.1,3700.3 1154.8,3698.9 1128.5,3697.3 1102.2,3695.8 1075.9,3693.1 1049.6,3689.2 1023.3,3685.6 997.0,3679.6 970.7,3670.7 944.4,3657.9 918.1,3643.5 891.8,3625.6 865.5,3602.9 839.2,3574.0 812.9,3536.0 786.6,3492.7 760.3,3443.7 734.0,3390.5 707.7,3329.7 681.4,3270.0 655.1,3217.1 628.8,3175.4 602.5,3150.0 576.2,3142.0 549.9,3154.1 523.6,3184.6 497.3,3229.0 471.0,3280.5 444.7,3332.8 418.4,3387.7 392.1,3438.5 365.8,3485.7 339.5,3525.1 313.2,3559.4 286.9,3584.9" fill="none" stroke="#0a64e6" stroke-width="3.0" stroke-linejoin="round"/>
<ellipse cx="1391.5" cy="3703.7" rx="10.2" ry="10.8" fill="#0a64e6"/><circle cx="1388.1" cy="3699.7" r="5" fill="url(#hl)"/><ellipse cx="1365.2" cy="3703.6" rx="10.2" ry="10.8" fill="#0a64e6"/><circle cx="1361.8" cy="3699.6" r="5" fill="url(#hl)"/><ellipse cx="1338.9" cy="3703.7" rx="10.2" ry="10.8" fill="#0a64e6"/><circle cx="1335.5" cy="3699.7" r="5" fill="url(#hl)"/><ellipse cx="1312.6" cy="3703.5" rx="10.2" ry="10.8" fill="#0a64e6"/><circle cx="1309.2" cy="3699.5" r="5" fill="url(#hl)"/><ellipse cx="1286.3" cy="3703.1" rx="10.2" ry="10.8" fill="#0a64e6"/><circle cx="1282.9" cy="3699.1" r="5" fill="url(#hl)"/><ellipse cx="1260.0" cy="3702.5" rx="10.2" ry="10.8" fill="#0a64e6"/><circle cx="1256.6" cy="3698.5" r="5" fill="url(#hl)"/><ellipse cx="1233.7" cy="3701.8" rx="10.2" ry="10.8" fill="#0a64e6"/><circle cx="1230.3" cy="3697.8" r="5" fill="url(#hl)"/><ellipse cx="1207.4" cy="3701.1" rx="10.2" ry="10.8" fill="#0a64e6"/><circle cx="1204.0" cy="3697.1" r="5" fill="url(#hl)"/><ellipse cx="1181.1" cy="3700.3" rx="10.2" ry="10.8" fill="#0a64e6"/><circle cx="1177.7" cy="3696.3" r="5" fill="url(#hl)"/><ellipse cx="1154.8" cy="3698.9" rx="10.2" ry="10.8" fill="#0a64e6"/><circle cx="1151.4" cy="3694.9" r="5" fill="url(#hl)"/><ellipse cx="1128.5" cy="3697.3" rx="10.2" ry="10.8" fill="#0a64e6"/><circle cx="1125.1" cy="3693.3" r="5" fill="url(#hl)"/><ellipse cx="1102.2" cy="3695.8" rx="10.2" ry="10.8" fill="#0a64e6"/><circle cx="1098.8" cy="3691.8" r="5" fill="url(#hl)"/><ellipse cx="1075.9" cy="3693.1" rx="10.2" ry="10.8" fill="#0a64e6"/><circle cx="1072.5" cy="3689.1" r="5" fill="url(#hl)"/><ellipse cx="1049.6" cy="3689.2" rx="10.2" ry="10.8" fill="#0a64e6"/><circle cx="1046.2" cy="3685.2" r="5" fill="url(#hl)"/><ellipse cx="1023.3" cy="3685.6" rx="10.2" ry="10.8" fill="#0a64e6"/><circle cx="1019.9" cy="3681.6" r="5" fill="url(#hl)"/><ellipse cx="997.0" cy="3679.6" rx="10.2" ry="10.8" fill="#0a64e6"/><circle cx="993.6" cy="3675.6" r="5" fill="url(#hl)"/><ellipse cx="970.7" cy="3670.7" rx="10.2" ry="10.8" fill="#0a64e6"/><circle cx="967.3" cy="3666.7" r="5" fill="url(#hl)"/><ellipse cx="944.4" cy="3657.9" rx="10.2" ry="10.8" fill="#0a64e6"/><circle cx="941.0" cy="3653.9" r="5" fill="url(#hl)"/><ellipse cx="918.1" cy="3643.5" rx="10.2" ry="10.8" fill="#0a64e6"/><circle cx="914.7" cy="3639.5" r="5" fill="url(#hl)"/><ellipse cx="891.8" cy="3625.6" rx="10.2" ry="10.8" fill="#0a64e6"/><circle cx="888.4" cy="3621.6" r="5" fill="url(#hl)"/><ellipse cx="865.5" cy="3602.9" rx="10.2" ry="10.8" fill="#0a64e6"/><circle cx="862.1" cy="3598.9" r="5" fill="url(#hl)"/><ellipse cx="839.2" cy="3574.0" rx="10.2" ry="10.8" fill="#0a64e6"/><circle cx="835.8" cy="3570.0" r="5" fill="url(#hl)"/><ellipse cx="812.9" cy="3536.0" rx="10.2" ry="10.8" fill="#0a64e6"/><circle cx="809.5" cy="3532.0" r="5" fill="url(#hl)"/><ellipse cx="786.6" cy="3492.7" rx="10.2" ry="10.8" fill="#0a64e6"/><circle cx="783.2" cy="3488.7" r="5" fill="url(#hl)"/><ellipse cx="760.3" cy="3443.7" rx="10.2" ry="10.8" fill="#0a64e6"/><circle cx="756.9" cy="3439.7" r="5" fill="url(#hl)"/><ellipse cx="734.0" cy="3390.5" rx="10.2" ry="10.8" fill="#0a64e6"/><circle cx="730.6" cy="3386.5" r="5" fill="url(#hl)"/><ellipse cx="707.7" cy="3329.7" rx="10.2" ry="10.8" fill="#0a64e6"/><circle cx="704.3" cy="3325.7" r="5" fill="url(#hl)"/><ellipse cx="681.4" cy="3270.0" rx="10.2" ry="10.8" fill="#0a64e6"/><circle cx="678.0" cy="3266.0" r="5" fill="url(#hl)"/><ellipse cx="655.1" cy="3217.1" rx="10.2" ry="10.8" fill="#0a64e6"/><circle cx="651.7" cy="3213.1" r="5" fill="url(#hl)"/><ellipse cx="628.8" cy="3175.4" rx="10.2" ry="10.8" fill="#0a64e6"/><circle cx="625.4" cy="3171.4" r="5" fill="url(#hl)"/><ellipse cx="602.5" cy="3150.0" rx="10.2" ry="10.8" fill="#0a64e6"/><circle cx="599.1" cy="3146.0" r="5" fill="url(#hl)"/><ellipse cx="576.2" cy="3142.0" rx="10.2" ry="10.8" fill="#0a64e6"/><circle cx="572.8" cy="3138.0" r="5" fill="url(#hl)"/><ellipse cx="549.9" cy="3154.1" rx="10.2" ry="10.8" fill="#0a64e6"/><circle cx="546.5" cy="3150.1" r="5" fill="url(#hl)"/><ellipse cx="523.6" cy="3184.6" rx="10.2" ry="10.8" fill="#0a64e6"/><circle cx="520.2" cy="3180.6" r="5" fill="url(#hl)"/><ellipse cx="497.3" cy="3229.0" rx="10.2" ry="10.8" fill="#0a64e6"/><circle cx="493.9" cy="3225.0" r="5" fill="url(#hl)"/><ellipse cx="471.0" cy="3280.5" rx="10.2" ry="10.8" fill="#0a64e6"/><circle cx="467.6" cy="3276.5" r="5" fill="url(#hl)"/><ellipse cx="444.7" cy="3332.8" rx="10.2" ry="10.8" fill="#0a64e6"/><circle cx="441.3" cy="3328.8" r="5" fill="url(#hl)"/><ellipse cx="418.4" cy="3387.7" rx="10.2" ry="10.8" fill="#0a64e6"/><circle cx="415.0" cy="3383.7" r="5" fill="url(#hl)"/><ellipse cx="392.1" cy="3438.5" rx="10.2" ry="10.8" fill="#0a64e6"/><circle cx="388.7" cy="3434.5" r="5" fill="url(#hl)"/><ellipse cx="365.8" cy="3485.7" rx="10.2" ry="10.8" fill="#0a64e6"/><circle cx="362.4" cy="3481.7" r="5" fill="url(#hl)"/><ellipse cx="339.5" cy="3525.1" rx="10.2" ry="10.8" fill="#0a64e6"/><circle cx="336.1" cy="3521.1" r="5" fill="url(#hl)"/><ellipse cx="313.2" cy="3559.4" rx="10.2" ry="10.8" fill="#0a64e6"/><circle cx="309.8" cy="3555.4" r="5" fill="url(#hl)"/><ellipse cx="286.9" cy="3584.9" rx="10.2" ry="10.8" fill="#0a64e6"/><circle cx="283.5" cy="3580.9" r="5" fill="url(#hl)"/>
<polyline points="1391.5,3703.7 1365.2,3703.7 1338.9,3703.8 1312.6,3703.6 1286.3,3703.3 1260.0,3702.5 1233.7,3701.9 1207.4,3701.2 1181.1,3700.3 1154.8,3699.0 1128.5,3697.5 1102.2,3696.0 1075.9,3693.2 1049.6,3689.4 1023.3,3685.6 997.0,3677.4 970.7,3663.9 944.4,3650.9 918.1,3636.2 891.8,3618.6 865.5,3594.8 839.2,3562.9 812.9,3520.9 786.6,3468.1 760.3,3402.2 734.0,3327.2 707.7,3247.8 681.4,3171.4 655.1,3105.4 628.8,3054.5 602.5,3021.8 576.2,3006.1 549.9,3008.0 523.6,3032.1 497.3,3080.4 471.0,3152.0 444.7,3241.2 418.4,3328.5 392.1,3408.7 365.8,3471.8 339.5,3524.9 313.2,3568.5 286.9,3604.7" fill="none" stroke="#00a85c" stroke-width="3.0" stroke-linejoin="round"/>
<ellipse cx="1391.5" cy="3703.7" rx="10.2" ry="10.8" fill="#00a85c"/><circle cx="1388.1" cy="3699.7" r="5" fill="url(#hl)"/><ellipse cx="1365.2" cy="3703.7" rx="10.2" ry="10.8" fill="#00a85c"/><circle cx="1361.8" cy="3699.7" r="5" fill="url(#hl)"/><ellipse cx="1338.9" cy="3703.8" rx="10.2" ry="10.8" fill="#00a85c"/><circle cx="1335.5" cy="3699.8" r="5" fill="url(#hl)"/><ellipse cx="1312.6" cy="3703.6" rx="10.2" ry="10.8" fill="#00a85c"/><circle cx="1309.2" cy="3699.6" r="5" fill="url(#hl)"/><ellipse cx="1286.3" cy="3703.3" rx="10.2" ry="10.8" fill="#00a85c"/><circle cx="1282.9" cy="3699.3" r="5" fill="url(#hl)"/><ellipse cx="1260.0" cy="3702.5" rx="10.2" ry="10.8" fill="#00a85c"/><circle cx="1256.6" cy="3698.5" r="5" fill="url(#hl)"/><ellipse cx="1233.7" cy="3701.9" rx="10.2" ry="10.8" fill="#00a85c"/><circle cx="1230.3" cy="3697.9" r="5" fill="url(#hl)"/><ellipse cx="1207.4" cy="3701.2" rx="10.2" ry="10.8" fill="#00a85c"/><circle cx="1204.0" cy="3697.2" r="5" fill="url(#hl)"/><ellipse cx="1181.1" cy="3700.3" rx="10.2" ry="10.8" fill="#00a85c"/><circle cx="1177.7" cy="3696.3" r="5" fill="url(#hl)"/><ellipse cx="1154.8" cy="3699.0" rx="10.2" ry="10.8" fill="#00a85c"/><circle cx="1151.4" cy="3695.0" r="5" fill="url(#hl)"/><ellipse cx="1128.5" cy="3697.5" rx="10.2" ry="10.8" fill="#00a85c"/><circle cx="1125.1" cy="3693.5" r="5" fill="url(#hl)"/><ellipse cx="1102.2" cy="3696.0" rx="10.2" ry="10.8" fill="#00a85c"/><circle cx="1098.8" cy="3692.0" r="5" fill="url(#hl)"/><ellipse cx="1075.9" cy="3693.2" rx="10.2" ry="10.8" fill="#00a85c"/><circle cx="1072.5" cy="3689.2" r="5" fill="url(#hl)"/><ellipse cx="1049.6" cy="3689.4" rx="10.2" ry="10.8" fill="#00a85c"/><circle cx="1046.2" cy="3685.4" r="5" fill="url(#hl)"/><ellipse cx="1023.3" cy="3685.6" rx="10.2" ry="10.8" fill="#00a85c"/><circle cx="1019.9" cy="3681.6" r="5" fill="url(#hl)"/><ellipse cx="997.0" cy="3677.4" rx="10.2" ry="10.8" fill="#00a85c"/><circle cx="993.6" cy="3673.4" r="5" fill="url(#hl)"/><ellipse cx="970.7" cy="3663.9" rx="10.2" ry="10.8" fill="#00a85c"/><circle cx="967.3" cy="3659.9" r="5" fill="url(#hl)"/><ellipse cx="944.4" cy="3650.9" rx="10.2" ry="10.8" fill="#00a85c"/><circle cx="941.0" cy="3646.9" r="5" fill="url(#hl)"/><ellipse cx="918.1" cy="3636.2" rx="10.2" ry="10.8" fill="#00a85c"/><circle cx="914.7" cy="3632.2" r="5" fill="url(#hl)"/><ellipse cx="891.8" cy="3618.6" rx="10.2" ry="10.8" fill="#00a85c"/><circle cx="888.4" cy="3614.6" r="5" fill="url(#hl)"/><ellipse cx="865.5" cy="3594.8" rx="10.2" ry="10.8" fill="#00a85c"/><circle cx="862.1" cy="3590.8" r="5" fill="url(#hl)"/><ellipse cx="839.2" cy="3562.9" rx="10.2" ry="10.8" fill="#00a85c"/><circle cx="835.8" cy="3558.9" r="5" fill="url(#hl)"/><ellipse cx="812.9" cy="3520.9" rx="10.2" ry="10.8" fill="#00a85c"/><circle cx="809.5" cy="3516.9" r="5" fill="url(#hl)"/><ellipse cx="786.6" cy="3468.1" rx="10.2" ry="10.8" fill="#00a85c"/><circle cx="783.2" cy="3464.1" r="5" fill="url(#hl)"/><ellipse cx="760.3" cy="3402.2" rx="10.2" ry="10.8" fill="#00a85c"/><circle cx="756.9" cy="3398.2" r="5" fill="url(#hl)"/><ellipse cx="734.0" cy="3327.2" rx="10.2" ry="10.8" fill="#00a85c"/><circle cx="730.6" cy="3323.2" r="5" fill="url(#hl)"/><ellipse cx="707.7" cy="3247.8" rx="10.2" ry="10.8" fill="#00a85c"/><circle cx="704.3" cy="3243.8" r="5" fill="url(#hl)"/><ellipse cx="681.4" cy="3171.4" rx="10.2" ry="10.8" fill="#00a85c"/><circle cx="678.0" cy="3167.4" r="5" fill="url(#hl)"/><ellipse cx="655.1" cy="3105.4" rx="10.2" ry="10.8" fill="#00a85c"/><circle cx="651.7" cy="3101.4" r="5" fill="url(#hl)"/><ellipse cx="628.8" cy="3054.5" rx="10.2" ry="10.8" fill="#00a85c"/><circle cx="625.4" cy="3050.5" r="5" fill="url(#hl)"/><ellipse cx="602.5" cy="3021.8" rx="10.2" ry="10.8" fill="#00a85c"/><circle cx="599.1" cy="3017.8" r="5" fill="url(#hl)"/><ellipse cx="576.2" cy="3006.1" rx="10.2" ry="10.8" fill="#00a85c"/><circle cx="572.8" cy="3002.1" r="5" fill="url(#hl)"/><ellipse cx="549.9" cy="3008.0" rx="10.2" ry="10.8" fill="#00a85c"/><circle cx="546.5" cy="3004.0" r="5" fill="url(#hl)"/><ellipse cx="523.6" cy="3032.1" rx="10.2" ry="10.8" fill="#00a85c"/><circle cx="520.2" cy="3028.1" r="5" fill="url(#hl)"/><ellipse cx="497.3" cy="3080.4" rx="10.2" ry="10.8" fill="#00a85c"/><circle cx="493.9" cy="3076.4" r="5" fill="url(#hl)"/><ellipse cx="471.0" cy="3152.0" rx="10.2" ry="10.8" fill="#00a85c"/><circle cx="467.6" cy="3148.0" r="5" fill="url(#hl)"/><ellipse cx="444.7" cy="3241.2" rx="10.2" ry="10.8" fill="#00a85c"/><circle cx="441.3" cy="3237.2" r="5" fill="url(#hl)"/><ellipse cx="418.4" cy="3328.5" rx="10.2" ry="10.8" fill="#00a85c"/><circle cx="415.0" cy="3324.5" r="5" fill="url(#hl)"/><ellipse cx="392.1" cy="3408.7" rx="10.2" ry="10.8" fill="#00a85c"/><circle cx="388.7" cy="3404.7" r="5" fill="url(#hl)"/><ellipse cx="365.8" cy="3471.8" rx="10.2" ry="10.8" fill="#00a85c"/><circle cx="362.4" cy="3467.8" r="5" fill="url(#hl)"/><ellipse cx="339.5" cy="3524.9" rx="10.2" ry="10.8" fill="#00a85c"/><circle cx="336.1" cy="3520.9" r="5" fill="url(#hl)"/><ellipse cx="313.2" cy="3568.5" rx="10.2" ry="10.8" fill="#00a85c"/><circle cx="309.8" cy="3564.5" r="5" fill="url(#hl)"/><ellipse cx="286.9" cy="3604.7" rx="10.2" ry="10.8" fill="#00a85c"/><circle cx="283.5" cy="3600.7" r="5" fill="url(#hl)"/>
<polyline points="1391.5,3703.7 1365.2,3703.6 1338.9,3703.7 1312.6,3703.4 1286.3,3703.1 1260.0,3702.4 1233.7,3701.8 1207.4,3701.1 1181.1,3700.2 1154.8,3699.0 1128.5,3697.4 1102.2,3695.8 1075.9,3693.2 1049.6,3689.4 1023.3,3685.4 997.0,3678.2 970.7,3666.5 944.4,3654.8 918.1,3642.3 891.8,3626.9 865.5,3608.6 839.2,3582.7 812.9,3547.6 786.6,3504.6 760.3,3450.0 734.0,3387.7 707.7,3315.1 681.4,3238.9 655.1,3166.6 628.8,3104.7 602.5,3061.1 576.2,3039.1 549.9,3041.5 523.6,3067.6 497.3,3113.3 471.0,3175.0 444.7,3245.1 418.4,3316.1 392.1,3384.8 365.8,3447.1 339.5,3501.9 313.2,3547.7 286.9,3584.3" fill="none" stroke="#c86ee0" stroke-width="3.0" stroke-linejoin="round"/>
<ellipse cx="1391.5" cy="3703.7" rx="10.2" ry="10.8" fill="#c86ee0"/><circle cx="1388.1" cy="3699.7" r="5" fill="url(#hl)"/><ellipse cx="1365.2" cy="3703.6" rx="10.2" ry="10.8" fill="#c86ee0"/><circle cx="1361.8" cy="3699.6" r="5" fill="url(#hl)"/><ellipse cx="1338.9" cy="3703.7" rx="10.2" ry="10.8" fill="#c86ee0"/><circle cx="1335.5" cy="3699.7" r="5" fill="url(#hl)"/><ellipse cx="1312.6" cy="3703.4" rx="10.2" ry="10.8" fill="#c86ee0"/><circle cx="1309.2" cy="3699.4" r="5" fill="url(#hl)"/><ellipse cx="1286.3" cy="3703.1" rx="10.2" ry="10.8" fill="#c86ee0"/><circle cx="1282.9" cy="3699.1" r="5" fill="url(#hl)"/><ellipse cx="1260.0" cy="3702.4" rx="10.2" ry="10.8" fill="#c86ee0"/><circle cx="1256.6" cy="3698.4" r="5" fill="url(#hl)"/><ellipse cx="1233.7" cy="3701.8" rx="10.2" ry="10.8" fill="#c86ee0"/><circle cx="1230.3" cy="3697.8" r="5" fill="url(#hl)"/><ellipse cx="1207.4" cy="3701.1" rx="10.2" ry="10.8" fill="#c86ee0"/><circle cx="1204.0" cy="3697.1" r="5" fill="url(#hl)"/><ellipse cx="1181.1" cy="3700.2" rx="10.2" ry="10.8" fill="#c86ee0"/><circle cx="1177.7" cy="3696.2" r="5" fill="url(#hl)"/><ellipse cx="1154.8" cy="3699.0" rx="10.2" ry="10.8" fill="#c86ee0"/><circle cx="1151.4" cy="3695.0" r="5" fill="url(#hl)"/><ellipse cx="1128.5" cy="3697.4" rx="10.2" ry="10.8" fill="#c86ee0"/><circle cx="1125.1" cy="3693.4" r="5" fill="url(#hl)"/><ellipse cx="1102.2" cy="3695.8" rx="10.2" ry="10.8" fill="#c86ee0"/><circle cx="1098.8" cy="3691.8" r="5" fill="url(#hl)"/><ellipse cx="1075.9" cy="3693.2" rx="10.2" ry="10.8" fill="#c86ee0"/><circle cx="1072.5" cy="3689.2" r="5" fill="url(#hl)"/><ellipse cx="1049.6" cy="3689.4" rx="10.2" ry="10.8" fill="#c86ee0"/><circle cx="1046.2" cy="3685.4" r="5" fill="url(#hl)"/><ellipse cx="1023.3" cy="3685.4" rx="10.2" ry="10.8" fill="#c86ee0"/><circle cx="1019.9" cy="3681.4" r="5" fill="url(#hl)"/><ellipse cx="997.0" cy="3678.2" rx="10.2" ry="10.8" fill="#c86ee0"/><circle cx="993.6" cy="3674.2" r="5" fill="url(#hl)"/><ellipse cx="970.7" cy="3666.5" rx="10.2" ry="10.8" fill="#c86ee0"/><circle cx="967.3" cy="3662.5" r="5" fill="url(#hl)"/><ellipse cx="944.4" cy="3654.8" rx="10.2" ry="10.8" fill="#c86ee0"/><circle cx="941.0" cy="3650.8" r="5" fill="url(#hl)"/><ellipse cx="918.1" cy="3642.3" rx="10.2" ry="10.8" fill="#c86ee0"/><circle cx="914.7" cy="3638.3" r="5" fill="url(#hl)"/><ellipse cx="891.8" cy="3626.9" rx="10.2" ry="10.8" fill="#c86ee0"/><circle cx="888.4" cy="3622.9" r="5" fill="url(#hl)"/><ellipse cx="865.5" cy="3608.6" rx="10.2" ry="10.8" fill="#c86ee0"/><circle cx="862.1" cy="3604.6" r="5" fill="url(#hl)"/><ellipse cx="839.2" cy="3582.7" rx="10.2" ry="10.8" fill="#c86ee0"/><circle cx="835.8" cy="3578.7" r="5" fill="url(#hl)"/><ellipse cx="812.9" cy="3547.6" rx="10.2" ry="10.8" fill="#c86ee0"/><circle cx="809.5" cy="3543.6" r="5" fill="url(#hl)"/><ellipse cx="786.6" cy="3504.6" rx="10.2" ry="10.8" fill="#c86ee0"/><circle cx="783.2" cy="3500.6" r="5" fill="url(#hl)"/><ellipse cx="760.3" cy="3450.0" rx="10.2" ry="10.8" fill="#c86ee0"/><circle cx="756.9" cy="3446.0" r="5" fill="url(#hl)"/><ellipse cx="734.0" cy="3387.7" rx="10.2" ry="10.8" fill="#c86ee0"/><circle cx="730.6" cy="3383.7" r="5" fill="url(#hl)"/><ellipse cx="707.7" cy="3315.1" rx="10.2" ry="10.8" fill="#c86ee0"/><circle cx="704.3" cy="3311.1" r="5" fill="url(#hl)"/><ellipse cx="681.4" cy="3238.9" rx="10.2" ry="10.8" fill="#c86ee0"/><circle cx="678.0" cy="3234.9" r="5" fill="url(#hl)"/><ellipse cx="655.1" cy="3166.6" rx="10.2" ry="10.8" fill="#c86ee0"/><circle cx="651.7" cy="3162.6" r="5" fill="url(#hl)"/><ellipse cx="628.8" cy="3104.7" rx="10.2" ry="10.8" fill="#c86ee0"/><circle cx="625.4" cy="3100.7" r="5" fill="url(#hl)"/><ellipse cx="602.5" cy="3061.1" rx="10.2" ry="10.8" fill="#c86ee0"/><circle cx="599.1" cy="3057.1" r="5" fill="url(#hl)"/><ellipse cx="576.2" cy="3039.1" rx="10.2" ry="10.8" fill="#c86ee0"/><circle cx="572.8" cy="3035.1" r="5" fill="url(#hl)"/><ellipse cx="549.9" cy="3041.5" rx="10.2" ry="10.8" fill="#c86ee0"/><circle cx="546.5" cy="3037.5" r="5" fill="url(#hl)"/><ellipse cx="523.6" cy="3067.6" rx="10.2" ry="10.8" fill="#c86ee0"/><circle cx="520.2" cy="3063.6" r="5" fill="url(#hl)"/><ellipse cx="497.3" cy="3113.3" rx="10.2" ry="10.8" fill="#c86ee0"/><circle cx="493.9" cy="3109.3" r="5" fill="url(#hl)"/><ellipse cx="471.0" cy="3175.0" rx="10.2" ry="10.8" fill="#c86ee0"/><circle cx="467.6" cy="3171.0" r="5" fill="url(#hl)"/><ellipse cx="444.7" cy="3245.1" rx="10.2" ry="10.8" fill="#c86ee0"/><circle cx="441.3" cy="3241.1" r="5" fill="url(#hl)"/><ellipse cx="418.4" cy="3316.1" rx="10.2" ry="10.8" fill="#c86ee0"/><circle cx="415.0" cy="3312.1" r="5" fill="url(#hl)"/><ellipse cx="392.1" cy="3384.8" rx="10.2" ry="10.8" fill="#c86ee0"/><circle cx="388.7" cy="3380.8" r="5" fill="url(#hl)"/><ellipse cx="365.8" cy="3447.1" rx="10.2" ry="10.8" fill="#c86ee0"/><circle cx="362.4" cy="3443.1" r="5" fill="url(#hl)"/><ellipse cx="339.5" cy="3501.9" rx="10.2" ry="10.8" fill="#c86ee0"/><circle cx="336.1" cy="3497.9" r="5" fill="url(#hl)"/><ellipse cx="313.2" cy="3547.7" rx="10.2" ry="10.8" fill="#c86ee0"/><circle cx="309.8" cy="3543.7" r="5" fill="url(#hl)"/><ellipse cx="286.9" cy="3584.3" rx="10.2" ry="10.8" fill="#c86ee0"/><circle cx="283.5" cy="3580.3" r="5" fill="url(#hl)"/>
</g>
<text x="266.0" y="3728.6" font-size="80" text-anchor="end" >0</text>
<text x="266.0" y="3540.0" font-size="80" text-anchor="end" >10</text>
<text x="266.0" y="3351.4" font-size="80" text-anchor="end" >20</text>
<text x="266.0" y="3162.8" font-size="80" text-anchor="end" >30</text>
<text x="266.0" y="2974.2" font-size="80" text-anchor="end" >40</text>
<text x="287.4" y="3893.5" font-size="80" text-anchor="middle">10<tspan dy="-32" font-size="53">-2</tspan></text>
<text x="445.2" y="3893.5" font-size="80" text-anchor="middle">10<tspan dy="-32" font-size="53">-1</tspan></text>
<text x="603.0" y="3893.5" font-size="80" text-anchor="middle">10<tspan dy="-32" font-size="53">0</tspan></text>
<text x="760.8" y="3893.5" font-size="80" text-anchor="middle">10<tspan dy="-32" font-size="53">1</tspan></text>
<text x="918.6" y="3893.5" font-size="80" text-anchor="middle">10<tspan dy="-32" font-size="53">2</tspan></text>
<text x="1076.4" y="3893.5" font-size="80" text-anchor="middle">10<tspan dy="-32" font-size="53">3</tspan></text>
<text x="1234.2" y="3893.5" font-size="80" text-anchor="middle">10<tspan dy="-32" font-size="53">4</tspan></text>
<text x="1392.0" y="3893.5" font-size="80" text-anchor="middle">10<tspan dy="-32" font-size="53">5</tspan></text>
<text x="871" y="3987" font-size="80" text-anchor="middle">Frequency (Hz)</text>
<text transform="translate(99.1,2816.9) scale(1.025,1)" font-size="157">(c)</text>
<text transform="translate(159,3326) rotate(-90)" font-size="80" text-anchor="middle">-Phase angle (deg)</text>
<line x1="925" y1="2961.2" x2="1068.8" y2="2961.2" stroke="#4f4f4b" stroke-width="5"/>
<ellipse cx="996.4" cy="2961.2" rx="10.2" ry="10.8" fill="#4f4f4b"/><circle cx="993.0" cy="2957.2" r="5" fill="url(#hl)"/>
<text x="1081.4" y="2982.5" font-size="61">Blank</text>
<line x1="925" y1="3045.6" x2="1068.8" y2="3045.6" stroke="#ff3a3a" stroke-width="2.5"/>
<ellipse cx="996.4" cy="3045.6" rx="10.2" ry="10.8" fill="#ff3a3a"/><circle cx="993.0" cy="3041.6" r="5" fill="url(#hl)"/>
<text y="3066.9" font-size="61"><tspan x="1080.8">20</tspan><tspan x="1160">mg</tspan><tspan x="1238.3">·</tspan><tspan x="1260">L</tspan></text>
<text x="1296.2" y="3043.4" font-size="47" fill-opacity="1">−</text>
<text x="1324.6" y="3042.0" font-size="41.5">1</text>
<line x1="925" y1="3132.4" x2="1068.8" y2="3132.4" stroke="#0a64e6" stroke-width="2.5"/>
<ellipse cx="996.4" cy="3132.4" rx="10.2" ry="10.8" fill="#0a64e6"/><circle cx="993.0" cy="3128.4" r="5" fill="url(#hl)"/>
<text y="3153.7" font-size="61"><tspan x="1080.8">40</tspan><tspan x="1160">mg</tspan><tspan x="1238.3">·</tspan><tspan x="1260">L</tspan></text>
<text x="1296.2" y="3130.2" font-size="47" fill-opacity="1">−</text>
<text x="1324.6" y="3128.8" font-size="41.5">1</text>
<line x1="925" y1="3217.3" x2="1068.8" y2="3217.3" stroke="#00a85c" stroke-width="5"/>
<ellipse cx="996.4" cy="3217.3" rx="10.2" ry="10.8" fill="#00a85c"/><circle cx="993.0" cy="3213.3" r="5" fill="url(#hl)"/>
<text y="3238.6" font-size="61"><tspan x="1080.8">60</tspan><tspan x="1160">mg</tspan><tspan x="1238.3">·</tspan><tspan x="1260">L</tspan></text>
<text x="1296.2" y="3215.1" font-size="47" fill-opacity="0.25">−</text>
<text x="1324.6" y="3213.7" font-size="41.5">1</text>
<line x1="925" y1="3301.6" x2="1068.8" y2="3301.6" stroke="#c86ee0" stroke-width="5"/>
<ellipse cx="996.4" cy="3301.6" rx="10.2" ry="10.8" fill="#c86ee0"/><circle cx="993.0" cy="3297.6" r="5" fill="url(#hl)"/>
<text y="3322.9" font-size="61"><tspan x="1080.8">80</tspan><tspan x="1160">mg</tspan><tspan x="1238.3">·</tspan><tspan x="1260">L</tspan></text>
<text x="1324.6" y="3298.0" font-size="41.5">1</text>
</svg></body></html>
